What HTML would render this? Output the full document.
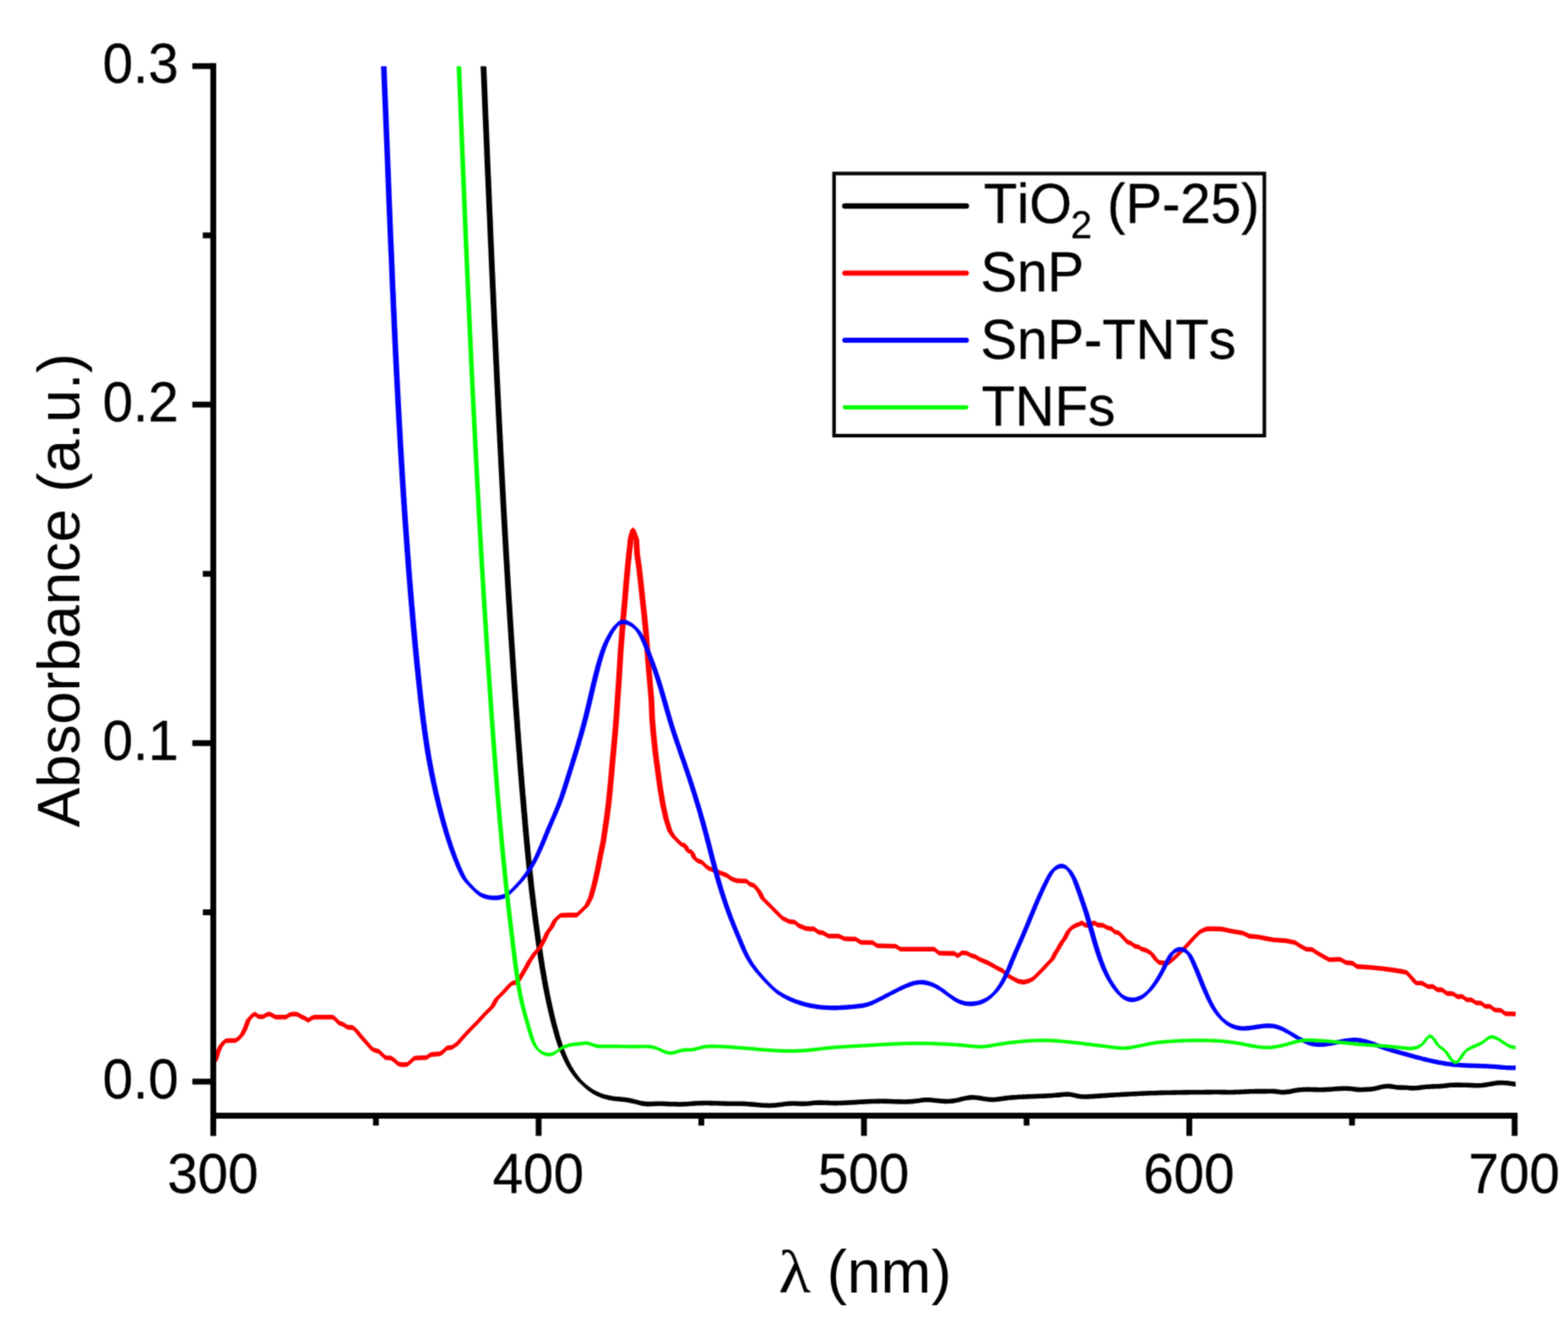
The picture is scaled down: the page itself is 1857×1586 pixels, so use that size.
<!DOCTYPE html>
<html><head><meta charset="utf-8"><title>UV-Vis Absorbance</title>
<style>
html,body{margin:0;padding:0;background:#fff;}
body{width:1857px;height:1586px;overflow:hidden;}
svg{display:block;}
text{font-family:"Liberation Sans",sans-serif;fill:#000;font-kerning:none;}
.b{stroke:#000;stroke-width:0.3px;stroke-linejoin:round;}
.sym{font-family:"Liberation Serif",serif;}
</style></head><body>
<svg width="1857" height="1586" viewBox="0 0 1857 1586">
<rect width="1857" height="1586" fill="#fff"/>
<defs><clipPath id="c"><rect x="250" y="78.6" width="1545" height="1246"/></clipPath>
<filter id="soft" x="0" y="0" width="1857" height="1586" filterUnits="userSpaceOnUse" color-interpolation-filters="sRGB"><feConvolveMatrix order="3" kernelMatrix="0.0400 0.1200 0.0400 0.1200 0.3600 0.1200 0.0400 0.1200 0.0400" divisor="1" edgeMode="duplicate" preserveAlpha="true"/></filter></defs>
<g filter="url(#soft)">
<rect width="1857" height="1586" fill="#fff"/>

<g clip-path="url(#c)" stroke="none" fill-rule="nonzero">
<path d="M571.7 55.2 571.8 57.7 571.9 60.2 572 62.7 572.1 65.2 572.2 67.7 572.3 70.2 572.5 72.7 572.5 75.2 572.6 77.7 572.8 80.2 572.9 82.7 573 85.2 573.1 87.7 573.2 90.2 573.3 92.7 573.4 95.2 573.5 97.7 573.6 100.2 573.7 102.7 573.8 105.2 573.9 107.7 574 110.2 574.1 112.7 574.2 115.2 574.3 117.7 574.4 120.1 574.5 122.6 574.6 125.1 574.7 127.6 574.8 130.1 574.9 132.6 575 135.1 575.1 137.6 575.2 140.1 575.4 142.6 575.5 145.1 575.5 147.6 575.7 150.1 575.8 152.6 575.9 155.1 576 157.6 576.1 160.1 576.2 162.6 576.3 165.1 576.4 167.6 576.5 170.1 576.6 172.6 576.7 175.1 576.8 177.6 576.9 180.1 577 182.6 577.1 185.1 577.2 187.6 577.3 190.1 577.4 192.6 577.5 195.1 577.6 197.6 577.7 200.1 577.8 202.6 578 205.1 578 207.6 578.2 210.1 578.3 212.6 578.4 215.1 578.5 217.6 578.6 220.1 578.7 222.5 578.8 225 578.9 227.5 579 230 579.1 232.5 579.2 235 579.3 237.5 579.4 240 579.5 242.5 579.6 245 579.7 247.5 579.9 250 580 252.5 580.1 255 580.2 257.5 580.3 260 580.4 262.5 580.5 265 580.6 267.5 580.7 270 580.8 272.5 580.9 275 581 277.5 581.1 280 581.2 282.5 581.3 285 581.5 287.5 581.6 290 581.7 292.5 581.8 295 581.9 297.5 582 300 582.1 302.5 582.2 305 582.3 307.5 582.4 310 582.5 312.5 582.6 315 582.8 317.5 582.9 320 583 322.5 583.1 325 583.2 327.5 583.3 330 583.4 332.4 583.5 334.9 583.6 337.4 583.7 339.9 583.9 342.4 584 344.9 584.1 347.4 584.2 349.9 584.3 352.4 584.4 354.9 584.5 357.4 584.6 359.9 584.8 362.4 584.9 364.9 585 367.4 585.1 369.9 585.2 372.4 585.3 374.9 585.4 377.4 585.5 379.9 585.6 382.4 585.8 384.9 585.9 387.4 586 389.9 586.1 392.4 586.2 394.9 586.3 397.4 586.5 399.9 586.6 402.4 586.7 404.9 586.8 407.4 586.9 409.9 587 412.4 587.1 414.9 587.3 417.4 587.4 419.9 587.5 422.4 587.6 424.9 587.7 427.3 587.9 429.8 588 432.3 588.1 434.8 588.2 437.3 588.3 439.8 588.4 442.3 588.6 444.8 588.7 447.3 588.8 449.8 588.9 452.3 589 454.8 589.1 457.3 589.3 459.8 589.4 462.3 589.5 464.8 589.6 467.3 589.8 469.8 589.9 472.3 590 474.8 590.1 477.3 590.2 479.8 590.4 482.3 590.5 484.8 590.6 487.3 590.7 489.8 590.9 492.3 591 494.8 591.1 497.3 591.2 499.8 591.4 502.3 591.5 504.8 591.6 507.3 591.7 509.8 591.9 512.2 592 514.8 592.1 517.2 592.2 519.7 592.4 522.2 592.5 524.7 592.6 527.2 592.8 529.7 592.9 532.2 593 534.7 593.1 537.2 593.3 539.7 593.4 542.2 593.5 544.7 593.6 547.2 593.8 549.7 593.9 552.2 594 554.7 594.2 557.2 594.3 559.7 594.4 562.2 594.6 564.7 594.7 567.2 594.8 569.7 595 572.2 595.1 574.7 595.2 577.2 595.4 579.7 595.5 582.2 595.6 584.7 595.8 587.2 595.9 589.6 596 592.1 596.2 594.6 596.3 597.1 596.4 599.6 596.6 602.1 596.7 604.6 596.9 607.1 597 609.6 597.1 612.1 597.3 614.6 597.4 617.1 597.5 619.6 597.7 622.1 597.8 624.6 598 627.1 598.1 629.6 598.2 632.1 598.4 634.6 598.5 637.1 598.7 639.6 598.8 642.1 599 644.6 599.1 647.1 599.2 649.6 599.4 652.1 599.5 654.5 599.7 657 599.8 659.5 600 662 600.1 664.5 600.3 667 600.4 669.5 600.5 672 600.7 674.5 600.9 677 601 679.5 601.1 682 601.3 684.5 601.4 687 601.6 689.5 601.7 692 601.9 694.5 602 697 602.2 699.5 602.3 702 602.5 704.5 602.6 707 602.8 709.5 603 711.9 603.1 714.4 603.3 716.9 603.4 719.4 603.6 721.9 603.7 724.4 603.9 726.9 604 729.4 604.2 731.9 604.4 734.4 604.5 736.9 604.7 739.4 604.8 741.9 605 744.4 605.1 746.9 605.3 749.4 605.5 751.9 605.6 754.4 605.8 756.9 606 759.4 606.1 761.8 606.3 764.3 606.4 766.8 606.6 769.3 606.8 771.8 606.9 774.3 607.1 776.8 607.3 779.3 607.4 781.8 607.6 784.3 607.8 786.8 607.9 789.3 608.1 791.8 608.3 794.3 608.4 796.8 608.6 799.3 608.8 801.8 608.9 804.2 609.1 806.8 609.3 809.2 609.5 811.7 609.6 814.2 609.8 816.7 610 819.2 610.1 821.7 610.3 824.2 610.5 826.7 610.7 829.2 610.8 831.7 611 834.2 611.2 836.7 611.4 839.2 611.6 841.7 611.7 844.2 611.9 846.7 612.1 849.2 612.3 851.6 612.5 854.1 612.6 856.6 612.8 859.1 613 861.6 613.2 864.1 613.4 866.6 613.6 869.1 613.8 871.6 613.9 874.1 614.1 876.6 614.3 879.1 614.5 881.6 614.7 884.1 614.9 886.5 615.1 889 615.3 891.5 615.5 894 615.6 896.5 615.9 899 616 901.5 616.2 904 616.4 906.5 616.6 909 616.8 911.5 617 914 617.2 916.5 617.4 918.9 617.6 921.4 617.8 923.9 618 926.4 618.2 928.9 618.4 931.4 618.6 933.9 618.9 936.4 619 938.9 619.3 941.4 619.5 943.9 619.7 946.3 619.9 948.8 620.1 951.3 620.3 953.8 620.5 956.3 620.7 958.8 621 961.3 621.2 963.8 621.4 966.3 621.6 968.8 621.8 971.2 622 973.7 622.2 976.2 622.5 978.7 622.7 981.2 622.9 983.7 623.1 986.2 623.4 988.7 623.6 991.2 623.8 993.6 624.1 996.1 624.3 998.6 624.5 1001.1 624.8 1003.6 625 1006.1 625.2 1008.6 625.5 1011.1 625.7 1013.5 626 1016 626.2 1018.5 626.5 1021 626.7 1023.5 627 1026 627.3 1028.5 627.5 1031 627.8 1033.4 628.1 1035.9 628.3 1038.4 628.6 1040.9 628.9 1043.4 629.1 1045.9 629.4 1048.4 629.7 1050.8 630 1053.3 630.3 1055.8 630.6 1058.3 630.9 1060.8 631.2 1063.2 631.5 1065.7 631.8 1068.2 632.1 1070.7 632.4 1073.2 632.7 1075.7 633 1078.1 633.4 1080.6 633.7 1083.1 634 1085.6 634.3 1088.1 634.7 1090.5 635 1093 635.3 1095.5 635.7 1098 636 1100.5 636.4 1102.9 636.7 1105.4 637 1107.9 637.4 1110.4 637.7 1112.8 638.1 1115.3 638.4 1117.8 638.8 1120.3 639.2 1122.7 639.5 1125.2 639.9 1127.7 640.3 1130.1 640.7 1132.6 641 1135.1 641.4 1137.5 641.8 1140 642.2 1142.5 642.6 1144.9 643 1147.4 643.5 1149.9 643.9 1152.3 644.3 1154.8 644.7 1157.2 645.2 1159.7 645.6 1162.2 646.1 1164.6 646.5 1167.1 647 1169.5 647.5 1172 648 1174.4 648.5 1176.9 649 1179.3 649.5 1181.8 650 1184.2 650.5 1186.7 651.1 1189.1 651.6 1191.5 652.2 1194 652.7 1196.4 653.3 1198.9 653.9 1201.3 654.5 1203.7 655.1 1206.1 655.7 1208.6 656.3 1211 657 1213.4 657.6 1215.8 658.3 1218.3 659 1220.7 659.7 1223.1 660.4 1225.5 661.1 1227.9 661.8 1230.3 662.6 1232.7 663.4 1235.1 664.2 1237.4 665 1239.8 665.9 1242.1 666.8 1244.4 667.8 1246.7 668.8 1249 669.8 1251.3 670.9 1253.5 672 1255.8 673.1 1258 674.3 1260.1 675.6 1262.3 676.9 1264.4 678.2 1266.5 679.6 1268.5 681.1 1270.5 682.6 1272.5 684.2 1274.5 685.9 1276.4 687.6 1278.2 689.4 1280 691.2 1281.8 693.1 1283.4 695 1285 697 1286.6 699 1288 701.1 1289.4 703.2 1290.7 705.4 1291.9 707.7 1293 710 1294 712.3 1294.9 714.6 1295.7 717 1296.4 719.5 1297 721.9 1297.6 724.4 1298 726.8 1298.4 729.3 1298.7 731.8 1298.9 734.3 1299.1 736.8 1299.4 739.2 1299.6 741.7 1300 744.1 1300.3 746.6 1300.8 749 1301.3 751.4 1301.9 753.9 1302.5 756.3 1303.2 758.7 1303.8 761.2 1304.3 763.6 1304.6 766.1 1304.8 768.6 1304.8 771.1 1304.8 773.6 1304.7 776.1 1304.6 778.7 1304.5 781.2 1304.5 783.7 1304.5 786.2 1304.6 788.7 1304.7 791.2 1304.8 793.7 1304.9 796.2 1305 798.7 1305 801.2 1305.1 803.7 1305.2 806.1 1305.2 808.6 1305.1 811.1 1305 813.6 1304.9 816.1 1304.7 818.6 1304.5 821.1 1304.3 823.6 1304.1 826.1 1304 828.6 1303.9 831.1 1303.8 833.6 1303.7 836.1 1303.7 838.6 1303.7 841.1 1303.8 843.6 1303.8 846.1 1303.9 848.6 1304 851.1 1304.1 853.6 1304.2 856.1 1304.2 858.6 1304.3 861.1 1304.4 863.6 1304.4 866.1 1304.5 868.6 1304.5 871.1 1304.5 873.6 1304.5 876.1 1304.5 878.6 1304.5 881.1 1304.6 883.6 1304.7 886.1 1304.9 888.5 1305.1 891 1305.3 893.5 1305.5 896 1305.8 898.5 1306 901 1306.2 903.5 1306.4 906 1306.5 908.5 1306.6 911 1306.7 913.5 1306.6 916 1306.5 918.5 1306.3 921 1306 923.5 1305.7 926 1305.4 928.4 1305 930.9 1304.7 933.4 1304.5 935.9 1304.3 938.4 1304.2 940.9 1304.2 943.3 1304.3 945.8 1304.5 948.3 1304.6 950.8 1304.6 953.3 1304.6 955.8 1304.4 958.3 1304.2 960.8 1303.9 963.2 1303.6 965.8 1303.4 968.2 1303.3 970.7 1303.3 973.2 1303.3 975.7 1303.4 978.2 1303.5 980.8 1303.6 983.2 1303.7 985.8 1303.7 988.2 1303.8 990.8 1303.8 993.2 1303.7 995.7 1303.7 998.2 1303.6 1000.7 1303.5 1003.2 1303.3 1005.7 1303.2 1008.2 1303.1 1010.7 1302.9 1013.2 1302.8 1015.7 1302.6 1018.2 1302.5 1020.7 1302.3 1023.2 1302.2 1025.7 1302.1 1028.2 1302 1030.7 1301.8 1033.2 1301.8 1035.7 1301.7 1038.2 1301.6 1040.7 1301.6 1043.2 1301.5 1045.7 1301.6 1048.2 1301.6 1050.7 1301.6 1053.2 1301.7 1055.7 1301.8 1058.2 1301.9 1060.7 1302 1063.2 1302.1 1065.7 1302.1 1068.2 1302.2 1070.7 1302.2 1073.1 1302.2 1075.6 1302.1 1078.1 1302 1080.6 1301.8 1083.1 1301.5 1085.6 1301.2 1088.1 1300.9 1090.6 1300.5 1093.1 1300.2 1095.6 1300 1098 1300 1100.5 1300 1103 1300.2 1105.5 1300.4 1108 1300.7 1110.6 1301 1113.1 1301.2 1115.6 1301.5 1118.1 1301.6 1120.6 1301.7 1123 1301.7 1125.5 1301.5 1128 1301.3 1130.5 1301 1132.9 1300.5 1135.4 1299.9 1137.8 1299.3 1140.2 1298.7 1142.7 1298.2 1145.1 1297.7 1147.6 1297.3 1150 1297.1 1152.5 1297 1155 1297.2 1157.5 1297.5 1160 1297.8 1162.5 1298.2 1165 1298.7 1167.5 1299 1170 1299.4 1172.5 1299.6 1175 1299.7 1177.5 1299.7 1180 1299.4 1182.4 1299.1 1184.9 1298.8 1187.4 1298.4 1189.9 1298.1 1192.3 1297.8 1194.8 1297.5 1197.3 1297.3 1199.8 1297.1 1202.3 1296.9 1204.8 1296.7 1207.3 1296.5 1209.8 1296.4 1212.3 1296.3 1214.8 1296.2 1217.3 1296.1 1219.8 1296 1222.3 1295.9 1224.8 1295.8 1227.3 1295.7 1229.8 1295.6 1232.3 1295.5 1234.8 1295.4 1237.3 1295.3 1239.8 1295.2 1242.3 1295 1244.8 1294.9 1247.3 1294.7 1249.8 1294.5 1252.2 1294.3 1254.7 1294.1 1257.2 1293.8 1259.7 1293.5 1262.2 1293.4 1264.7 1293.3 1267.1 1293.5 1269.6 1294 1272 1294.5 1274.5 1295.1 1276.9 1295.6 1279.4 1296 1281.9 1296.2 1284.4 1296.2 1286.9 1296.2 1289.3 1296.1 1291.8 1295.9 1294.3 1295.8 1296.8 1295.6 1299.3 1295.4 1301.8 1295.3 1304.3 1295.1 1306.8 1295 1309.3 1294.8 1311.8 1294.6 1314.3 1294.5 1316.8 1294.3 1319.3 1294.2 1321.8 1294 1324.3 1293.9 1326.8 1293.7 1329.3 1293.6 1331.8 1293.4 1334.3 1293.3 1336.8 1293.2 1339.3 1293 1341.8 1292.9 1344.3 1292.8 1346.8 1292.7 1349.3 1292.5 1351.8 1292.4 1354.3 1292.3 1356.8 1292.2 1359.3 1292.1 1361.8 1292 1364.3 1291.9 1366.8 1291.9 1369.3 1291.8 1371.8 1291.7 1374.3 1291.6 1376.8 1291.6 1379.2 1291.5 1381.8 1291.5 1384.2 1291.4 1386.8 1291.4 1389.2 1291.3 1391.8 1291.3 1394.2 1291.2 1396.8 1291.2 1399.2 1291.2 1401.8 1291.1 1404.2 1291.1 1406.8 1291.1 1409.2 1291 1411.8 1291 1414.2 1291 1416.7 1291 1419.2 1290.9 1421.7 1290.9 1424.2 1290.9 1426.7 1290.8 1429.2 1290.8 1431.7 1290.8 1434.2 1290.8 1436.7 1290.7 1439.2 1290.7 1441.7 1290.7 1444.2 1290.8 1446.7 1290.8 1449.2 1290.8 1451.7 1290.8 1454.2 1290.9 1456.7 1290.9 1459.2 1290.9 1461.7 1290.8 1464.2 1290.8 1466.7 1290.7 1469.2 1290.6 1471.7 1290.4 1474.2 1290.3 1476.7 1290.2 1479.2 1290.1 1481.7 1290 1484.2 1289.9 1486.7 1289.8 1489.2 1289.8 1491.7 1289.8 1494.2 1289.8 1496.7 1289.8 1499.2 1289.8 1501.7 1289.7 1504.2 1289.7 1506.7 1289.7 1509.2 1289.8 1511.6 1290.1 1514.1 1290.5 1516.6 1290.8 1519.1 1290.9 1521.5 1290.8 1524 1290.6 1526.5 1290.3 1528.9 1289.8 1531.4 1289.3 1533.8 1288.8 1536.3 1288.4 1538.8 1288.1 1541.2 1287.9 1543.7 1287.7 1546.2 1287.7 1548.7 1287.6 1551.2 1287.7 1553.7 1287.7 1556.2 1287.8 1558.7 1287.8 1561.2 1287.9 1563.7 1287.9 1566.2 1287.9 1568.7 1287.8 1571.2 1287.7 1573.8 1287.6 1576.2 1287.4 1578.8 1287.2 1581.2 1287 1583.7 1286.8 1586.2 1286.7 1588.7 1286.6 1591.2 1286.5 1593.7 1286.5 1596.2 1286.6 1598.7 1286.7 1601.2 1287 1603.7 1287.3 1606.1 1287.6 1608.6 1287.8 1611.1 1287.9 1613.6 1287.8 1616.1 1287.7 1618.6 1287.6 1621.1 1287.4 1623.6 1287.3 1626.1 1287 1628.5 1286.6 1631 1286 1633.4 1285.3 1635.8 1284.7 1638.2 1284.2 1640.7 1283.9 1643.2 1283.7 1645.6 1283.8 1648.1 1284.1 1650.5 1284.5 1653 1284.9 1655.4 1285.2 1657.8 1285.3 1660.3 1285.3 1662.8 1285.4 1665.3 1285.5 1667.8 1285.8 1670.3 1286 1672.8 1286.1 1675.3 1286 1677.7 1285.9 1680.2 1285.6 1682.7 1285.3 1685.1 1285 1687.6 1284.8 1690 1284.5 1692.5 1284.4 1695 1284.2 1697.5 1284.1 1700 1284 1702.5 1283.9 1705 1283.8 1707.5 1283.6 1710 1283.4 1712.5 1283.1 1714.9 1282.8 1717.4 1282.5 1719.9 1282.4 1722.4 1282.3 1724.9 1282.3 1727.4 1282.3 1729.9 1282.3 1732.4 1282.4 1734.9 1282.4 1737.4 1282.5 1739.9 1282.6 1742.4 1282.7 1744.9 1282.8 1747.3 1282.9 1749.8 1282.9 1752.3 1282.9 1754.8 1282.7 1757.3 1282.5 1759.8 1282.1 1762.2 1281.7 1764.7 1281.2 1767.2 1280.8 1769.7 1280.4 1772.1 1280 1774.6 1279.8 1777.1 1279.7 1779.6 1279.7 1782.1 1279.9 1784.6 1280 1787.1 1280.3 1789.6 1280.7 1792.1 1281.1 1794.5 1281.5 1797 1282.1 1799.4 1282.6 1801.2 1283.1 1801.2 1288.7 1799.4 1288.2 1797 1287.7 1794.5 1287.1 1792.1 1286.7 1789.6 1286.3 1787.1 1285.9 1784.6 1285.6 1782.1 1285.5 1779.6 1285.3 1777.1 1285.3 1774.6 1285.4 1772.1 1285.6 1769.7 1286 1767.2 1286.4 1764.7 1286.8 1762.2 1287.3 1759.8 1287.7 1757.3 1288.1 1754.8 1288.3 1752.3 1288.5 1749.8 1288.5 1747.3 1288.5 1744.9 1288.4 1742.4 1288.3 1739.9 1288.2 1737.4 1288.1 1734.9 1288 1732.4 1288 1729.9 1287.9 1727.4 1287.9 1724.9 1287.9 1722.4 1287.9 1719.9 1288 1717.4 1288.1 1714.9 1288.4 1712.5 1288.7 1710 1289 1707.5 1289.2 1705 1289.4 1702.5 1289.5 1700 1289.6 1697.5 1289.7 1695 1289.8 1692.5 1290 1690 1290.1 1687.6 1290.3 1685.1 1290.6 1682.7 1290.9 1680.2 1291.2 1677.7 1291.5 1675.3 1291.6 1672.8 1291.7 1670.3 1291.5 1667.8 1291.3 1665.3 1291.1 1662.8 1291 1660.3 1290.9 1657.8 1290.9 1655.4 1290.8 1653 1290.5 1650.5 1290.1 1648.1 1289.7 1645.6 1289.4 1643.2 1289.3 1640.7 1289.5 1638.2 1289.8 1635.8 1290.3 1633.4 1290.9 1631 1291.6 1628.5 1292.2 1626.1 1292.6 1623.6 1292.9 1621.1 1293 1618.6 1293.2 1616.1 1293.3 1613.6 1293.4 1611.1 1293.5 1608.6 1293.4 1606.1 1293.2 1603.7 1292.9 1601.2 1292.6 1598.7 1292.3 1596.2 1292.2 1593.7 1292.1 1591.2 1292.1 1588.7 1292.2 1586.2 1292.3 1583.7 1292.4 1581.2 1292.6 1578.8 1292.8 1576.2 1293 1573.8 1293.2 1571.2 1293.3 1568.7 1293.4 1566.2 1293.5 1563.7 1293.5 1561.2 1293.5 1558.7 1293.4 1556.2 1293.4 1553.7 1293.3 1551.2 1293.3 1548.7 1293.2 1546.2 1293.3 1543.7 1293.3 1541.2 1293.5 1538.8 1293.7 1536.3 1294 1533.8 1294.4 1531.4 1294.9 1528.9 1295.4 1526.5 1295.9 1524 1296.2 1521.5 1296.4 1519.1 1296.5 1516.6 1296.4 1514.1 1296.1 1511.6 1295.7 1509.2 1295.4 1506.7 1295.3 1504.2 1295.2 1501.7 1295.3 1499.2 1295.4 1496.7 1295.4 1494.2 1295.4 1491.7 1295.4 1489.2 1295.4 1486.7 1295.4 1484.2 1295.5 1481.7 1295.6 1479.2 1295.7 1476.7 1295.8 1474.2 1295.9 1471.7 1296 1469.2 1296.2 1466.7 1296.3 1464.2 1296.3 1461.7 1296.4 1459.2 1296.5 1456.7 1296.5 1454.2 1296.5 1451.7 1296.4 1449.2 1296.4 1446.7 1296.4 1444.2 1296.3 1441.7 1296.3 1439.2 1296.3 1436.7 1296.3 1434.2 1296.4 1431.7 1296.4 1429.2 1296.4 1426.7 1296.4 1424.2 1296.5 1421.7 1296.5 1419.2 1296.5 1416.7 1296.5 1414.2 1296.6 1411.8 1296.6 1409.2 1296.6 1406.8 1296.7 1404.2 1296.7 1401.8 1296.7 1399.2 1296.8 1396.8 1296.8 1394.2 1296.8 1391.8 1296.9 1389.2 1296.9 1386.8 1297 1384.2 1297 1381.8 1297.1 1379.2 1297.1 1376.8 1297.2 1374.3 1297.2 1371.8 1297.3 1369.3 1297.4 1366.8 1297.5 1364.3 1297.5 1361.8 1297.6 1359.3 1297.7 1356.8 1297.8 1354.3 1297.9 1351.8 1298 1349.3 1298.1 1346.8 1298.3 1344.3 1298.4 1341.8 1298.5 1339.3 1298.6 1336.8 1298.8 1334.3 1298.9 1331.8 1299 1329.3 1299.2 1326.8 1299.3 1324.3 1299.5 1321.8 1299.6 1319.3 1299.8 1316.8 1299.9 1314.3 1300.1 1311.8 1300.2 1309.3 1300.4 1306.8 1300.5 1304.3 1300.7 1301.8 1300.9 1299.3 1301 1296.8 1301.2 1294.3 1301.4 1291.8 1301.5 1289.3 1301.7 1286.9 1301.8 1284.4 1301.8 1281.9 1301.8 1279.4 1301.6 1276.9 1301.2 1274.5 1300.7 1272 1300.1 1269.6 1299.6 1267.1 1299.1 1264.7 1298.9 1262.2 1299 1259.7 1299.1 1257.2 1299.4 1254.7 1299.7 1252.2 1299.9 1249.8 1300.1 1247.3 1300.3 1244.8 1300.5 1242.3 1300.6 1239.8 1300.8 1237.3 1300.9 1234.8 1301 1232.3 1301.1 1229.8 1301.2 1227.3 1301.3 1224.8 1301.4 1222.3 1301.5 1219.8 1301.6 1217.3 1301.7 1214.8 1301.8 1212.3 1301.9 1209.8 1302 1207.3 1302.1 1204.8 1302.3 1202.3 1302.5 1199.8 1302.7 1197.3 1302.9 1194.8 1303.1 1192.3 1303.4 1189.9 1303.7 1187.4 1304 1184.9 1304.4 1182.4 1304.7 1180 1305 1177.5 1305.3 1175 1305.3 1172.5 1305.2 1170 1305 1167.5 1304.6 1165 1304.2 1162.5 1303.8 1160 1303.4 1157.5 1303.1 1155 1302.8 1152.5 1302.6 1150 1302.7 1147.6 1302.9 1145.1 1303.3 1142.7 1303.8 1140.2 1304.3 1137.8 1304.9 1135.4 1305.5 1132.9 1306.1 1130.5 1306.6 1128 1306.9 1125.5 1307.1 1123 1307.2 1120.6 1307.3 1118.1 1307.2 1115.6 1307 1113.1 1306.8 1110.6 1306.6 1108 1306.3 1105.5 1306 1103 1305.8 1100.5 1305.6 1098 1305.5 1095.6 1305.6 1093.1 1305.8 1090.6 1306.1 1088.1 1306.5 1085.6 1306.8 1083.1 1307.1 1080.6 1307.4 1078.1 1307.6 1075.6 1307.7 1073.1 1307.8 1070.7 1307.8 1068.2 1307.8 1065.7 1307.7 1063.2 1307.7 1060.7 1307.6 1058.2 1307.5 1055.7 1307.4 1053.2 1307.3 1050.7 1307.2 1048.2 1307.2 1045.7 1307.2 1043.2 1307.1 1040.7 1307.2 1038.2 1307.2 1035.7 1307.3 1033.2 1307.3 1030.7 1307.4 1028.2 1307.5 1025.7 1307.7 1023.2 1307.8 1020.7 1307.9 1018.2 1308.1 1015.7 1308.2 1013.2 1308.4 1010.7 1308.5 1008.2 1308.7 1005.7 1308.8 1003.2 1308.9 1000.7 1309.1 998.2 1309.2 995.7 1309.3 993.2 1309.3 990.8 1309.4 988.2 1309.4 985.8 1309.3 983.2 1309.3 980.8 1309.2 978.2 1309.1 975.7 1309 973.2 1308.9 970.7 1308.9 968.2 1308.9 965.8 1309 963.2 1309.2 960.8 1309.5 958.3 1309.8 955.8 1310 953.3 1310.2 950.8 1310.2 948.3 1310.2 945.8 1310.1 943.3 1309.9 940.9 1309.8 938.4 1309.8 935.9 1309.9 933.4 1310.1 930.9 1310.3 928.4 1310.6 926 1311 923.5 1311.3 921 1311.6 918.5 1311.9 916 1312.1 913.5 1312.2 911 1312.3 908.5 1312.2 906 1312.1 903.5 1312 901 1311.8 898.5 1311.6 896 1311.4 893.5 1311.1 891 1310.9 888.5 1310.7 886.1 1310.5 883.6 1310.3 881.1 1310.2 878.6 1310.1 876.1 1310.1 873.6 1310.1 871.1 1310.1 868.6 1310.1 866.1 1310.1 863.6 1310 861.1 1310 858.6 1309.9 856.1 1309.8 853.6 1309.8 851.1 1309.7 848.6 1309.6 846.1 1309.5 843.6 1309.4 841.1 1309.4 838.6 1309.3 836.1 1309.3 833.6 1309.3 831.1 1309.4 828.6 1309.5 826.1 1309.6 823.6 1309.7 821.1 1309.9 818.6 1310.1 816.1 1310.3 813.6 1310.5 811.1 1310.6 808.6 1310.7 806.1 1310.8 803.7 1310.8 801.2 1310.7 798.7 1310.6 796.2 1310.6 793.7 1310.5 791.2 1310.4 788.7 1310.3 786.2 1310.2 783.7 1310.1 781.2 1310.1 778.7 1310.1 776.1 1310.2 773.6 1310.3 771.1 1310.4 768.6 1310.4 766.1 1310.4 763.6 1310.2 761.2 1309.9 758.7 1309.4 756.3 1308.8 753.9 1308.1 751.4 1307.5 749 1306.9 746.6 1306.4 744.1 1305.9 741.7 1305.5 739.2 1305.2 736.8 1305 734.3 1304.7 731.8 1304.5 729.3 1304.3 726.8 1304 724.4 1303.6 721.9 1303.2 719.5 1302.6 717 1302 714.6 1301.3 712.3 1300.5 710 1299.6 707.7 1298.6 705.4 1297.5 703.2 1296.3 701.1 1295 699 1293.6 697 1292.2 695 1290.6 693.1 1289 691.2 1287.3 689.4 1285.6 687.6 1283.8 685.9 1282 684.2 1280.1 682.6 1278.1 681.1 1276.1 679.6 1274.1 678.2 1272.1 676.9 1270 675.6 1267.9 674.3 1265.7 673.1 1263.5 672 1261.4 670.9 1259.1 669.8 1256.9 668.8 1254.6 667.8 1252.3 666.8 1250 665.9 1247.7 665 1245.4 664.2 1243 663.4 1240.7 662.6 1238.3 661.8 1235.9 661.1 1233.5 660.4 1231.1 659.7 1228.7 659 1226.3 658.3 1223.9 657.6 1221.4 657 1219 656.3 1216.6 655.7 1214.2 655.1 1211.7 654.5 1209.3 653.9 1206.9 653.3 1204.5 652.7 1202 652.2 1199.6 651.6 1197.1 651.1 1194.7 650.5 1192.3 650 1189.8 649.5 1187.4 649 1184.9 648.5 1182.5 648 1180 647.5 1177.6 647 1175.1 646.5 1172.7 646.1 1170.2 645.6 1167.8 645.2 1165.3 644.7 1162.8 644.3 1160.4 643.9 1157.9 643.5 1155.5 643 1153 642.6 1150.5 642.2 1148.1 641.8 1145.6 641.4 1143.1 641 1140.7 640.7 1138.2 640.3 1135.7 639.9 1133.3 639.5 1130.8 639.2 1128.3 638.8 1125.9 638.4 1123.4 638.1 1120.9 637.7 1118.4 637.4 1116 637 1113.5 636.7 1111 636.4 1108.5 636 1106 635.7 1103.6 635.3 1101.1 635 1098.6 634.7 1096.1 634.3 1093.7 634 1091.2 633.7 1088.7 633.4 1086.2 633 1083.7 632.7 1081.3 632.4 1078.8 632.1 1076.3 631.8 1073.8 631.5 1071.3 631.2 1068.8 630.9 1066.4 630.6 1063.9 630.3 1061.4 630 1058.9 629.7 1056.4 629.4 1054 629.1 1051.5 628.9 1049 628.6 1046.5 628.3 1044 628.1 1041.5 627.8 1039 627.5 1036.5 627.3 1034.1 627 1031.6 626.7 1029.1 626.5 1026.6 626.2 1024.1 626 1021.6 625.7 1019.1 625.5 1016.7 625.2 1014.2 625 1011.7 624.8 1009.2 624.5 1006.7 624.3 1004.2 624.1 1001.7 623.8 999.2 623.6 996.8 623.4 994.3 623.1 991.8 622.9 989.3 622.7 986.8 622.5 984.3 622.2 981.8 622 979.3 621.8 976.8 621.6 974.3 621.4 971.9 621.2 969.4 621 966.9 620.7 964.4 620.5 961.9 620.3 959.4 620.1 956.9 619.9 954.4 619.7 951.9 619.5 949.4 619.3 947 619 944.5 618.9 942 618.6 939.5 618.4 937 618.2 934.5 618 932 617.8 929.5 617.6 927 617.4 924.5 617.2 922 617 919.5 616.8 917.1 616.6 914.6 616.4 912.1 616.2 909.6 616 907.1 615.9 904.6 615.6 902.1 615.5 899.6 615.3 897.1 615.1 894.6 614.9 892.1 614.7 889.6 614.5 887.2 614.3 884.7 614.1 882.2 613.9 879.7 613.8 877.2 613.6 874.7 613.4 872.2 613.2 869.7 613 867.2 612.8 864.7 612.6 862.2 612.5 859.7 612.3 857.2 612.1 854.8 611.9 852.2 611.7 849.8 611.6 847.3 611.4 844.8 611.2 842.3 611 839.8 610.8 837.3 610.7 834.8 610.5 832.3 610.3 829.8 610.1 827.3 610 824.8 609.8 822.3 609.6 819.8 609.5 817.3 609.3 814.8 609.1 812.3 608.9 809.8 608.8 807.4 608.6 804.9 608.4 802.4 608.3 799.9 608.1 797.4 607.9 794.9 607.8 792.4 607.6 789.9 607.4 787.4 607.3 784.9 607.1 782.4 606.9 779.9 606.8 777.4 606.6 774.9 606.4 772.4 606.3 769.9 606.1 767.4 606 764.9 605.8 762.4 605.6 760 605.5 757.5 605.3 755 605.1 752.5 605 750 604.8 747.5 604.7 745 604.5 742.5 604.4 740 604.2 737.5 604 735 603.9 732.5 603.7 730 603.6 727.5 603.4 725 603.3 722.5 603.1 720 603 717.5 602.8 715 602.6 712.5 602.5 710.1 602.3 707.6 602.2 705.1 602 702.6 601.9 700.1 601.7 697.6 601.6 695.1 601.4 692.6 601.3 690.1 601.1 687.6 601 685.1 600.9 682.6 600.7 680.1 600.5 677.6 600.4 675.1 600.3 672.6 600.1 670.1 600 667.6 599.8 665.1 599.7 662.6 599.5 660.1 599.4 657.6 599.2 655.1 599.1 652.7 599 650.2 598.8 647.7 598.7 645.2 598.5 642.7 598.4 640.2 598.2 637.7 598.1 635.2 598 632.7 597.8 630.2 597.7 627.7 597.5 625.2 597.4 622.7 597.3 620.2 597.1 617.7 597 615.2 596.9 612.7 596.7 610.2 596.6 607.7 596.4 605.2 596.3 602.7 596.2 600.2 596 597.7 595.9 595.2 595.8 592.8 595.6 590.2 595.5 587.8 595.4 585.3 595.2 582.8 595.1 580.3 595 577.8 594.8 575.3 594.7 572.8 594.6 570.3 594.4 567.8 594.3 565.3 594.2 562.8 594 560.3 593.9 557.8 593.8 555.3 593.6 552.8 593.5 550.3 593.4 547.8 593.3 545.3 593.1 542.8 593 540.3 592.9 537.8 592.8 535.3 592.6 532.8 592.5 530.3 592.4 527.8 592.2 525.3 592.1 522.8 592 520.3 591.9 517.8 591.7 515.4 591.6 512.9 591.5 510.4 591.4 507.9 591.2 505.4 591.1 502.9 591 500.4 590.9 497.9 590.7 495.4 590.6 492.9 590.5 490.4 590.4 487.9 590.2 485.4 590.1 482.9 590 480.4 589.9 477.9 589.8 475.4 589.6 472.9 589.5 470.4 589.4 467.9 589.3 465.4 589.1 462.9 589 460.4 588.9 457.9 588.8 455.4 588.7 452.9 588.6 450.4 588.4 447.9 588.3 445.4 588.2 442.9 588.1 440.4 588 437.9 587.9 435.4 587.7 432.9 587.6 430.5 587.5 428 587.4 425.5 587.3 423 587.1 420.5 587 418 586.9 415.5 586.8 413 586.7 410.5 586.6 408 586.5 405.5 586.3 403 586.2 400.5 586.1 398 586 395.5 585.9 393 585.8 390.5 585.6 388 585.5 385.5 585.4 383 585.3 380.5 585.2 378 585.1 375.5 585 373 584.9 370.5 584.8 368 584.6 365.5 584.5 363 584.4 360.5 584.3 358 584.2 355.5 584.1 353 584 350.5 583.9 348 583.7 345.6 583.6 343.1 583.5 340.6 583.4 338.1 583.3 335.6 583.2 333.1 583.1 330.6 583 328.1 582.9 325.6 582.8 323.1 582.6 320.6 582.5 318.1 582.4 315.6 582.3 313.1 582.2 310.6 582.1 308.1 582 305.6 581.9 303.1 581.8 300.6 581.7 298.1 581.6 295.6 581.5 293.1 581.3 290.6 581.2 288.1 581.1 285.6 581 283.1 580.9 280.6 580.8 278.1 580.7 275.6 580.6 273.1 580.5 270.6 580.4 268.1 580.3 265.6 580.2 263.1 580.1 260.6 580 258.1 579.9 255.6 579.7 253.1 579.6 250.6 579.5 248.1 579.4 245.6 579.3 243.1 579.2 240.6 579.1 238.2 579 235.7 578.9 233.2 578.8 230.7 578.7 228.2 578.6 225.7 578.5 223.2 578.4 220.7 578.3 218.2 578.2 215.7 578 213.2 578 210.7 577.8 208.2 577.7 205.7 577.6 203.2 577.5 200.7 577.4 198.2 577.3 195.7 577.2 193.2 577.1 190.7 577 188.2 576.9 185.7 576.8 183.2 576.7 180.7 576.6 178.2 576.5 175.7 576.4 173.2 576.3 170.7 576.2 168.2 576.1 165.7 576 163.2 575.9 160.7 575.8 158.2 575.7 155.7 575.5 153.2 575.5 150.7 575.4 148.2 575.2 145.7 575.1 143.2 575 140.7 574.9 138.2 574.8 135.7 574.7 133.2 574.6 130.7 574.5 128.2 574.4 125.7 574.3 123.2 574.2 120.8 574.1 118.2 574 115.8 573.9 113.2 573.8 110.8 573.7 108.3 573.6 105.8 573.5 103.3 573.4 100.8 573.3 98.3 573.2 95.8 573.1 93.3 573 90.8 572.9 88.3 572.8 85.8 572.6 83.3 572.5 80.8 572.5 78.3 572.3 75.8 572.2 73.3 572.1 70.8 572 68.3 571.9 65.8 571.8 63.3 571.7 60.8ZM575.1 58 575.2 60.5 575.3 63 575.4 65.5 575.5 68 575.6 70.5 575.7 73 575.9 75.5 575.9 78 576 80.5 576.2 83 576.3 85.5 576.4 88 576.5 90.5 576.6 93 576.7 95.5 576.8 98 576.9 100.5 577 103 577.1 105.5 577.2 108 577.3 110.5 577.4 113 577.5 115.5 577.6 118 577.7 120.5 577.8 122.9 577.9 125.4 578 127.9 578.1 130.4 578.2 132.9 578.3 135.4 578.4 137.9 578.5 140.4 578.6 142.9 578.8 145.4 578.9 147.9 578.9 150.4 579.1 152.9 579.2 155.4 579.3 157.9 579.4 160.4 579.5 162.9 579.6 165.4 579.7 167.9 579.8 170.4 579.9 172.9 580 175.4 580.1 177.9 580.2 180.4 580.3 182.9 580.4 185.4 580.5 187.9 580.6 190.4 580.7 192.9 580.8 195.4 580.9 197.9 581 200.4 581.1 202.9 581.2 205.4 581.4 207.9 581.4 210.4 581.6 212.9 581.7 215.4 581.8 217.9 581.9 220.4 582 222.9 582.1 225.3 582.2 227.8 582.3 230.3 582.4 232.8 582.5 235.3 582.6 237.8 582.7 240.3 582.8 242.8 582.9 245.3 583 247.8 583.1 250.3 583.2 252.8 583.4 255.3 583.5 257.8 583.6 260.3 583.7 262.8 583.8 265.3 583.9 267.8 584 270.3 584.1 272.8 584.2 275.3 584.3 277.8 584.4 280.3 584.5 282.8 584.6 285.3 584.7 287.8 584.9 290.3 585 292.8 585.1 295.3 585.2 297.8 585.3 300.3 585.4 302.8 585.5 305.3 585.6 307.8 585.7 310.3 585.8 312.8 585.9 315.3 586 317.8 586.1 320.3 586.3 322.8 586.4 325.3 586.5 327.8 586.6 330.3 586.7 332.8 586.8 335.2 586.9 337.8 587 340.2 587.1 342.8 587.3 345.2 587.4 347.7 587.5 350.2 587.6 352.7 587.7 355.2 587.8 357.7 587.9 360.2 588 362.7 588.1 365.2 588.3 367.7 588.4 370.2 588.5 372.7 588.6 375.2 588.7 377.7 588.8 380.2 588.9 382.7 589 385.2 589.2 387.7 589.3 390.2 589.4 392.7 589.5 395.2 589.6 397.7 589.7 400.2 589.9 402.7 590 405.2 590.1 407.7 590.2 410.2 590.3 412.7 590.4 415.2 590.5 417.7 590.7 420.2 590.8 422.7 590.9 425.2 591 427.7 591.1 430.1 591.2 432.6 591.4 435.1 591.5 437.6 591.6 440.1 591.7 442.6 591.8 445.1 592 447.6 592.1 450.1 592.2 452.6 592.3 455.1 592.4 457.6 592.5 460.1 592.7 462.6 592.8 465.1 592.9 467.6 593 470.1 593.2 472.6 593.3 475.1 593.4 477.6 593.5 480.1 593.6 482.6 593.8 485.1 593.9 487.6 594 490.1 594.1 492.6 594.3 495.1 594.4 497.6 594.5 500.1 594.6 502.6 594.8 505.1 594.9 507.6 595 510.1 595.1 512.6 595.3 515 595.4 517.5 595.5 520 595.6 522.5 595.8 525 595.9 527.5 596 530 596.1 532.5 596.3 535 596.4 537.5 596.5 540 596.7 542.5 596.8 545 596.9 547.5 597 550 597.2 552.5 597.3 555 597.4 557.5 597.6 560 597.7 562.5 597.8 565 598 567.5 598.1 570 598.2 572.5 598.4 575 598.5 577.5 598.6 580 598.8 582.5 598.9 585 599 587.5 599.2 590 599.3 592.4 599.4 594.9 599.6 597.4 599.7 599.9 599.8 602.4 600 604.9 600.1 607.4 600.2 609.9 600.4 612.4 600.5 614.9 600.7 617.4 600.8 619.9 600.9 622.4 601.1 624.9 601.2 627.4 601.4 629.9 601.5 632.4 601.6 634.9 601.8 637.4 601.9 639.9 602.1 642.4 602.2 644.9 602.4 647.4 602.5 649.9 602.6 652.4 602.8 654.9 602.9 657.3 603.1 659.8 603.2 662.3 603.4 664.8 603.5 667.3 603.7 669.8 603.8 672.3 603.9 674.8 604.1 677.3 604.2 679.8 604.4 682.3 604.5 684.8 604.7 687.3 604.8 689.8 605 692.3 605.1 694.8 605.3 697.3 605.4 699.8 605.6 702.3 605.7 704.8 605.9 707.3 606 709.8 606.2 712.2 606.4 714.7 606.5 717.2 606.7 719.7 606.8 722.2 607 724.7 607.1 727.2 607.3 729.7 607.4 732.2 607.6 734.7 607.8 737.2 607.9 739.7 608.1 742.2 608.2 744.7 608.4 747.2 608.5 749.7 608.7 752.2 608.9 754.7 609 757.2 609.2 759.6 609.4 762.1 609.5 764.6 609.7 767.1 609.8 769.6 610 772.1 610.2 774.6 610.3 777.1 610.5 779.6 610.7 782.1 610.8 784.6 611 787.1 611.1 789.6 611.3 792.1 611.5 794.6 611.7 797.1 611.8 799.6 612 802.1 612.2 804.6 612.3 807 612.5 809.5 612.7 812 612.9 814.5 613 817 613.2 819.5 613.4 822 613.5 824.5 613.7 827 613.9 829.5 614.1 832 614.2 834.5 614.4 837 614.6 839.5 614.8 842 615 844.5 615.1 847 615.3 849.5 615.5 852 615.7 854.4 615.9 856.9 616 859.4 616.2 861.9 616.4 864.4 616.6 866.9 616.8 869.4 617 871.9 617.1 874.4 617.3 876.9 617.5 879.4 617.7 881.9 617.9 884.4 618.1 886.9 618.3 889.3 618.5 891.8 618.7 894.3 618.9 896.8 619 899.3 619.2 901.8 619.4 904.3 619.6 906.8 619.8 909.3 620 911.8 620.2 914.3 620.4 916.8 620.6 919.2 620.8 921.7 621 924.2 621.2 926.7 621.4 929.2 621.6 931.7 621.8 934.2 622 936.7 622.2 939.2 622.4 941.7 622.7 944.2 622.9 946.6 623.1 949.1 623.3 951.6 623.5 954.1 623.7 956.6 623.9 959.1 624.1 961.6 624.4 964.1 624.6 966.6 624.8 969.1 625 971.5 625.2 974 625.4 976.5 625.6 979 625.9 981.5 626.1 984 626.3 986.5 626.5 989 626.8 991.5 627 994 627.2 996.4 627.5 998.9 627.7 1001.4 627.9 1003.9 628.2 1006.4 628.4 1008.9 628.6 1011.4 628.9 1013.9 629.1 1016.3 629.4 1018.8 629.6 1021.3 629.9 1023.8 630.1 1026.3 630.4 1028.8 630.7 1031.3 630.9 1033.8 631.2 1036.2 631.5 1038.7 631.7 1041.2 632 1043.7 632.3 1046.2 632.5 1048.7 632.8 1051.2 633.1 1053.6 633.4 1056.1 633.7 1058.6 634 1061.1 634.3 1063.6 634.6 1066 634.9 1068.5 635.2 1071 635.5 1073.5 635.8 1076 636.1 1078.5 636.4 1080.9 636.7 1083.4 637.1 1085.9 637.4 1088.4 637.7 1090.9 638 1093.3 638.4 1095.8 638.7 1098.3 639 1100.8 639.4 1103.2 639.7 1105.7 640 1108.2 640.4 1110.7 640.7 1113.2 641.1 1115.6 641.4 1118.1 641.8 1120.6 642.1 1123.1 642.5 1125.5 642.9 1128 643.2 1130.5 643.6 1132.9 644 1135.4 644.4 1137.9 644.8 1140.3 645.1 1142.8 645.5 1145.3 645.9 1147.7 646.4 1150.2 646.8 1152.7 647.2 1155.1 647.6 1157.6 648 1160 648.5 1162.5 648.9 1165 649.4 1167.4 649.8 1169.9 650.3 1172.3 650.8 1174.8 651.2 1177.2 651.7 1179.7 652.2 1182.1 652.7 1184.6 653.3 1187 653.8 1189.5 654.3 1191.9 654.9 1194.3 655.4 1196.8 656 1199.2 656.5 1201.7 657.1 1204.1 657.7 1206.5 658.3 1208.9 658.9 1211.4 659.5 1213.8 660.2 1216.2 660.8 1218.6 661.5 1221.1 662.2 1223.5 662.8 1225.9 663.5 1228.3 664.2 1230.7 665 1233.1 665.7 1235.5 666.5 1237.9 667.3 1240.2 668.1 1242.6 669 1244.9 669.9 1247.2 670.8 1249.5 671.8 1251.8 672.8 1254.1 673.8 1256.3 674.9 1258.6 676 1260.8 677.2 1262.9 678.5 1265.1 679.8 1267.2 681.1 1269.3 682.5 1271.3 684 1273.3 685.5 1275.3 687.1 1277.3 688.8 1279.2 690.5 1281 692.2 1282.8 694.1 1284.5 696 1286.2 697.9 1287.8 699.9 1289.4 701.9 1290.8 704 1292.2 706.1 1293.5 708.3 1294.7 710.6 1295.8 712.9 1296.8 715.2 1297.7 717.5 1298.5 719.9 1299.2 722.4 1299.8 724.8 1300.4 727.3 1300.8 729.7 1301.2 732.2 1301.5 734.7 1301.7 737.2 1301.9 739.7 1302.2 742.1 1302.4 744.6 1302.8 747 1303.1 749.5 1303.6 751.9 1304.1 754.3 1304.7 756.8 1305.3 759.2 1306 761.6 1306.6 764.1 1307.1 766.5 1307.4 769 1307.6 771.5 1307.6 765.7 1307.6 763.2 1307.6 760.8 1307.4 758.3 1307.1 755.8 1306.6 753.4 1306 751 1305.3 748.5 1304.7 746.1 1304.1 743.7 1303.6 741.2 1303.1 738.8 1302.8 736.4 1302.4 733.9 1302.2 731.4 1301.9 728.9 1301.7 726.4 1301.5 723.9 1301.2 721.5 1300.8 719 1300.4 716.6 1299.8 714.1 1299.2 711.8 1298.5 709.4 1297.7 707.1 1296.8 704.8 1295.8 702.5 1294.7 700.4 1293.5 698.2 1292.2 696.1 1290.8 694.1 1289.4 692.1 1287.8 690.2 1286.2 688.3 1284.5 686.5 1282.8 684.7 1281 683 1279.2 681.3 1277.3 679.7 1275.3 678.2 1273.3 676.7 1271.3 675.3 1269.3 674 1267.2 672.7 1265.1 671.4 1262.9 670.2 1260.8 669 1258.6 667.9 1256.3 666.8 1254.1 665.8 1251.8 664.8 1249.5 663.8 1247.2 662.9 1244.9 662 1242.6 661.1 1240.2 660.3 1237.9 659.5 1235.5 658.7 1233.1 657.9 1230.7 657.2 1228.3 656.5 1225.9 655.8 1223.5 655.1 1221.1 654.5 1218.6 653.8 1216.2 653.1 1213.8 652.5 1211.4 651.9 1208.9 651.3 1206.5 650.7 1204.1 650.1 1201.7 649.5 1199.2 648.9 1196.8 648.4 1194.3 647.8 1191.9 647.3 1189.5 646.7 1187 646.2 1184.6 645.7 1182.1 645.2 1179.7 644.7 1177.2 644.2 1174.8 643.7 1172.3 643.2 1169.9 642.8 1167.4 642.3 1165 641.9 1162.5 641.4 1160 641 1157.6 640.6 1155.1 640.1 1152.7 639.7 1150.2 639.3 1147.7 638.9 1145.3 638.5 1142.8 638.1 1140.3 637.7 1137.9 637.3 1135.4 636.9 1132.9 636.6 1130.5 636.2 1128 635.8 1125.5 635.5 1123.1 635.1 1120.6 634.7 1118.1 634.4 1115.6 634 1113.2 633.7 1110.7 633.3 1108.2 633 1105.7 632.7 1103.2 632.3 1100.8 632 1098.3 631.6 1095.8 631.3 1093.3 631 1090.9 630.6 1088.4 630.3 1085.9 630 1083.4 629.7 1080.9 629.4 1078.5 629 1076 628.7 1073.5 628.4 1071 628.1 1068.5 627.8 1066 627.5 1063.6 627.2 1061.1 626.9 1058.6 626.6 1056.1 626.3 1053.6 626.1 1051.2 625.8 1048.7 625.5 1046.2 625.2 1043.7 624.9 1041.2 624.7 1038.7 624.4 1036.2 624.1 1033.8 623.9 1031.3 623.6 1028.8 623.3 1026.3 623.1 1023.8 622.8 1021.3 622.6 1018.8 622.3 1016.3 622.1 1013.9 621.9 1011.4 621.6 1008.9 621.4 1006.4 621.1 1003.9 620.9 1001.4 620.7 998.9 620.4 996.4 620.2 994 620 991.5 619.7 989 619.5 986.5 619.3 984 619.1 981.5 618.9 979 618.6 976.5 618.4 974 618.2 971.5 618 969.1 617.8 966.6 617.6 964.1 617.3 961.6 617.1 959.1 616.9 956.6 616.7 954.1 616.5 951.6 616.3 949.1 616.1 946.6 615.9 944.2 615.6 941.7 615.5 939.2 615.2 936.7 615 934.2 614.8 931.7 614.6 929.2 614.4 926.7 614.2 924.2 614 921.7 613.8 919.2 613.6 916.8 613.4 914.3 613.2 911.8 613 909.3 612.8 906.8 612.6 904.3 612.5 901.8 612.2 899.3 612.1 896.8 611.9 894.3 611.7 891.8 611.5 889.3 611.3 886.9 611.1 884.4 610.9 881.9 610.7 879.4 610.5 876.9 610.4 874.4 610.2 871.9 610 869.4 609.8 866.9 609.6 864.4 609.4 861.9 609.2 859.4 609.1 856.9 608.9 854.4 608.7 852 608.5 849.5 608.3 847 608.2 844.5 608 842 607.8 839.5 607.6 837 607.4 834.5 607.3 832 607.1 829.5 606.9 827 606.7 824.5 606.6 822 606.4 819.5 606.2 817 606.1 814.5 605.9 812 605.7 809.5 605.5 807 605.4 804.6 605.2 802.1 605 799.6 604.9 797.1 604.7 794.6 604.5 792.1 604.4 789.6 604.2 787.1 604 784.6 603.9 782.1 603.7 779.6 603.5 777.1 603.4 774.6 603.2 772.1 603 769.6 602.9 767.1 602.7 764.6 602.6 762.1 602.4 759.6 602.2 757.2 602.1 754.7 601.9 752.2 601.8 749.7 601.6 747.2 601.4 744.7 601.3 742.2 601.1 739.7 601 737.2 600.8 734.7 600.6 732.2 600.5 729.7 600.3 727.2 600.2 724.7 600 722.2 599.9 719.7 599.7 717.2 599.6 714.7 599.4 712.2 599.2 709.8 599.1 707.3 598.9 704.8 598.8 702.3 598.6 699.8 598.5 697.3 598.3 694.8 598.2 692.3 598 689.8 597.9 687.3 597.7 684.8 597.6 682.3 597.5 679.8 597.3 677.3 597.1 674.8 597 672.3 596.9 669.8 596.7 667.3 596.6 664.8 596.4 662.3 596.3 659.8 596.1 657.3 596 654.9 595.8 652.4 595.7 649.9 595.6 647.4 595.4 644.9 595.3 642.4 595.1 639.9 595 637.4 594.9 634.9 594.7 632.4 594.6 629.9 594.4 627.4 594.3 624.9 594.1 622.4 594 619.9 593.9 617.4 593.7 614.9 593.6 612.4 593.5 609.9 593.3 607.4 593.2 604.9 593 602.4 592.9 599.9 592.8 597.4 592.6 594.9 592.5 592.4 592.4 590 592.2 587.5 592.1 585 592 582.5 591.8 580 591.7 577.5 591.6 575 591.4 572.5 591.3 570 591.2 567.5 591 565 590.9 562.5 590.8 560 590.6 557.5 590.5 555 590.4 552.5 590.2 550 590.1 547.5 590 545 589.9 542.5 589.7 540 589.6 537.5 589.5 535 589.4 532.5 589.2 530 589.1 527.5 589 525 588.8 522.5 588.7 520 588.6 517.5 588.5 515 588.3 512.6 588.2 510.1 588.1 507.6 588 505.1 587.8 502.6 587.7 500.1 587.6 497.6 587.5 495.1 587.3 492.6 587.2 490.1 587.1 487.6 587 485.1 586.9 482.6 586.7 480.1 586.6 477.6 586.5 475.1 586.4 472.6 586.2 470.1 586.1 467.6 586 465.1 585.9 462.6 585.8 460.1 585.6 457.6 585.5 455.1 585.4 452.6 585.3 450.1 585.2 447.6 585 445.1 584.9 442.6 584.8 440.1 584.7 437.6 584.6 435.1 584.5 432.6 584.3 430.1 584.2 427.7 584.1 425.2 584 422.7 583.9 420.2 583.8 417.7 583.6 415.2 583.5 412.7 583.4 410.2 583.3 407.7 583.2 405.2 583.1 402.7 582.9 400.2 582.8 397.7 582.7 395.2 582.6 392.7 582.5 390.2 582.4 387.7 582.2 385.2 582.1 382.7 582 380.2 581.9 377.7 581.8 375.2 581.7 372.7 581.6 370.2 581.5 367.7 581.4 365.2 581.2 362.7 581.1 360.2 581 357.7 580.9 355.2 580.8 352.7 580.7 350.2 580.6 347.7 580.5 345.2 580.3 342.8 580.2 340.2 580.1 337.8 580 335.2 579.9 332.8 579.8 330.3 579.7 327.8 579.6 325.3 579.5 322.8 579.4 320.3 579.2 317.8 579.1 315.3 579 312.8 578.9 310.3 578.8 307.8 578.7 305.3 578.6 302.8 578.5 300.3 578.4 297.8 578.3 295.3 578.2 292.8 578.1 290.3 577.9 287.8 577.8 285.3 577.7 282.8 577.6 280.3 577.5 277.8 577.4 275.3 577.3 272.8 577.2 270.3 577.1 267.8 577 265.3 576.9 262.8 576.8 260.3 576.7 257.8 576.6 255.3 576.5 252.8 576.3 250.3 576.2 247.8 576.1 245.3 576 242.8 575.9 240.3 575.8 237.8 575.7 235.3 575.6 232.8 575.5 230.3 575.4 227.8 575.3 225.3 575.2 222.9 575.1 220.4 575 217.9 574.9 215.4 574.8 212.9 574.6 210.4 574.6 207.9 574.4 205.4 574.3 202.9 574.2 200.4 574.1 197.9 574 195.4 573.9 192.9 573.8 190.4 573.7 187.9 573.6 185.4 573.5 182.9 573.4 180.4 573.3 177.9 573.2 175.4 573.1 172.9 573 170.4 572.9 167.9 572.8 165.4 572.7 162.9 572.6 160.4 572.5 157.9 572.4 155.4 572.3 152.9 572.1 150.4 572.1 147.9 572 145.4 571.8 142.9 571.7 140.4 571.6 137.9 571.5 135.4 571.4 132.9 571.3 130.4 571.2 127.9 571.1 125.4 571 122.9 570.9 120.5 570.8 118 570.7 115.5 570.6 113 570.5 110.5 570.4 108 570.3 105.5 570.2 103 570.1 100.5 570 98 569.9 95.5 569.8 93 569.7 90.5 569.6 88 569.5 85.5 569.4 83 569.2 80.5 569.1 78 569.1 75.5 568.9 73 568.8 70.5 568.7 68 568.6 65.5 568.5 63 568.4 60.5 568.3 58Z" fill="#000"/>
<path d="M249.7 1260.4 255.5 1252.3 257.8 1244.2 261 1236.9 264.2 1232.6 267.5 1230 272.3 1229.7 278.8 1229.7 282.8 1227.2 286.9 1222.4 290.1 1215.9 294.1 1205.4 298.2 1200.6 301.9 1198.2 306.2 1201.4 311.9 1201.4 315.9 1199 319.2 1198.2 322.4 1199.8 326.4 1201.9 332.1 1201.9 338.6 1201.9 343.4 1199 347.4 1198.2 352.3 1198.7 356.3 1201.1 360.4 1203 365.2 1205.8 369.2 1203 372.5 1201.9 380.6 1201.9 388.6 1201.9 394.3 1201.9 397.5 1204.6 401.6 1209 406.4 1210.6 411.2 1213.8 417.7 1214.3 421.7 1217.6 427.4 1224.8 433.9 1232.1 440.3 1239.4 444.4 1241.5 448.4 1242.3 452.4 1246.2 456.5 1249.9 462.9 1250.4 467 1253.1 471.8 1257.5 476.7 1258.3 482.3 1257.9 486.4 1254.7 490.4 1250.7 495.2 1250.2 504.9 1249.9 509.8 1246.6 514.6 1245.8 521.1 1245.5 525.1 1242.6 529.2 1238.6 535.6 1237.8 540 1234.5 541 1234.1 547.5 1226.8 555.5 1217.9 565.2 1208.2 574.9 1197.8 583 1189.7 587.9 1180.8 595.9 1172.7 604 1163.8 607.2 1161.4 612.9 1160.6 617.7 1152.5 623.4 1142.8 626.6 1136.4 633.1 1126.7 639.5 1119.4 644.4 1110.5 648.4 1101.6 653.3 1095.2 657.3 1087.1 663.8 1081.4 673.5 1081.1 683.2 1081.1 689.6 1075 694.7 1070.1 699.6 1060.5 703.6 1045.9 707.7 1028.1 711.4 1008.8 714.6 993.2 718.7 965.2 721.1 946.2 723.4 922.2 725.6 897.2 727.9 872.2 730 847.2 731.3 826.6 732.7 807.2 733.9 787.8 735.2 766.8 736.8 745.8 738.4 726.4 740.1 707.1 741.7 687.7 743.3 669.9 744.9 653.7 746.3 642.2 746.6 636.2 747.8 630.2 749.6 624.2 751.6 630.2 753.6 636.2 754.6 653.7 756.9 669.9 758.9 687.7 761 707.1 763.1 726.4 765 745.8 766.6 766.8 768.2 787.8 769.9 807.2 771.5 826.6 772.3 847.2 773.9 866.6 776.3 889.2 779.2 911.8 782 931.2 785.2 950.6 789.2 968.4 793.3 981.3 797.3 987.8 802.2 992.6 807 997.4 811.9 999.1 814.3 1004.7 819.1 1006.3 822.4 1013.6 826.4 1016.8 831.2 1018.4 836.1 1023.3 839.3 1025.7 845.8 1028.1 853.9 1031.4 860.3 1033.8 866 1037.8 871.6 1040.2 878.1 1040.7 883.8 1040.7 887.8 1044.3 893.4 1046.2 899.1 1053.2 903.1 1061.2 910.4 1068.5 918.5 1076.6 926.6 1084.7 934.6 1088.7 941.1 1089.5 946 1093.6 954 1096.8 960 1097.6 963.8 1097.3 969.3 1101.3 974.8 1102.2 981.2 1105.9 993.1 1105.9 1000.4 1109.2 1013.2 1109.5 1019.6 1113.4 1033.4 1113.7 1038.9 1117.4 1060.8 1118 1066.3 1121.4 1084.6 1121.4 1106.6 1121.4 1112.1 1126.2 1130.4 1126.6 1134.1 1129.3 1139.6 1125.7 1145 1126.2 1150 1129 1155 1130.3 1160 1133.4 1168.7 1137.1 1175 1140.3 1181.2 1144 1187.5 1147.1 1193.7 1152.8 1200 1156.5 1206.2 1159.6 1212.5 1160.6 1218.7 1159 1223.7 1156.5 1228.7 1151.5 1235 1145.3 1240 1139.6 1246.2 1133.4 1250 1125.9 1253.7 1120.3 1257.5 1113.4 1261.2 1108.4 1264.9 1100.9 1268.7 1096.5 1273.7 1093.4 1277.4 1092.2 1281.2 1090.3 1284.9 1092.8 1288.7 1093.4 1292.4 1091.5 1296.2 1090.3 1299.9 1092.8 1306.2 1093.2 1311.2 1095.9 1316.2 1097.2 1319.9 1100.9 1324.9 1102.2 1329.9 1107.2 1334.9 1112.8 1339.9 1114.7 1343.7 1117.8 1348.7 1119 1352.4 1121.5 1357.4 1122.8 1363.6 1126.5 1368.6 1133.4 1372.4 1137.1 1377.4 1137.8 1384.3 1137.5 1391.7 1131.1 1399 1123.8 1406.3 1116.5 1413.7 1108.2 1421 1100.9 1428.3 1097.6 1435.6 1097.3 1446.6 1097.6 1457.6 1100 1472.2 1102.4 1479.6 1106.1 1490 1107 1499.2 1108.8 1508.3 1110.5 1523 1111.5 1533.9 1113.7 1539.4 1117.4 1546.8 1121.4 1554.1 1122 1559.6 1125.7 1566.9 1129.9 1574.2 1133.9 1587 1133.5 1594.4 1137.5 1601.7 1138.1 1607.2 1142.1 1621.8 1143 1636.5 1144.5 1647.5 1145.8 1658.4 1147.6 1665.8 1148.9 1671.3 1154.9 1676.8 1161.4 1684.1 1161.7 1691.4 1165.9 1696.9 1165.6 1702.4 1169.6 1707.9 1169.6 1713.4 1173.8 1720.7 1174.2 1726.2 1177.8 1731.7 1177.5 1737.2 1181.5 1742.7 1181.5 1748.2 1185.2 1753.7 1185.2 1759.1 1189.2 1764.6 1189.2 1770.1 1193.4 1777.5 1193.9 1782.9 1198 1801.2 1198.3 1801.2 1203.9 1782.9 1203.6 1777.5 1199.5 1770.1 1199 1764.6 1194.8 1759.1 1194.8 1753.7 1190.8 1748.2 1190.8 1742.7 1187.1 1737.2 1187.1 1731.7 1183.1 1726.2 1183.4 1720.7 1179.8 1713.4 1179.4 1707.9 1175.2 1702.4 1175.2 1696.9 1171.2 1691.4 1171.5 1684.1 1167.3 1676.8 1167 1671.3 1160.5 1665.8 1154.5 1658.4 1153.2 1647.5 1151.4 1636.5 1150.1 1621.8 1148.6 1607.2 1147.7 1601.7 1143.7 1594.4 1143.1 1587 1139.1 1574.2 1139.5 1566.9 1135.5 1559.6 1131.2 1554.1 1127.6 1546.8 1127 1539.4 1123 1533.9 1119.3 1523 1117.1 1508.3 1116 1499.2 1114.4 1490 1112.6 1479.6 1111.7 1472.2 1108 1457.6 1105.6 1446.6 1103.2 1435.6 1102.9 1428.3 1103.2 1421 1106.5 1413.7 1113.8 1406.3 1122.1 1399 1129.4 1391.7 1136.7 1384.3 1143.1 1377.4 1143.4 1372.4 1142.7 1368.6 1139 1363.6 1132.1 1357.4 1128.4 1352.4 1127.1 1348.7 1124.6 1343.7 1123.4 1339.9 1120.2 1334.9 1118.4 1329.9 1112.8 1324.9 1107.8 1319.9 1106.5 1316.2 1102.8 1311.2 1101.5 1306.2 1098.8 1299.9 1098.4 1296.2 1095.9 1292.4 1097.1 1288.7 1099 1284.9 1098.4 1281.2 1095.9 1277.4 1097.8 1273.7 1099 1268.7 1102.1 1264.9 1106.5 1261.2 1114 1257.5 1119 1253.7 1125.9 1250 1131.5 1246.2 1139 1240 1145.2 1235 1150.9 1228.7 1157.1 1223.7 1162.1 1218.7 1164.6 1212.5 1166.2 1206.2 1165.2 1200 1162.1 1193.7 1158.3 1187.5 1152.7 1181.2 1149.6 1175 1145.9 1168.7 1142.7 1160 1139 1155 1135.9 1150 1134.6 1145 1131.8 1139.6 1131.2 1134.1 1134.9 1130.4 1132.2 1112.1 1131.8 1106.6 1127 1084.6 1127 1066.3 1127 1060.8 1123.6 1038.9 1123 1033.4 1119.3 1019.6 1119 1013.2 1115.1 1000.4 1114.8 993.1 1111.5 981.2 1111.5 974.8 1107.8 969.3 1106.9 963.8 1102.9 960 1103.2 954 1102.4 946 1099.2 941.1 1095.1 934.6 1094.3 926.6 1090.3 918.5 1082.2 910.4 1074.1 903.1 1066.8 899.1 1058.8 893.4 1051.8 887.8 1049.9 883.8 1046.3 878.1 1046.3 871.6 1045.8 866 1043.4 860.3 1039.4 853.9 1037 845.8 1033.7 839.3 1031.3 836.1 1028.9 831.2 1024 826.4 1022.4 822.4 1019.2 819.1 1011.9 814.3 1010.3 811.9 1004.7 807 1003 802.2 998.2 797.3 993.3 793.3 986.9 789.2 974 785.2 956.2 782 936.8 779.2 917.4 776.3 894.8 773.9 872.2 772.3 852.8 771.5 832.2 769.9 812.8 768.2 793.4 766.6 772.4 765 751.4 763.1 732 761 712.6 758.9 693.3 756.9 675.5 754.6 659.3 753.6 641.8 751.6 635.8 749.6 629.8 747.8 635.8 746.6 641.8 746.3 647.8 744.9 659.3 743.3 675.5 741.7 693.3 740.1 712.7 738.4 732 736.8 751.4 735.2 772.4 733.9 793.4 732.7 812.8 731.3 832.2 730 852.8 727.9 877.8 725.6 902.8 723.4 927.8 721.1 951.8 718.7 970.8 714.6 998.8 711.4 1014.3 707.7 1033.7 703.6 1051.5 699.6 1066 694.7 1075.7 689.6 1080.6 683.2 1086.7 673.5 1086.7 663.8 1087 657.3 1092.7 653.3 1100.8 648.4 1107.2 644.4 1116.1 639.5 1125 633.1 1132.3 626.6 1142 623.4 1148.4 617.7 1158.1 612.9 1166.2 607.2 1167 604 1169.4 595.9 1178.3 587.9 1186.4 583 1195.3 574.9 1203.3 565.2 1213.8 555.5 1223.5 547.5 1232.4 541 1239.7 540 1240.1 535.6 1243.3 529.2 1244.2 525.1 1248.2 521.1 1251.1 514.6 1251.4 509.8 1252.2 504.9 1255.5 495.2 1255.8 490.4 1256.3 486.4 1260.3 482.3 1263.5 476.7 1263.9 471.8 1263.1 467 1258.7 462.9 1256 456.5 1255.5 452.4 1251.8 448.4 1247.9 444.4 1247.1 440.3 1245 433.9 1237.7 427.4 1230.4 421.7 1223.2 417.7 1219.9 411.2 1219.4 406.4 1216.2 401.6 1214.6 397.5 1210.2 394.3 1207.5 388.6 1207.5 380.6 1207.5 372.5 1207.5 369.2 1208.6 365.2 1211.4 360.4 1208.6 356.3 1206.7 352.3 1204.2 347.4 1203.8 343.4 1204.6 338.6 1207.5 332.1 1207.5 326.4 1207.5 322.4 1205.4 319.2 1203.8 315.9 1204.6 311.9 1207 306.2 1207 301.9 1203.8 298.2 1206.2 294.1 1211 290.1 1221.5 286.9 1228 282.8 1232.8 278.8 1235.3 272.3 1235.3 267.5 1235.6 264.2 1238.2 261 1242.5 257.8 1249.8 255.5 1257.9 249.7 1266ZM246.8 1263.2 252.6 1255.1 254.9 1247 258.1 1239.7 261.3 1235.4 264.6 1232.8 269.4 1232.5 275.9 1232.5 279.9 1230 284 1225.2 287.2 1218.7 291.2 1208.2 295.3 1203.4 299 1201 304.8 1201 301.1 1203.4 297 1208.2 293 1218.7 289.8 1225.2 285.7 1230 281.7 1232.5 275.2 1232.5 270.4 1232.8 267.1 1235.4 263.9 1239.7 260.7 1247 258.5 1255.1 252.6 1263.2ZM397.2 1204.7 400.4 1207.4 404.4 1211.8 409.3 1213.4 414.1 1216.6 420.6 1217.1 424.6 1220.4 430.3 1227.6 436.8 1234.9 443.2 1242.2 447.3 1244.3 451.3 1245.1 455.3 1249 459.4 1252.7 465.8 1253.2 469.9 1255.9 474.7 1260.3 479.6 1261.1 473.8 1261.1 468.9 1260.3 464.1 1255.9 460 1253.2 453.6 1252.7 449.5 1249 445.5 1245.1 441.5 1244.3 437.4 1242.2 431 1234.9 424.5 1227.6 418.8 1220.4 414.8 1217.1 408.3 1216.6 403.5 1213.4 398.7 1211.8 394.6 1207.4 391.4 1204.7ZM473.8 1261.1 479.4 1260.7 483.5 1257.5 487.5 1253.5 492.4 1253 502 1252.7 506.9 1249.4 511.7 1248.6 518.2 1248.3 522.2 1245.4 526.3 1241.4 532.7 1240.5 537.1 1237.3 538.1 1236.9 544.6 1229.6 552.6 1220.7 562.3 1211 572 1200.5 580.1 1192.5 585 1183.6 593 1175.5 601.1 1166.6 604.3 1164.2 610 1163.4 614.8 1155.3 620.5 1145.6 623.7 1139.2 630.2 1129.5 636.6 1122.2 641.5 1113.3 645.5 1104.4 650.4 1098 654.4 1089.9 660.9 1084.2 670.6 1083.9 680.3 1083.9 686.7 1077.8 691.8 1072.9 696.5 1063.2 700.4 1048.7 704.4 1030.9 708.1 1011.5 711.3 996 715.3 968 717.7 949 720 925 722.2 900 724.5 875 726.6 850 727.9 829.4 729.3 810 730.5 790.6 731.8 769.6 733.4 748.6 735 729.2 736.7 709.9 738.3 690.5 739.9 672.7 741.5 656.5 742.9 645 743.3 639 744.8 633 746.7 627 752.5 627 750.8 633 749.9 639 749.7 645 748.3 656.5 746.7 672.7 745.1 690.5 743.5 709.9 741.8 729.2 740.2 748.6 738.6 769.6 737.3 790.6 736.1 810 734.7 829.4 733.4 850 731.3 875 729 900 726.8 925 724.5 949 722.1 968 717.9 996 714.7 1011.5 710.9 1030.9 706.8 1048.7 702.6 1063.2 697.6 1072.9 692.5 1077.8 686.1 1083.9 676.4 1083.9 666.7 1084.2 660.2 1089.9 656.2 1098 651.3 1104.4 647.3 1113.3 642.4 1122.2 636 1129.5 629.5 1139.2 626.3 1145.6 620.6 1155.3 615.8 1163.4 610.1 1164.2 606.9 1166.6 598.8 1175.5 590.8 1183.6 585.9 1192.5 577.8 1200.5 568.1 1211 558.4 1220.7 550.4 1229.6 543.9 1236.9 542.9 1237.3 538.5 1240.5 532.1 1241.4 528 1245.4 524 1248.3 517.5 1248.6 512.7 1249.4 507.8 1252.7 498.1 1253 493.3 1253.5 489.3 1257.5 485.2 1260.7 479.6 1261.1ZM752.5 627 754.8 633 756.9 639 758 656.5 760.3 672.7 762.3 690.5 764.4 709.9 766.5 729.2 768.4 748.6 770 769.6 771.6 790.6 773.2 810 774.9 829.4 775.7 850 777.3 869.4 779.7 892 782.6 914.6 785.3 934 788.5 953.4 792.4 971.2 796.3 984.1 800.2 990.5 805.1 995.4 809.9 1000.2 814.8 1001.9 817.2 1007.5 822 1009.1 825.3 1016.4 829.3 1019.6 834.1 1021.2 839 1026.1 842.2 1028.5 848.7 1030.9 856.8 1034.2 863.2 1036.6 868.9 1040.6 874.5 1043 881 1043.5 886.6 1043.5 890.7 1047.1 896.3 1049 902 1056 906 1064 913.3 1071.3 921.4 1079.4 929.5 1087.5 937.5 1091.5 944 1092.3 948.9 1096.4 956.9 1099.6 962.9 1100.4 957.1 1100.4 951.1 1099.6 943.1 1096.4 938.2 1092.3 931.7 1091.5 923.7 1087.5 915.6 1079.4 907.5 1071.3 900.2 1064 896.2 1056 890.5 1049 884.9 1047.1 880.9 1043.5 875.2 1043.5 868.7 1043 863.1 1040.6 857.4 1036.6 851 1034.2 842.9 1030.9 836.4 1028.5 833.2 1026.1 828.3 1021.2 823.5 1019.6 819.5 1016.4 816.2 1009.1 811.4 1007.5 809 1001.9 804.1 1000.2 799.3 995.4 794.4 990.5 790.2 984.1 786 971.2 781.9 953.4 778.6 934 775.9 914.6 772.9 892 770.5 869.4 768.9 850 768.1 829.4 766.5 810 764.8 790.6 763.2 769.6 761.6 748.6 759.7 729.2 757.6 709.9 755.5 690.5 753.5 672.7 751.2 656.5 750.3 639 748.4 633 746.7 627ZM1209.6 1163.4 1215.8 1161.8 1220.8 1159.3 1225.8 1154.3 1232.1 1148.1 1237.1 1142.4 1243.3 1136.2 1247 1128.7 1250.8 1123.1 1254.5 1116.2 1258.3 1111.2 1262 1103.7 1265.8 1099.3 1270.8 1096.2 1274.5 1095 1278.3 1093.1 1284.1 1093.1 1280.3 1095 1276.6 1096.2 1271.6 1099.3 1267.8 1103.7 1264.1 1111.2 1260.4 1116.2 1256.6 1123.1 1252.9 1128.7 1249.1 1136.2 1242.9 1142.4 1237.9 1148.1 1231.6 1154.3 1226.6 1159.3 1221.6 1161.8 1215.4 1163.4ZM1299.1 1093.1 1302.8 1095.6 1309.1 1096 1314.1 1098.7 1319.1 1100 1322.8 1103.7 1327.8 1105 1332.8 1110 1337.8 1115.6 1342.8 1117.5 1346.6 1120.6 1351.6 1121.8 1355.3 1124.3 1360.3 1125.6 1366.5 1129.3 1371.5 1136.2 1375.3 1139.9 1380.3 1140.6 1374.5 1140.6 1369.5 1139.9 1365.7 1136.2 1360.7 1129.3 1354.5 1125.6 1349.5 1124.3 1345.8 1121.8 1340.8 1120.6 1337 1117.5 1332 1115.6 1327 1110 1322 1105 1317 1103.7 1313.3 1100 1308.3 1098.7 1303.3 1096 1297 1095.6 1293.3 1093.1ZM1374.5 1140.6 1381.4 1140.3 1388.8 1133.9 1396.1 1126.6 1403.4 1119.3 1410.8 1111 1418.1 1103.7 1425.4 1100.4 1432.7 1100.1 1438.5 1100.1 1431.2 1100.4 1423.9 1103.7 1416.6 1111 1409.2 1119.3 1401.9 1126.6 1394.6 1133.9 1387.2 1140.3 1380.3 1140.6ZM1589.9 1136.3 1597.3 1140.3 1604.6 1140.9 1610.1 1144.9 1624.7 1145.8 1639.4 1147.3 1650.4 1148.6 1661.3 1150.4 1668.7 1151.7 1674.2 1157.7 1679.7 1164.2 1687 1164.5 1694.3 1168.7 1688.5 1168.7 1681.2 1164.5 1673.8 1164.2 1668.4 1157.7 1662.9 1151.7 1655.5 1150.4 1644.6 1148.6 1633.6 1147.3 1618.9 1145.8 1604.3 1144.9 1598.8 1140.9 1591.5 1140.3 1584.1 1136.3Z" fill="#f00"/>
<path d="M249.7 1263.2 255.5 1255.1 257.8 1247 261 1239.7 264.2 1235.4 267.5 1232.8 272.3 1232.5 278.8 1232.5 282.8 1230 286.9 1225.2 290.1 1218.7 294.1 1208.2 298.2 1203.4 301.9 1201 306.2 1204.2 311.9 1204.2 315.9 1201.8 319.2 1201 322.4 1202.6 326.4 1204.7 332.1 1204.7 338.6 1204.7 343.4 1201.8 347.4 1201 352.3 1201.5 356.3 1203.9 360.4 1205.8 365.2 1208.6 369.2 1205.8 372.5 1204.7 380.6 1204.7 388.6 1204.7 394.3 1204.7 397.5 1207.4 401.6 1211.8 406.4 1213.4 411.2 1216.6 417.7 1217.1 421.7 1220.4 427.4 1227.6 433.9 1234.9 440.3 1242.2 444.4 1244.3 448.4 1245.1 452.4 1249 456.5 1252.7 462.9 1253.2 467 1255.9 471.8 1260.3 476.7 1261.1 482.3 1260.7 486.4 1257.5 490.4 1253.5 495.2 1253 504.9 1252.7 509.8 1249.4 514.6 1248.6 521.1 1248.3 525.1 1245.4 529.2 1241.4 535.6 1240.5 540 1237.3 541 1236.9 547.5 1229.6 555.5 1220.7 565.2 1211 574.9 1200.5 583 1192.5 587.9 1183.6 595.9 1175.5 604 1166.6 607.2 1164.2 612.9 1163.4 617.7 1155.3 623.4 1145.6 626.6 1139.2 633.1 1129.5 639.5 1122.2 644.4 1113.3 648.4 1104.4 653.3 1098 657.3 1089.9 663.8 1084.2 673.5 1083.9 683.2 1083.9 689.6 1077.8 694.7 1072.9 699.6 1063.2 703.6 1048.7 707.7 1030.9 711.4 1011.5 714.6 996 718.7 968 721.1 949 723.4 925 725.6 900 727.9 875 730 850 731.3 829.4 732.7 810 733.9 790.6 735.2 769.6 736.8 748.6 738.4 729.2 740.1 709.9 741.7 690.5 743.3 672.7 744.9 656.5 746.3 645 746.6 639 747.8 633 749.6 627 751.6 633 753.6 639 754.6 656.5 756.9 672.7 758.9 690.5 761 709.9 763.1 729.2 765 748.6 766.6 769.6 768.2 790.6 769.9 810 771.5 829.4 772.3 850 773.9 869.4 776.3 892 779.2 914.6 782 934 785.2 953.4 789.2 971.2 793.3 984.1 797.3 990.5 802.2 995.4 807 1000.2 811.9 1001.9 814.3 1007.5 819.1 1009.1 822.4 1016.4 826.4 1019.6 831.2 1021.2 836.1 1026.1 839.3 1028.5 845.8 1030.9 853.9 1034.2 860.3 1036.6 866 1040.6 871.6 1043 878.1 1043.5 883.8 1043.5 887.8 1047.1 893.4 1049 899.1 1056 903.1 1064 910.4 1071.3 918.5 1079.4 926.6 1087.5 934.6 1091.5 941.1 1092.3 946 1096.4 954 1099.6 960 1100.4 963.8 1100.1 969.3 1104.1 974.8 1105 981.2 1108.7 993.1 1108.7 1000.4 1112 1013.2 1112.3 1019.6 1116.2 1033.4 1116.5 1038.9 1120.2 1060.8 1120.8 1066.3 1124.2 1084.6 1124.2 1106.6 1124.2 1112.1 1129 1130.4 1129.4 1134.1 1132.1 1139.6 1128.5 1145 1129 1150 1131.8 1155 1133.1 1160 1136.2 1168.7 1139.9 1175 1143.1 1181.2 1146.8 1187.5 1149.9 1193.7 1155.5 1200 1159.3 1206.2 1162.4 1212.5 1163.4 1218.7 1161.8 1223.7 1159.3 1228.7 1154.3 1235 1148.1 1240 1142.4 1246.2 1136.2 1250 1128.7 1253.7 1123.1 1257.5 1116.2 1261.2 1111.2 1264.9 1103.7 1268.7 1099.3 1273.7 1096.2 1277.4 1095 1281.2 1093.1 1284.9 1095.6 1288.7 1096.2 1292.4 1094.3 1296.2 1093.1 1299.9 1095.6 1306.2 1096 1311.2 1098.7 1316.2 1100 1319.9 1103.7 1324.9 1105 1329.9 1110 1334.9 1115.6 1339.9 1117.5 1343.7 1120.6 1348.7 1121.8 1352.4 1124.3 1357.4 1125.6 1363.6 1129.3 1368.6 1136.2 1372.4 1139.9 1377.4 1140.6 1384.3 1140.3 1391.7 1133.9 1399 1126.6 1406.3 1119.3 1413.7 1111 1421 1103.7 1428.3 1100.4 1435.6 1100.1 1446.6 1100.4 1457.6 1102.8 1472.2 1105.2 1479.6 1108.9 1490 1109.8 1499.2 1111.6 1508.3 1113.2 1523 1114.3 1533.9 1116.5 1539.4 1120.2 1546.8 1124.2 1554.1 1124.8 1559.6 1128.5 1566.9 1132.7 1574.2 1136.7 1587 1136.3 1594.4 1140.3 1601.7 1140.9 1607.2 1144.9 1621.8 1145.8 1636.5 1147.3 1647.5 1148.6 1658.4 1150.4 1665.8 1151.7 1671.3 1157.7 1676.8 1164.2 1684.1 1164.5 1691.4 1168.7 1696.9 1168.4 1702.4 1172.4 1707.9 1172.4 1713.4 1176.6 1720.7 1177 1726.2 1180.6 1731.7 1180.3 1737.2 1184.3 1742.7 1184.3 1748.2 1188 1753.7 1188 1759.1 1192 1764.6 1192 1770.1 1196.2 1777.5 1196.7 1782.9 1200.8 1801.2 1201.1" fill="none" stroke="#f00" stroke-width="3.9" stroke-linejoin="round"/>
<path d="M453.7 55.3 453.8 57.8 453.9 60.3 454 62.8 454.1 65.3 454.2 67.8 454.3 70.3 454.4 72.8 454.5 75.3 454.6 77.8 454.7 80.3 454.8 82.8 454.9 85.3 455 87.8 455.1 90.3 455.2 92.8 455.3 95.3 455.4 97.8 455.5 100.3 455.6 102.8 455.7 105.2 455.8 107.8 455.9 110.2 456 112.8 456.1 115.2 456.2 117.7 456.3 120.2 456.4 122.7 456.5 125.2 456.6 127.7 456.7 130.2 456.8 132.7 456.9 135.2 457 137.7 457.1 140.2 457.2 142.7 457.3 145.2 457.4 147.7 457.5 150.2 457.6 152.7 457.7 155.2 457.8 157.7 457.9 160.2 458 162.7 458.1 165.2 458.2 167.7 458.3 170.2 458.4 172.7 458.5 175.2 458.6 177.7 458.7 180.2 458.8 182.7 458.9 185.2 459 187.7 459.1 190.2 459.2 192.7 459.3 195.2 459.4 197.7 459.5 200.2 459.6 202.7 459.7 205.2 459.8 207.7 459.9 210.2 459.9 212.7 460.1 215.2 460.1 217.7 460.2 220.2 460.4 222.7 460.4 225.2 460.5 227.7 460.6 230.2 460.7 232.7 460.8 235.2 460.9 237.7 461 240.2 461.1 242.6 461.2 245.1 461.3 247.6 461.4 250.1 461.5 252.6 461.6 255.1 461.7 257.6 461.8 260.1 461.9 262.6 462 265.1 462.1 267.6 462.2 270.1 462.3 272.6 462.4 275.1 462.5 277.6 462.6 280.1 462.7 282.6 462.8 285.1 462.9 287.6 463.1 290.1 463.1 292.6 463.2 295.1 463.4 297.6 463.5 300.1 463.6 302.6 463.7 305.1 463.8 307.6 463.9 310.1 464 312.6 464.1 315.1 464.2 317.6 464.3 320.1 464.4 322.6 464.5 325.1 464.6 327.6 464.7 330.1 464.8 332.6 464.9 335.1 465 337.6 465.1 340.1 465.2 342.6 465.4 345.1 465.5 347.6 465.6 350.1 465.7 352.6 465.8 355.1 465.9 357.6 466 360.1 466.1 362.6 466.2 365.1 466.4 367.6 466.5 370 466.6 372.5 466.7 375 466.8 377.5 466.9 380 467 382.5 467.1 385 467.2 387.5 467.4 390 467.5 392.5 467.6 395 467.7 397.5 467.8 400 467.9 402.5 468.1 405 468.2 407.5 468.3 410 468.4 412.5 468.5 415 468.6 417.5 468.8 420 468.9 422.5 469 425 469.1 427.5 469.3 430 469.4 432.5 469.5 435 469.6 437.5 469.8 440 469.9 442.5 470 445 470.1 447.5 470.2 450 470.4 452.4 470.5 454.9 470.6 457.4 470.8 459.9 470.9 462.4 471 464.9 471.1 467.4 471.3 469.9 471.4 472.4 471.5 474.9 471.7 477.4 471.8 479.9 471.9 482.4 472.1 484.9 472.2 487.4 472.3 489.9 472.5 492.4 472.6 494.9 472.7 497.4 472.9 499.9 473 502.4 473.2 504.9 473.3 507.4 473.4 509.9 473.6 512.4 473.7 514.9 473.9 517.4 474 519.9 474.1 522.3 474.3 524.8 474.4 527.3 474.6 529.8 474.7 532.3 474.9 534.8 475 537.3 475.2 539.8 475.3 542.3 475.5 544.8 475.6 547.3 475.8 549.8 475.9 552.3 476.1 554.8 476.2 557.3 476.4 559.8 476.5 562.3 476.7 564.8 476.8 567.3 477 569.8 477.1 572.3 477.3 574.8 477.5 577.2 477.6 579.7 477.8 582.2 477.9 584.7 478.1 587.2 478.3 589.7 478.4 592.2 478.6 594.7 478.8 597.2 478.9 599.7 479.1 602.2 479.3 604.7 479.4 607.2 479.6 609.7 479.8 612.2 479.9 614.7 480.1 617.2 480.3 619.6 480.5 622.1 480.6 624.6 480.8 627.1 481 629.6 481.2 632.1 481.4 634.6 481.5 637.1 481.7 639.6 481.9 642.1 482.1 644.6 482.2 647.1 482.4 649.6 482.6 652.1 482.8 654.6 483 657 483.2 659.5 483.4 662 483.6 664.5 483.7 667 483.9 669.5 484.1 672 484.3 674.5 484.5 677 484.7 679.5 484.9 682 485.1 684.5 485.3 687 485.5 689.4 485.7 691.9 485.9 694.4 486.1 696.9 486.3 699.4 486.5 701.9 486.7 704.4 486.9 706.9 487.1 709.4 487.3 711.9 487.5 714.4 487.8 716.9 488 719.3 488.2 721.8 488.4 724.3 488.6 726.8 488.8 729.3 489.1 731.8 489.3 734.3 489.5 736.8 489.7 739.3 489.9 741.8 490.2 744.2 490.4 746.7 490.6 749.2 490.9 751.7 491.1 754.2 491.3 756.7 491.5 759.2 491.8 761.7 492 764.2 492.2 766.7 492.5 769.1 492.7 771.6 493 774.1 493.2 776.6 493.5 779.1 493.7 781.6 493.9 784.1 494.2 786.6 494.4 789 494.7 791.5 495 794 495.2 796.5 495.5 799 495.7 801.5 496 804 496.2 806.5 496.5 808.9 496.8 811.4 497.1 813.9 497.3 816.4 497.6 818.9 497.9 821.4 498.1 823.9 498.4 826.3 498.7 828.8 499 831.3 499.3 833.8 499.6 836.3 499.9 838.8 500.1 841.2 500.4 843.7 500.8 846.2 501.1 848.7 501.4 851.2 501.7 853.6 502 856.1 502.3 858.6 502.7 861.1 503 863.6 503.4 866 503.7 868.5 504.1 871 504.4 873.4 504.8 875.9 505.2 878.4 505.6 880.9 505.9 883.3 506.4 885.8 506.8 888.3 507.2 890.7 507.6 893.2 508 895.7 508.4 898.1 508.9 900.6 509.3 903 509.8 905.5 510.3 907.9 510.7 910.4 511.2 912.9 511.7 915.3 512.2 917.8 512.7 920.2 513.2 922.7 513.8 925.1 514.3 927.5 514.8 930 515.4 932.4 515.9 934.9 516.5 937.3 517.1 939.7 517.6 942.2 518.2 944.6 518.8 947 519.4 949.5 520 951.9 520.6 954.3 521.2 956.7 521.9 959.2 522.5 961.6 523.1 964 523.8 966.4 524.4 968.8 525.1 971.2 525.8 973.6 526.5 976 527.2 978.4 527.9 980.8 528.6 983.2 529.3 985.6 530 988 530.8 990.4 531.5 992.8 532.3 995.1 533.1 997.5 533.9 999.9 534.7 1002.2 535.6 1004.6 536.4 1006.9 537.3 1009.3 538.2 1011.6 539.1 1014 540 1016.3 540.9 1018.6 541.9 1020.9 542.8 1023.3 543.8 1025.6 544.8 1027.9 545.8 1030.1 546.9 1032.4 548.1 1034.6 549.3 1036.8 550.7 1038.8 552.2 1040.8 553.8 1042.7 555.5 1044.5 557.2 1046.4 559 1048.2 560.8 1050.1 562.6 1051.9 564.4 1053.6 566.4 1055.1 568.4 1056.5 570.5 1057.7 572.7 1058.6 575 1059.3 577.5 1059.9 580 1060.4 582.5 1060.7 585.1 1060.8 587.7 1060.8 590.3 1060.6 592.8 1060.1 595.2 1059.5 597.5 1058.6 599.6 1057.5 601.6 1056.2 603.5 1054.7 605.4 1053.1 607.1 1051.4 608.9 1049.6 610.6 1047.7 612.4 1045.9 614.1 1044 615.8 1042.1 617.5 1040.3 619.1 1038.3 620.7 1036.4 622.2 1034.4 623.7 1032.4 625.1 1030.3 626.5 1028.2 627.8 1026.1 629.1 1024 630.4 1021.9 631.6 1019.7 632.8 1017.5 633.9 1015.3 635 1013.1 636.1 1010.9 637.2 1008.6 638.2 1006.3 639.2 1004.1 640.2 1001.8 641.2 999.5 642.2 997.2 643.2 994.8 644.1 992.5 645.1 990.2 646 987.9 647 985.6 647.9 983.2 648.9 980.9 649.9 978.6 650.8 976.3 651.8 974 652.8 971.7 653.8 969.4 654.8 967.1 655.8 964.8 656.8 962.5 657.8 960.2 658.7 957.9 659.7 955.6 660.6 953.3 661.6 951 662.5 948.7 663.4 946.4 664.2 944 665 941.7 665.9 939.3 666.7 937 667.4 934.6 668.2 932.2 669 929.9 669.7 927.5 670.5 925.1 671.2 922.7 672 920.4 672.7 918 673.5 915.6 674.2 913.2 675 910.8 675.7 908.4 676.5 906 677.2 903.7 678 901.3 678.7 898.9 679.5 896.5 680.2 894.1 680.9 891.7 681.7 889.3 682.4 886.9 683.1 884.5 683.8 882.1 684.6 879.7 685.3 877.3 686 874.9 686.7 872.5 687.4 870.1 688 867.7 688.7 865.3 689.4 862.9 690 860.5 690.7 858.1 691.4 855.7 692 853.3 692.6 850.9 693.2 848.5 693.9 846 694.5 843.6 695.1 841.2 695.7 838.8 696.3 836.3 696.8 833.9 697.4 831.5 698 829 698.6 826.6 699.1 824.2 699.7 821.7 700.3 819.3 700.9 816.9 701.4 814.4 702 812 702.6 809.6 703.2 807.1 703.8 804.7 704.3 802.3 704.9 799.8 705.5 797.4 706.1 795 706.8 792.6 707.4 790.2 708 787.7 708.7 785.3 709.4 782.9 710 780.5 710.7 778.1 711.5 775.7 712.2 773.4 713 771 713.8 768.6 714.6 766.3 715.5 763.9 716.5 761.6 717.4 759.3 718.5 757 719.5 754.8 720.7 752.5 721.9 750.3 723.1 748.1 724.4 745.9 725.8 743.8 727.3 741.6 728.8 739.6 730.5 737.7 732.3 736.1 734.2 734.8 736.4 734.1 738.7 733.9 741.2 734.3 743.7 735.2 746.1 736.4 748.4 737.7 750.4 739.2 752.3 740.9 754 742.7 755.6 744.6 757 746.6 758.3 748.7 759.5 750.9 760.7 753.1 761.8 755.4 762.8 757.7 763.8 760 764.8 762.3 765.7 764.6 766.7 767 767.6 769.3 768.5 771.6 769.5 774 770.4 776.3 771.2 778.6 772.1 781 773 783.3 773.8 785.7 774.6 788 775.5 790.4 776.3 792.7 777.1 795.1 777.9 797.5 778.6 799.8 779.4 802.2 780.2 804.6 780.9 807 781.6 809.3 782.4 811.7 783.1 814.1 783.8 816.5 784.5 818.9 785.2 821.3 785.9 823.7 786.5 826.1 787.2 828.5 787.9 830.9 788.6 833.3 789.3 835.8 790 838.2 790.6 840.6 791.3 843 792 845.4 792.7 847.8 793.4 850.2 794.2 852.6 794.9 855 795.6 857.3 796.4 859.7 797.1 862.1 797.9 864.5 798.7 866.9 799.5 869.2 800.3 871.6 801 874 801.9 876.3 802.7 878.7 803.5 881.1 804.3 883.4 805.1 885.8 805.9 888.1 806.7 890.5 807.5 892.9 808.4 895.2 809.2 897.6 810 899.9 810.8 902.3 811.6 904.7 812.4 907 813.2 909.4 814 911.8 814.8 914.1 815.6 916.5 816.4 918.9 817.2 921.3 818 923.6 818.7 926 819.5 928.4 820.3 930.8 821 933.1 821.8 935.5 822.5 937.9 823.3 940.3 824 942.7 824.8 945.1 825.5 947.5 826.2 949.9 826.9 952.2 827.6 954.6 828.4 957 829 959.4 829.8 961.8 830.4 964.2 831.1 966.6 831.8 969.1 832.5 971.5 833.1 973.9 833.8 976.3 834.4 978.7 835.1 981.1 835.7 983.5 836.4 985.9 837 988.3 837.6 990.8 838.2 993.2 838.9 995.6 839.5 998 840.1 1000.4 840.7 1002.9 841.4 1005.3 842 1007.7 842.6 1010.1 843.2 1012.5 843.9 1015 844.5 1017.4 845.1 1019.8 845.8 1022.2 846.4 1024.6 847 1027 847.7 1029.5 848.4 1031.9 849 1034.3 849.7 1036.7 850.4 1039.1 851.1 1041.5 851.8 1043.9 852.5 1046.3 853.2 1048.7 854 1051.1 854.7 1053.5 855.5 1055.9 856.2 1058.2 857 1060.6 857.8 1063 858.6 1065.4 859.4 1067.7 860.2 1070.1 861 1072.5 861.9 1074.8 862.7 1077.2 863.6 1079.5 864.5 1081.8 865.4 1084.2 866.3 1086.5 867.2 1088.8 868.1 1091.1 869 1093.5 870 1095.8 870.9 1098.1 871.9 1100.4 872.8 1102.7 873.8 1105 874.7 1107.3 875.7 1109.6 876.7 1111.9 877.7 1114.2 878.6 1116.6 879.6 1118.9 880.6 1121.2 881.7 1123.5 882.7 1125.7 883.8 1128 885 1130.2 886.1 1132.4 887.4 1134.6 888.7 1136.7 890 1138.8 891.4 1140.8 892.9 1142.8 894.4 1144.8 895.9 1146.8 897.5 1148.7 899.1 1150.6 900.8 1152.5 902.4 1154.4 904.1 1156.2 905.8 1158.1 907.5 1160 909.3 1161.8 911 1163.6 912.8 1165.4 914.6 1167.2 916.5 1168.8 918.4 1170.4 920.3 1172 922.3 1173.4 924.4 1174.7 926.5 1176 928.7 1177.2 930.9 1178.4 933.1 1179.5 935.4 1180.5 937.6 1181.5 940 1182.5 942.3 1183.4 944.7 1184.3 947.1 1185.1 949.5 1185.8 951.9 1186.5 954.3 1187.2 956.7 1187.8 959.2 1188.3 961.6 1188.8 964.1 1189.2 966.5 1189.6 969 1190 971.5 1190.2 973.9 1190.5 976.4 1190.7 978.9 1190.8 981.4 1190.9 983.9 1191 986.4 1191 988.9 1191 991.4 1191 993.9 1190.9 996.4 1190.8 998.9 1190.6 1001.4 1190.5 1003.9 1190.3 1006.4 1190.1 1008.9 1189.9 1011.4 1189.6 1013.9 1189.4 1016.3 1189.1 1018.8 1188.8 1021.2 1188.5 1023.6 1188 1026 1187.4 1028.4 1186.8 1030.8 1185.9 1033.2 1185 1035.5 1183.9 1037.8 1182.8 1040 1181.7 1042.3 1180.5 1044.5 1179.4 1046.7 1178.3 1048.9 1177.1 1051.1 1176 1053.2 1174.9 1055.4 1173.7 1057.6 1172.6 1059.8 1171.5 1062 1170.4 1064.3 1169.2 1066.5 1168.1 1068.8 1167 1071.2 1165.9 1073.5 1164.9 1075.9 1164 1078.3 1163.1 1080.7 1162.3 1083.1 1161.7 1085.5 1161.2 1088 1160.9 1090.4 1160.7 1092.8 1160.8 1095.2 1161.1 1097.6 1161.5 1100 1162.2 1102.4 1162.9 1104.7 1163.8 1107 1164.9 1109.2 1166.1 1111.5 1167.3 1113.6 1168.7 1115.7 1170.1 1117.8 1171.6 1119.9 1173.1 1121.9 1174.7 1123.9 1176.2 1126 1177.7 1128 1179.1 1130.1 1180.5 1132.2 1181.7 1134.4 1182.9 1136.6 1183.9 1138.9 1184.7 1141.3 1185.4 1143.7 1185.9 1146.2 1186.2 1148.7 1186.3 1151.2 1186.3 1153.7 1186.1 1156.2 1185.7 1158.7 1185.2 1161.1 1184.5 1163.5 1183.6 1165.8 1182.6 1167.9 1181.4 1170 1180.1 1172.1 1178.6 1174 1177 1175.8 1175.3 1177.6 1173.5 1179.3 1171.7 1180.9 1169.7 1182.4 1167.7 1183.9 1165.6 1185.3 1163.5 1186.6 1161.4 1187.8 1159.2 1189 1157 1190.1 1154.8 1191.2 1152.6 1192.3 1150.3 1193.3 1148.1 1194.3 1145.8 1195.2 1143.5 1196.2 1141.2 1197.1 1138.9 1198.1 1136.6 1199 1134.3 1200 1132 1201 1129.7 1201.9 1127.4 1202.9 1125.1 1204 1122.7 1205 1120.4 1206 1118.1 1207 1115.8 1208 1113.5 1209 1111.1 1210 1108.8 1211 1106.5 1212 1104.2 1213 1101.9 1214 1099.6 1214.9 1097.3 1215.9 1095 1216.8 1092.8 1217.8 1090.5 1218.7 1088.2 1219.6 1085.9 1220.6 1083.6 1221.5 1081.3 1222.5 1079.1 1223.4 1076.8 1224.3 1074.5 1225.3 1072.2 1226.2 1069.9 1227.2 1067.7 1228.2 1065.4 1229.2 1063.1 1230.2 1060.8 1231.2 1058.5 1232.2 1056.2 1233.3 1054 1234.3 1051.7 1235.4 1049.4 1236.5 1047.1 1237.6 1044.8 1238.8 1042.5 1239.9 1040.1 1241.1 1037.8 1242.3 1035.5 1243.6 1033.3 1245 1031.1 1246.4 1029.1 1248.1 1027.3 1249.9 1025.8 1251.8 1024.5 1254.1 1023.6 1256.5 1023.1 1258.9 1023.2 1261.2 1023.9 1263.2 1025.2 1265 1027 1266.6 1028.8 1268.1 1030.9 1269.4 1033 1270.6 1035.2 1271.8 1037.4 1272.8 1039.7 1273.8 1042.1 1274.7 1044.5 1275.5 1046.9 1276.4 1049.3 1277.3 1051.6 1278.1 1054 1279 1056.4 1279.8 1058.8 1280.6 1061.1 1281.4 1063.5 1282.2 1065.8 1283 1068.1 1283.8 1070.5 1284.6 1072.8 1285.4 1075.2 1286.1 1077.6 1286.9 1079.9 1287.6 1082.3 1288.3 1084.7 1289 1087.1 1289.8 1089.5 1290.5 1091.9 1291.1 1094.3 1291.8 1096.7 1292.5 1099.1 1293.2 1101.5 1293.9 1103.9 1294.6 1106.4 1295.3 1108.8 1296 1111.2 1296.7 1113.6 1297.4 1116 1298.1 1118.4 1298.8 1120.8 1299.6 1123.2 1300.3 1125.6 1301.1 1127.9 1301.9 1130.3 1302.7 1132.6 1303.6 1135 1304.4 1137.3 1305.3 1139.6 1306.3 1142 1307.2 1144.2 1308.2 1146.5 1309.3 1148.8 1310.3 1151 1311.5 1153.3 1312.6 1155.5 1313.8 1157.7 1315.1 1159.9 1316.4 1162 1317.8 1164.1 1319.2 1166.2 1320.7 1168.2 1322.2 1170.2 1323.8 1172.2 1325.5 1174 1327.2 1175.8 1329.1 1177.4 1331.2 1178.8 1333.4 1179.9 1335.8 1180.8 1338.2 1181.3 1340.7 1181.5 1343.2 1181.4 1345.7 1180.9 1348.1 1180.1 1350.4 1179.2 1352.6 1178 1354.7 1176.6 1356.6 1175.1 1358.5 1173.4 1360.3 1171.6 1362 1169.8 1363.6 1167.8 1365.2 1165.8 1366.7 1163.8 1368.1 1161.8 1369.5 1159.7 1370.8 1157.6 1372.1 1155.5 1373.4 1153.4 1374.6 1151.2 1375.8 1149.1 1377 1146.9 1378.1 1144.7 1379.3 1142.4 1380.4 1140.2 1381.5 1137.9 1382.6 1135.6 1383.7 1133.3 1385 1131 1386.3 1128.9 1387.8 1126.9 1389.5 1125.1 1391.5 1123.6 1393.7 1122.4 1396 1121.8 1398.5 1121.7 1400.9 1122.2 1403.2 1123.2 1405.3 1124.6 1407.1 1126.3 1408.7 1128.3 1410 1130.5 1411.1 1132.7 1412.2 1135.1 1413.3 1137.4 1414.3 1139.7 1415.3 1142 1416.3 1144.3 1417.2 1146.6 1418.2 1148.9 1419.1 1151.2 1420 1153.5 1421 1155.8 1421.9 1158.1 1422.8 1160.4 1423.7 1162.7 1424.7 1165 1425.6 1167.3 1426.6 1169.6 1427.5 1171.9 1428.5 1174.1 1429.6 1176.4 1430.6 1178.7 1431.7 1181 1432.8 1183.2 1434 1185.5 1435.2 1187.8 1436.4 1190 1437.7 1192.2 1439.1 1194.3 1440.5 1196.4 1442 1198.4 1443.5 1200.4 1445.2 1202.2 1446.9 1204 1448.7 1205.7 1450.6 1207.3 1452.5 1208.8 1454.6 1210.2 1456.8 1211.4 1459 1212.5 1461.4 1213.4 1463.8 1214.2 1466.2 1214.8 1468.6 1215.2 1471.1 1215.4 1473.5 1215.4 1476 1215.3 1478.5 1215.1 1481 1214.8 1483.5 1214.4 1486.1 1214 1488.6 1213.6 1491.2 1213.2 1493.7 1212.9 1496.2 1212.6 1498.7 1212.4 1501.2 1212.2 1503.7 1212.3 1506.2 1212.4 1508.6 1212.7 1511 1213.2 1513.3 1213.9 1515.6 1214.8 1517.9 1215.7 1520.2 1216.8 1522.4 1218 1524.6 1219.2 1526.8 1220.4 1528.9 1221.7 1531.1 1223 1533.2 1224.3 1535.3 1225.6 1537.4 1226.8 1539.6 1228 1541.8 1229.1 1544.1 1230.2 1546.4 1231.2 1548.8 1232.2 1551.2 1233 1553.7 1233.6 1556.2 1234.1 1558.6 1234.4 1561.1 1234.6 1563.5 1234.6 1566 1234.5 1568.4 1234.3 1570.9 1234 1573.3 1233.7 1575.8 1233.3 1578.3 1232.8 1580.7 1232.3 1583.2 1231.8 1585.7 1231.4 1588.2 1230.9 1590.7 1230.4 1593.2 1230 1595.7 1229.7 1598.2 1229.4 1600.7 1229.2 1603.1 1229.1 1605.6 1229.1 1608.1 1229.2 1610.5 1229.5 1612.9 1229.9 1615.3 1230.4 1617.8 1231 1620.1 1231.7 1622.5 1232.4 1624.9 1233.3 1627.3 1234.1 1629.7 1235 1632 1235.9 1634.4 1236.8 1636.8 1237.6 1639.1 1238.5 1641.5 1239.2 1643.9 1240 1646.3 1240.7 1648.6 1241.5 1651 1242.1 1653.4 1242.8 1655.8 1243.5 1658.2 1244.2 1660.6 1244.8 1663 1245.5 1665.4 1246.1 1667.8 1246.8 1670.2 1247.5 1672.6 1248.1 1675 1248.8 1677.4 1249.5 1679.9 1250.1 1682.3 1250.7 1684.7 1251.4 1687.1 1252 1689.6 1252.6 1692 1253.2 1694.4 1253.7 1696.9 1254.3 1699.3 1254.8 1701.8 1255.3 1704.2 1255.8 1706.7 1256.2 1709.1 1256.6 1711.6 1257 1714 1257.4 1716.5 1257.7 1719 1258 1721.5 1258.3 1724 1258.5 1726.5 1258.7 1729 1258.9 1731.4 1259 1733.9 1259.2 1736.4 1259.3 1738.9 1259.4 1741.4 1259.5 1743.9 1259.6 1746.4 1259.7 1748.9 1259.8 1751.4 1259.8 1753.9 1259.9 1756.4 1260 1758.9 1260.1 1761.4 1260.2 1763.9 1260.4 1766.3 1260.5 1768.8 1260.7 1771.3 1260.8 1773.8 1261 1776.3 1261.2 1778.8 1261.5 1781.3 1261.7 1783.8 1261.9 1786.3 1262 1788.8 1262.1 1791.3 1262.2 1793.8 1262.1 1796.3 1261.9 1798.8 1261.6 1801.2 1261.2 1801.2 1266.6 1798.8 1267 1796.3 1267.3 1793.8 1267.5 1791.3 1267.6 1788.8 1267.5 1786.3 1267.4 1783.8 1267.3 1781.3 1267.1 1778.8 1266.9 1776.3 1266.7 1773.8 1266.4 1771.3 1266.2 1768.8 1266.1 1766.3 1265.9 1763.9 1265.8 1761.4 1265.6 1758.9 1265.5 1756.4 1265.4 1753.9 1265.3 1751.4 1265.2 1748.9 1265.2 1746.4 1265.1 1743.9 1265 1741.4 1264.9 1738.9 1264.8 1736.4 1264.7 1733.9 1264.6 1731.4 1264.5 1729 1264.3 1726.5 1264.1 1724 1263.9 1721.5 1263.7 1719 1263.4 1716.5 1263.1 1714 1262.8 1711.6 1262.4 1709.1 1262 1706.7 1261.6 1704.2 1261.2 1701.8 1260.7 1699.3 1260.2 1696.9 1259.7 1694.4 1259.1 1692 1258.6 1689.6 1258 1687.1 1257.4 1684.7 1256.8 1682.3 1256.1 1679.9 1255.5 1677.4 1254.9 1675 1254.2 1672.6 1253.5 1670.2 1252.9 1667.8 1252.2 1665.4 1251.5 1663 1250.9 1660.6 1250.2 1658.2 1249.6 1655.8 1248.9 1653.4 1248.2 1651 1247.5 1648.6 1246.9 1646.3 1246.1 1643.9 1245.4 1641.5 1244.6 1639.1 1243.9 1636.8 1243 1634.4 1242.2 1632 1241.3 1629.7 1240.4 1627.3 1239.5 1624.9 1238.7 1622.5 1237.8 1620.1 1237.1 1617.8 1236.4 1615.3 1235.8 1612.9 1235.3 1610.5 1234.9 1608.1 1234.6 1605.6 1234.5 1603.1 1234.5 1600.7 1234.6 1598.2 1234.8 1595.7 1235.1 1593.2 1235.4 1590.7 1235.8 1588.2 1236.3 1585.7 1236.8 1583.2 1237.2 1580.7 1237.8 1578.3 1238.2 1575.8 1238.7 1573.3 1239.1 1570.9 1239.5 1568.4 1239.7 1566 1239.9 1563.5 1240 1561.1 1240 1558.6 1239.8 1556.2 1239.5 1553.7 1239 1551.2 1238.4 1548.8 1237.6 1546.4 1236.6 1544.1 1235.6 1541.8 1234.5 1539.6 1233.4 1537.4 1232.2 1535.3 1231 1533.2 1229.7 1531.1 1228.4 1528.9 1227.1 1526.8 1225.8 1524.6 1224.6 1522.4 1223.4 1520.2 1222.2 1517.9 1221.1 1515.6 1220.2 1513.3 1219.3 1511 1218.7 1508.6 1218.1 1506.2 1217.8 1503.7 1217.7 1501.2 1217.7 1498.7 1217.8 1496.2 1218 1493.7 1218.3 1491.2 1218.7 1488.6 1219 1486.1 1219.5 1483.5 1219.8 1481 1220.2 1478.5 1220.5 1476 1220.7 1473.5 1220.8 1471.1 1220.8 1468.6 1220.6 1466.2 1220.2 1463.8 1219.6 1461.4 1218.8 1459 1217.9 1456.8 1216.8 1454.6 1215.6 1452.5 1214.2 1450.6 1212.7 1448.7 1211.1 1446.9 1209.4 1445.2 1207.7 1443.5 1205.8 1442 1203.8 1440.5 1201.8 1439.1 1199.7 1437.7 1197.6 1436.4 1195.4 1435.2 1193.2 1434 1190.9 1432.8 1188.7 1431.7 1186.4 1430.6 1184.1 1429.6 1181.8 1428.5 1179.5 1427.5 1177.3 1426.6 1175 1425.6 1172.7 1424.7 1170.4 1423.7 1168.1 1422.8 1165.8 1421.9 1163.5 1421 1161.2 1420 1158.9 1419.1 1156.6 1418.2 1154.3 1417.2 1152 1416.3 1149.7 1415.3 1147.4 1414.3 1145.1 1413.3 1142.8 1412.2 1140.5 1411.1 1138.1 1410 1135.9 1408.7 1133.7 1407.1 1131.7 1405.3 1130 1403.2 1128.6 1400.9 1127.6 1398.5 1127.1 1396 1127.2 1393.7 1127.8 1391.5 1129 1389.5 1130.5 1387.8 1132.3 1386.3 1134.3 1385 1136.4 1383.7 1138.7 1382.6 1141 1381.5 1143.3 1380.4 1145.6 1379.3 1147.8 1378.1 1150.1 1377 1152.3 1375.8 1154.5 1374.6 1156.6 1373.4 1158.8 1372.1 1160.9 1370.8 1163 1369.5 1165.1 1368.1 1167.2 1366.7 1169.2 1365.2 1171.2 1363.6 1173.2 1362 1175.2 1360.3 1177 1358.5 1178.8 1356.6 1180.5 1354.7 1182 1352.6 1183.4 1350.4 1184.6 1348.1 1185.5 1345.7 1186.3 1343.2 1186.8 1340.7 1186.9 1338.2 1186.7 1335.8 1186.2 1333.4 1185.3 1331.2 1184.2 1329.1 1182.8 1327.2 1181.2 1325.5 1179.4 1323.8 1177.6 1322.2 1175.6 1320.7 1173.6 1319.2 1171.6 1317.8 1169.5 1316.4 1167.4 1315.1 1165.3 1313.8 1163.1 1312.6 1160.9 1311.5 1158.7 1310.3 1156.5 1309.3 1154.2 1308.2 1151.9 1307.2 1149.7 1306.3 1147.4 1305.3 1145 1304.4 1142.7 1303.6 1140.4 1302.7 1138 1301.9 1135.7 1301.1 1133.3 1300.3 1131 1299.6 1128.6 1298.8 1126.2 1298.1 1123.8 1297.4 1121.4 1296.7 1119 1296 1116.6 1295.3 1114.2 1294.6 1111.8 1293.9 1109.3 1293.2 1106.9 1292.5 1104.5 1291.8 1102.1 1291.1 1099.7 1290.5 1097.3 1289.8 1094.9 1289 1092.5 1288.3 1090.1 1287.6 1087.7 1286.9 1085.3 1286.1 1083 1285.4 1080.6 1284.6 1078.2 1283.8 1075.9 1283 1073.5 1282.2 1071.2 1281.4 1068.9 1280.6 1066.5 1279.8 1064.2 1279 1061.8 1278.1 1059.4 1277.3 1057 1276.4 1054.7 1275.5 1052.3 1274.7 1049.9 1273.8 1047.5 1272.8 1045.1 1271.8 1042.8 1270.6 1040.6 1269.4 1038.4 1268.1 1036.3 1266.6 1034.2 1265 1032.4 1263.2 1030.6 1261.2 1029.3 1258.9 1028.6 1256.5 1028.5 1254.1 1029 1251.8 1029.9 1249.9 1031.2 1248.1 1032.7 1246.4 1034.5 1245 1036.5 1243.6 1038.7 1242.3 1040.9 1241.1 1043.2 1239.9 1045.5 1238.8 1047.9 1237.6 1050.2 1236.5 1052.5 1235.4 1054.8 1234.3 1057.1 1233.3 1059.4 1232.2 1061.6 1231.2 1063.9 1230.2 1066.2 1229.2 1068.5 1228.2 1070.8 1227.2 1073.1 1226.2 1075.3 1225.3 1077.6 1224.3 1079.9 1223.4 1082.2 1222.5 1084.5 1221.5 1086.7 1220.6 1089 1219.6 1091.3 1218.7 1093.6 1217.8 1095.9 1216.8 1098.2 1215.9 1100.4 1214.9 1102.7 1214 1105 1213 1107.3 1212 1109.6 1211 1111.9 1210 1114.2 1209 1116.5 1208 1118.9 1207 1121.2 1206 1123.5 1205 1125.8 1204 1128.1 1202.9 1130.5 1201.9 1132.8 1201 1135.1 1200 1137.4 1199 1139.7 1198.1 1142 1197.1 1144.3 1196.2 1146.6 1195.2 1148.9 1194.3 1151.2 1193.3 1153.5 1192.3 1155.7 1191.2 1158 1190.1 1160.2 1189 1162.4 1187.8 1164.6 1186.6 1166.8 1185.3 1168.9 1183.9 1171 1182.4 1173.1 1180.9 1175.1 1179.3 1177.1 1177.6 1178.9 1175.8 1180.7 1174 1182.4 1172.1 1184 1170 1185.5 1167.9 1186.8 1165.8 1188 1163.5 1189 1161.1 1189.9 1158.7 1190.6 1156.2 1191.1 1153.7 1191.5 1151.2 1191.7 1148.7 1191.8 1146.2 1191.6 1143.7 1191.3 1141.3 1190.8 1138.9 1190.1 1136.6 1189.3 1134.4 1188.3 1132.2 1187.1 1130.1 1185.9 1128 1184.5 1126 1183.1 1123.9 1181.6 1121.9 1180.1 1119.9 1178.5 1117.8 1177 1115.7 1175.5 1113.6 1174.1 1111.5 1172.7 1109.2 1171.5 1107 1170.3 1104.7 1169.2 1102.4 1168.3 1100 1167.6 1097.6 1166.9 1095.2 1166.5 1092.8 1166.2 1090.4 1166.1 1088 1166.3 1085.5 1166.6 1083.1 1167.1 1080.7 1167.7 1078.3 1168.5 1075.9 1169.4 1073.5 1170.3 1071.2 1171.3 1068.8 1172.4 1066.5 1173.5 1064.3 1174.6 1062 1175.8 1059.8 1176.9 1057.6 1178 1055.4 1179.1 1053.2 1180.3 1051.1 1181.4 1048.9 1182.5 1046.7 1183.7 1044.5 1184.8 1042.3 1185.9 1040 1187.1 1037.8 1188.2 1035.5 1189.3 1033.2 1190.4 1030.8 1191.3 1028.4 1192.2 1026 1192.8 1023.6 1193.4 1021.2 1193.9 1018.8 1194.2 1016.3 1194.5 1013.9 1194.8 1011.4 1195 1008.9 1195.3 1006.4 1195.5 1003.9 1195.7 1001.4 1195.9 998.9 1196 996.4 1196.2 993.9 1196.3 991.4 1196.4 988.9 1196.4 986.4 1196.4 983.9 1196.4 981.4 1196.3 978.9 1196.2 976.4 1196.1 973.9 1195.9 971.5 1195.6 969 1195.4 966.5 1195 964.1 1194.6 961.6 1194.2 959.2 1193.7 956.7 1193.2 954.3 1192.6 951.9 1191.9 949.5 1191.2 947.1 1190.5 944.7 1189.7 942.3 1188.8 940 1187.9 937.6 1186.9 935.4 1185.9 933.1 1184.9 930.9 1183.8 928.7 1182.6 926.5 1181.4 924.4 1180.1 922.3 1178.8 920.3 1177.4 918.4 1175.8 916.5 1174.2 914.6 1172.6 912.8 1170.8 911 1169 909.3 1167.2 907.5 1165.4 905.8 1163.5 904.1 1161.7 902.4 1159.8 900.8 1157.9 899.1 1156 897.5 1154.1 895.9 1152.2 894.4 1150.2 892.9 1148.2 891.4 1146.2 890 1144.2 888.7 1142.1 887.4 1140 886.1 1137.8 885 1135.6 883.8 1133.4 882.7 1131.1 881.7 1128.9 880.6 1126.6 879.6 1124.3 878.6 1122 877.7 1119.6 876.7 1117.3 875.7 1115 874.7 1112.7 873.8 1110.4 872.8 1108.1 871.9 1105.8 870.9 1103.5 870 1101.2 869 1098.9 868.1 1096.5 867.2 1094.2 866.3 1091.9 865.4 1089.6 864.5 1087.2 863.6 1084.9 862.7 1082.6 861.9 1080.2 861 1077.9 860.2 1075.5 859.4 1073.1 858.6 1070.8 857.8 1068.4 857 1066 856.2 1063.6 855.5 1061.3 854.7 1058.9 854 1056.5 853.2 1054.1 852.5 1051.7 851.8 1049.3 851.1 1046.9 850.4 1044.5 849.7 1042.1 849 1039.7 848.4 1037.3 847.7 1034.9 847 1032.5 846.4 1030 845.8 1027.6 845.1 1025.2 844.5 1022.8 843.9 1020.4 843.2 1018 842.6 1015.5 842 1013.1 841.4 1010.7 840.7 1008.3 840.1 1005.9 839.5 1003.4 838.9 1001 838.2 998.6 837.6 996.2 837 993.8 836.4 991.3 835.7 988.9 835.1 986.5 834.4 984.1 833.8 981.7 833.1 979.3 832.5 976.9 831.8 974.5 831.1 972.1 830.4 969.7 829.8 967.2 829 964.8 828.4 962.5 827.6 960.1 826.9 957.7 826.2 955.3 825.5 952.9 824.8 950.5 824 948.1 823.3 945.7 822.5 943.3 821.8 940.9 821 938.6 820.3 936.2 819.5 933.8 818.7 931.4 818 929 817.2 926.7 816.4 924.3 815.6 921.9 814.8 919.5 814 917.2 813.2 914.8 812.4 912.4 811.6 910.1 810.8 907.7 810 905.4 809.2 903 808.4 900.6 807.5 898.3 806.7 895.9 805.9 893.6 805.1 891.2 804.3 888.8 803.5 886.5 802.7 884.1 801.9 881.7 801 879.4 800.3 877 799.5 874.6 798.7 872.3 797.9 869.9 797.1 867.5 796.4 865.1 795.6 862.7 794.9 860.4 794.2 858 793.4 855.6 792.7 853.2 792 850.8 791.3 848.4 790.6 846 790 843.6 789.3 841.2 788.6 838.8 787.9 836.3 787.2 833.9 786.5 831.5 785.9 829.1 785.2 826.7 784.5 824.3 783.8 821.9 783.1 819.5 782.4 817.1 781.6 814.7 780.9 812.4 780.2 810 779.4 807.6 778.6 805.2 777.9 802.9 777.1 800.5 776.3 798.1 775.5 795.8 774.6 793.4 773.8 791.1 773 788.7 772.1 786.4 771.2 784.1 770.4 781.7 769.5 779.4 768.5 777 767.6 774.7 766.7 772.4 765.7 770.1 764.8 767.7 763.8 765.4 762.8 763.1 761.8 760.8 760.7 758.5 759.5 756.3 758.3 754.1 757 752 755.6 750 754 748.1 752.3 746.3 750.4 744.7 748.4 743.1 746.1 741.8 743.7 740.6 741.2 739.7 738.7 739.3 736.4 739.5 734.2 740.2 732.3 741.5 730.5 743.1 728.8 745 727.3 747 725.8 749.2 724.4 751.3 723.1 753.5 721.9 755.7 720.7 757.9 719.5 760.2 718.5 762.4 717.4 764.7 716.5 767 715.5 769.4 714.6 771.7 713.8 774 713 776.4 712.2 778.8 711.5 781.1 710.7 783.5 710 785.9 709.4 788.3 708.7 790.7 708 793.1 707.4 795.6 706.8 798 706.1 800.4 705.5 802.8 704.9 805.2 704.3 807.7 703.8 810.1 703.2 812.5 702.6 815 702 817.4 701.4 819.8 700.9 822.3 700.3 824.7 699.7 827.1 699.1 829.6 698.6 832 698 834.4 697.4 836.9 696.8 839.3 696.3 841.7 695.7 844.2 695.1 846.6 694.5 849 693.9 851.4 693.2 853.9 692.6 856.3 692 858.7 691.4 861.1 690.7 863.5 690 865.9 689.4 868.3 688.7 870.7 688 873.1 687.4 875.5 686.7 878 686 880.3 685.3 882.7 684.6 885.1 683.8 887.5 683.1 889.9 682.4 892.3 681.7 894.7 680.9 897.1 680.2 899.5 679.5 901.9 678.7 904.3 678 906.7 677.2 909.1 676.5 911.5 675.7 913.8 675 916.2 674.2 918.6 673.5 921 672.7 923.4 672 925.8 671.2 928.1 670.5 930.5 669.7 932.9 669 935.3 668.2 937.7 667.4 940 666.7 942.4 665.9 944.8 665 947.1 664.2 949.5 663.4 951.8 662.5 954.1 661.6 956.4 660.6 958.7 659.7 961 658.7 963.3 657.8 965.6 656.8 967.9 655.8 970.2 654.8 972.5 653.8 974.8 652.8 977.1 651.8 979.4 650.8 981.7 649.9 984 648.9 986.3 647.9 988.7 647 991 646 993.3 645.1 995.6 644.1 997.9 643.2 1000.2 642.2 1002.6 641.2 1004.9 640.2 1007.2 639.2 1009.5 638.2 1011.7 637.2 1014 636.1 1016.3 635 1018.5 633.9 1020.7 632.8 1022.9 631.6 1025.1 630.4 1027.3 629.1 1029.4 627.8 1031.5 626.5 1033.7 625.1 1035.7 623.7 1037.8 622.2 1039.8 620.7 1041.8 619.1 1043.7 617.5 1045.7 615.8 1047.5 614.1 1049.4 612.4 1051.3 610.6 1053.1 608.9 1055 607.1 1056.8 605.4 1058.5 603.5 1060.1 601.6 1061.6 599.6 1062.9 597.5 1064 595.2 1064.9 592.8 1065.5 590.3 1066 587.7 1066.2 585.1 1066.2 582.5 1066.1 580 1065.8 577.5 1065.3 575 1064.7 572.7 1064 570.5 1063.1 568.4 1061.9 566.4 1060.5 564.4 1059 562.6 1057.3 560.8 1055.5 559 1053.6 557.2 1051.8 555.5 1049.9 553.8 1048.1 552.2 1046.2 550.7 1044.2 549.3 1042.2 548.1 1040 546.9 1037.8 545.8 1035.5 544.8 1033.3 543.8 1031 542.8 1028.7 541.9 1026.3 540.9 1024 540 1021.7 539.1 1019.4 538.2 1017 537.3 1014.7 536.4 1012.4 535.6 1010 534.7 1007.6 533.9 1005.3 533.1 1002.9 532.3 1000.5 531.5 998.2 530.8 995.8 530 993.4 529.3 991 528.6 988.6 527.9 986.2 527.2 983.8 526.5 981.4 525.8 979 525.1 976.6 524.4 974.2 523.8 971.8 523.1 969.4 522.5 967 521.9 964.6 521.2 962.1 520.6 959.7 520 957.3 519.4 954.9 518.8 952.4 518.2 950 517.6 947.6 517.1 945.1 516.5 942.7 515.9 940.3 515.4 937.8 514.8 935.4 514.3 933 513.8 930.5 513.2 928.1 512.7 925.6 512.2 923.2 511.7 920.7 511.2 918.3 510.7 915.8 510.3 913.4 509.8 910.9 509.3 908.4 508.9 906 508.4 903.5 508 901.1 507.6 898.6 507.2 896.1 506.8 893.7 506.4 891.2 505.9 888.7 505.6 886.3 505.2 883.8 504.8 881.3 504.4 878.9 504.1 876.4 503.7 873.9 503.4 871.4 503 869 502.7 866.5 502.3 864 502 861.5 501.7 859.1 501.4 856.6 501.1 854.1 500.8 851.6 500.4 849.1 500.1 846.6 499.9 844.2 499.6 841.7 499.3 839.2 499 836.7 498.7 834.2 498.4 831.7 498.1 829.3 497.9 826.8 497.6 824.3 497.3 821.8 497.1 819.3 496.8 816.8 496.5 814.4 496.2 811.9 496 809.4 495.7 806.9 495.5 804.4 495.2 801.9 495 799.4 494.7 796.9 494.4 794.5 494.2 792 493.9 789.5 493.7 787 493.5 784.5 493.2 782 493 779.5 492.7 777 492.5 774.6 492.2 772.1 492 769.6 491.8 767.1 491.5 764.6 491.3 762.1 491.1 759.6 490.9 757.1 490.6 754.6 490.4 752.1 490.2 749.7 489.9 747.2 489.7 744.7 489.5 742.2 489.3 739.7 489.1 737.2 488.8 734.7 488.6 732.2 488.4 729.7 488.2 727.2 488 724.8 487.8 722.3 487.5 719.8 487.3 717.3 487.1 714.8 486.9 712.3 486.7 709.8 486.5 707.3 486.3 704.8 486.1 702.3 485.9 699.8 485.7 697.3 485.5 694.9 485.3 692.4 485.1 689.9 484.9 687.4 484.7 684.9 484.5 682.4 484.3 679.9 484.1 677.4 483.9 674.9 483.7 672.4 483.6 669.9 483.4 667.4 483.2 664.9 483 662.5 482.8 660 482.6 657.5 482.4 655 482.2 652.5 482.1 650 481.9 647.5 481.7 645 481.5 642.5 481.4 640 481.2 637.5 481 635 480.8 632.5 480.6 630 480.5 627.5 480.3 625.1 480.1 622.6 479.9 620.1 479.8 617.6 479.6 615.1 479.4 612.6 479.3 610.1 479.1 607.6 478.9 605.1 478.8 602.6 478.6 600.1 478.4 597.6 478.3 595.1 478.1 592.6 477.9 590.1 477.8 587.6 477.6 585.1 477.5 582.7 477.3 580.2 477.1 577.7 477 575.2 476.8 572.7 476.7 570.2 476.5 567.7 476.4 565.2 476.2 562.7 476.1 560.2 475.9 557.7 475.8 555.2 475.6 552.7 475.5 550.2 475.3 547.7 475.2 545.2 475 542.7 474.9 540.2 474.7 537.7 474.6 535.2 474.4 532.7 474.3 530.2 474.1 527.8 474 525.3 473.9 522.8 473.7 520.3 473.6 517.8 473.4 515.3 473.3 512.8 473.2 510.3 473 507.8 472.9 505.3 472.7 502.8 472.6 500.3 472.5 497.8 472.3 495.3 472.2 492.8 472.1 490.3 471.9 487.8 471.8 485.3 471.7 482.8 471.5 480.3 471.4 477.8 471.3 475.3 471.1 472.8 471 470.3 470.9 467.8 470.8 465.3 470.6 462.8 470.5 460.3 470.4 457.8 470.2 455.4 470.1 452.9 470 450.4 469.9 447.9 469.8 445.4 469.6 442.9 469.5 440.4 469.4 437.9 469.3 435.4 469.1 432.9 469 430.4 468.9 427.9 468.8 425.4 468.6 422.9 468.5 420.4 468.4 417.9 468.3 415.4 468.2 412.9 468.1 410.4 467.9 407.9 467.8 405.4 467.7 402.9 467.6 400.4 467.5 397.9 467.4 395.4 467.2 392.9 467.1 390.4 467 387.9 466.9 385.4 466.8 382.9 466.7 380.4 466.6 377.9 466.5 375.4 466.4 372.9 466.2 370.4 466.1 367.9 466 365.4 465.9 362.9 465.8 360.5 465.7 358 465.6 355.5 465.5 353 465.4 350.5 465.2 348 465.1 345.5 465 343 464.9 340.5 464.8 338 464.7 335.5 464.6 333 464.5 330.5 464.4 328 464.3 325.5 464.2 323 464.1 320.5 464 318 463.9 315.5 463.8 313 463.7 310.5 463.6 308 463.5 305.5 463.4 303 463.2 300.5 463.1 298 463.1 295.5 462.9 293 462.8 290.5 462.7 288 462.6 285.5 462.5 283 462.4 280.5 462.3 278 462.2 275.5 462.1 273 462 270.5 461.9 268 461.8 265.5 461.7 263 461.6 260.5 461.5 258 461.4 255.5 461.3 253 461.2 250.5 461.1 248 461 245.5 460.9 243 460.8 240.5 460.7 238 460.6 235.5 460.5 233.1 460.4 230.6 460.4 228.1 460.2 225.6 460.1 223.1 460.1 220.6 459.9 218.1 459.9 215.6 459.8 213.1 459.7 210.6 459.6 208.1 459.5 205.6 459.4 203.1 459.3 200.6 459.2 198.1 459.1 195.6 459 193.1 458.9 190.6 458.8 188.1 458.7 185.6 458.6 183.1 458.5 180.6 458.4 178.1 458.3 175.6 458.2 173.1 458.1 170.6 458 168.1 457.9 165.6 457.8 163.1 457.7 160.6 457.6 158.1 457.5 155.6 457.4 153.1 457.3 150.6 457.2 148.1 457.1 145.6 457 143.1 456.9 140.6 456.8 138.1 456.7 135.6 456.6 133.1 456.5 130.6 456.4 128.1 456.3 125.6 456.2 123.1 456.1 120.6 456 118.2 455.9 115.7 455.8 113.2 455.7 110.7 455.6 108.2 455.5 105.7 455.4 103.2 455.3 100.7 455.2 98.2 455.1 95.7 455 93.2 454.9 90.7 454.8 88.2 454.7 85.7 454.6 83.2 454.5 80.7 454.4 78.2 454.3 75.7 454.2 73.2 454.1 70.7 454 68.2 453.9 65.7 453.8 63.2 453.7 60.7ZM457 58 457.1 60.5 457.2 63 457.3 65.5 457.4 68 457.5 70.5 457.6 73 457.7 75.5 457.8 78 457.9 80.5 458 83 458.1 85.5 458.2 88 458.3 90.5 458.4 93 458.5 95.5 458.6 98 458.7 100.5 458.8 103 458.9 105.5 459 108 459.1 110.5 459.2 113 459.3 115.5 459.4 117.9 459.5 120.4 459.6 122.9 459.7 125.4 459.8 127.9 459.9 130.4 460 132.9 460.1 135.4 460.2 137.9 460.3 140.4 460.4 142.9 460.5 145.4 460.6 147.9 460.7 150.4 460.8 152.9 460.9 155.4 461 157.9 461.1 160.4 461.2 162.9 461.3 165.4 461.4 167.9 461.5 170.4 461.6 172.9 461.7 175.4 461.8 177.9 461.9 180.4 462 182.9 462.1 185.4 462.2 187.9 462.3 190.4 462.4 192.9 462.5 195.4 462.6 197.9 462.7 200.4 462.8 202.9 462.9 205.4 463 207.9 463.1 210.4 463.2 212.9 463.2 215.4 463.4 217.9 463.4 220.4 463.6 222.9 463.7 225.4 463.7 227.9 463.8 230.4 463.9 232.8 464 235.3 464.1 237.8 464.2 240.3 464.3 242.8 464.4 245.3 464.5 247.8 464.6 250.3 464.7 252.8 464.8 255.3 464.9 257.8 465 260.3 465.1 262.8 465.2 265.3 465.3 267.8 465.4 270.3 465.5 272.8 465.6 275.3 465.7 277.8 465.8 280.3 465.9 282.8 466 285.3 466.1 287.8 466.2 290.3 466.4 292.8 466.4 295.3 466.6 297.8 466.7 300.3 466.8 302.8 466.9 305.3 467 307.8 467.1 310.3 467.2 312.8 467.3 315.3 467.4 317.8 467.5 320.3 467.6 322.8 467.7 325.3 467.8 327.8 467.9 330.3 468 332.8 468.1 335.3 468.2 337.8 468.3 340.3 468.4 342.8 468.6 345.3 468.7 347.8 468.8 350.3 468.9 352.8 469 355.3 469.1 357.8 469.2 360.2 469.3 362.8 469.4 365.2 469.5 367.8 469.7 370.2 469.8 372.7 469.9 375.2 470 377.7 470.1 380.2 470.2 382.7 470.3 385.2 470.4 387.7 470.6 390.2 470.7 392.7 470.8 395.2 470.9 397.7 471 400.2 471.1 402.7 471.2 405.2 471.4 407.7 471.5 410.2 471.6 412.7 471.7 415.2 471.8 417.7 471.9 420.2 472.1 422.7 472.2 425.2 472.3 427.7 472.4 430.2 472.6 432.7 472.7 435.2 472.8 437.7 472.9 440.2 473.1 442.7 473.2 445.2 473.3 447.7 473.4 450.2 473.6 452.7 473.7 455.1 473.8 457.6 473.9 460.1 474.1 462.6 474.2 465.1 474.3 467.6 474.4 470.1 474.6 472.6 474.7 475.1 474.8 477.6 475 480.1 475.1 482.6 475.2 485.1 475.4 487.6 475.5 490.1 475.6 492.6 475.8 495.1 475.9 497.6 476 500.1 476.2 502.6 476.3 505.1 476.5 507.6 476.6 510.1 476.7 512.6 476.9 515.1 477 517.6 477.2 520.1 477.3 522.6 477.4 525 477.6 527.5 477.7 530 477.9 532.5 478 535 478.2 537.5 478.3 540 478.5 542.5 478.6 545 478.8 547.5 478.9 550 479.1 552.5 479.2 555 479.4 557.5 479.5 560 479.7 562.5 479.8 565 480 567.5 480.1 570 480.3 572.5 480.4 575 480.6 577.5 480.8 580 480.9 582.4 481.1 584.9 481.2 587.4 481.4 589.9 481.6 592.4 481.7 594.9 481.9 597.4 482.1 599.9 482.2 602.4 482.4 604.9 482.6 607.4 482.7 609.9 482.9 612.4 483.1 614.9 483.2 617.4 483.4 619.9 483.6 622.4 483.8 624.8 483.9 627.3 484.1 629.8 484.3 632.3 484.5 634.8 484.7 637.3 484.8 639.8 485 642.3 485.2 644.8 485.4 647.3 485.6 649.8 485.7 652.3 485.9 654.8 486.1 657.3 486.3 659.8 486.5 662.2 486.7 664.7 486.9 667.2 487 669.7 487.2 672.2 487.4 674.7 487.6 677.2 487.8 679.7 488 682.2 488.2 684.7 488.4 687.2 488.6 689.7 488.8 692.1 489 694.6 489.2 697.1 489.4 699.6 489.6 702.1 489.8 704.6 490 707.1 490.2 709.6 490.4 712.1 490.6 714.6 490.8 717.1 491.1 719.6 491.3 722 491.5 724.5 491.7 727 491.9 729.5 492.1 732 492.4 734.5 492.6 737 492.8 739.5 493 742 493.2 744.5 493.5 747 493.7 749.4 493.9 751.9 494.2 754.4 494.4 756.9 494.6 759.4 494.8 761.9 495.1 764.4 495.3 766.9 495.6 769.4 495.8 771.9 496 774.3 496.3 776.8 496.5 779.3 496.8 781.8 497 784.3 497.2 786.8 497.5 789.3 497.8 791.8 498 794.2 498.3 796.7 498.5 799.2 498.8 801.7 499 804.2 499.3 806.7 499.5 809.2 499.8 811.6 500.1 814.1 500.3 816.6 500.6 819.1 500.9 821.6 501.2 824.1 501.4 826.6 501.7 829 502 831.5 502.3 834 502.5 836.5 502.8 839 503.1 841.5 503.4 843.9 503.7 846.4 504 848.9 504.3 851.4 504.6 853.9 505 856.4 505.3 858.8 505.6 861.3 505.9 863.8 506.3 866.3 506.6 868.7 507 871.2 507.3 873.7 507.7 876.1 508 878.6 508.4 881.1 508.8 883.6 509.2 886 509.6 888.5 510 891 510.4 893.4 510.8 895.9 511.2 898.4 511.7 900.8 512.1 903.3 512.5 905.7 513 908.2 513.5 910.6 513.9 913.1 514.4 915.6 514.9 918 515.4 920.5 515.9 922.9 516.4 925.4 516.9 927.8 517.4 930.2 518 932.7 518.5 935.1 519.1 937.6 519.6 940 520.2 942.4 520.8 944.9 521.3 947.3 521.9 949.7 522.5 952.2 523.1 954.6 523.7 957 524.4 959.4 525 961.9 525.6 964.3 526.2 966.7 526.9 969.1 527.5 971.5 528.2 973.9 528.9 976.3 529.5 978.7 530.2 981.1 530.9 983.5 531.6 985.9 532.3 988.3 533.1 990.7 533.8 993.1 534.6 995.5 535.4 997.8 536.1 1000.2 536.9 1002.6 537.7 1004.9 538.6 1007.3 539.4 1009.6 540.3 1012 541.1 1014.3 542 1016.7 542.9 1019 543.8 1021.3 544.8 1023.6 545.7 1026 546.7 1028.3 547.7 1030.6 548.7 1032.8 549.8 1035.1 550.9 1037.3 552.1 1039.5 553.5 1041.5 555 1043.5 556.6 1045.4 558.3 1047.2 560 1049.1 561.8 1050.9 563.5 1052.8 565.4 1054.6 567.2 1056.3 569.2 1057.8 571.2 1059.2 573.3 1060.4 575.5 1061.3 577.8 1062 580.2 1062.6 582.8 1063.1 585.3 1063.4 587.9 1063.5 582.3 1063.5 579.7 1063.4 577.2 1063.1 574.7 1062.6 572.2 1062 569.9 1061.3 567.7 1060.4 565.6 1059.2 563.6 1057.8 561.6 1056.3 559.8 1054.6 558 1052.8 556.2 1050.9 554.4 1049.1 552.7 1047.2 551 1045.4 549.4 1043.5 547.9 1041.5 546.5 1039.5 545.3 1037.3 544.1 1035.1 543 1032.8 541.9 1030.6 540.9 1028.3 539.9 1026 538.9 1023.6 538 1021.3 537 1019 536.1 1016.7 535.2 1014.3 534.3 1012 533.4 1009.6 532.6 1007.3 531.7 1004.9 530.9 1002.6 530.1 1000.2 529.3 997.8 528.5 995.5 527.8 993.1 527 990.7 526.3 988.3 525.5 985.9 524.8 983.5 524.1 981.1 523.4 978.7 522.7 976.3 522 973.9 521.4 971.5 520.7 969.1 520 966.7 519.4 964.3 518.8 961.9 518.1 959.4 517.5 957 516.9 954.6 516.3 952.2 515.7 949.7 515.1 947.3 514.5 944.9 513.9 942.4 513.3 940 512.8 937.6 512.2 935.1 511.7 932.7 511.1 930.2 510.6 927.8 510.1 925.4 509.6 922.9 509 920.5 508.5 918 508 915.6 507.6 913.1 507.1 910.6 506.6 908.2 506.1 905.7 505.7 903.3 505.2 900.8 504.8 898.4 504.4 895.9 503.9 893.4 503.5 891 503.1 888.5 502.7 886 502.3 883.6 501.9 881.1 501.6 878.6 501.2 876.1 500.8 873.7 500.5 871.2 500.1 868.7 499.8 866.3 499.4 863.8 499.1 861.3 498.8 858.8 498.4 856.4 498.1 853.9 497.8 851.4 497.5 848.9 497.2 846.4 496.9 843.9 496.6 841.5 496.3 839 496 836.5 495.7 834 495.4 831.5 495.1 829 494.8 826.6 494.6 824.1 494.3 821.6 494 819.1 493.8 816.6 493.5 814.1 493.2 811.6 493 809.2 492.7 806.7 492.4 804.2 492.2 801.7 491.9 799.2 491.7 796.7 491.4 794.2 491.1 791.8 490.9 789.3 490.6 786.8 490.4 784.3 490.2 781.8 489.9 779.3 489.7 776.8 489.4 774.3 489.2 771.9 488.9 769.4 488.7 766.9 488.5 764.4 488.2 761.9 488 759.4 487.8 756.9 487.6 754.4 487.3 751.9 487.1 749.4 486.9 747 486.6 744.5 486.4 742 486.2 739.5 486 737 485.8 734.5 485.5 732 485.3 729.5 485.1 727 484.9 724.5 484.7 722 484.5 719.6 484.2 717.1 484 714.6 483.8 712.1 483.6 709.6 483.4 707.1 483.2 704.6 483 702.1 482.8 699.6 482.6 697.1 482.4 694.6 482.2 692.1 482 689.7 481.8 687.2 481.6 684.7 481.4 682.2 481.2 679.7 481 677.2 480.8 674.7 480.6 672.2 480.4 669.7 480.2 667.2 480.1 664.7 479.9 662.2 479.7 659.8 479.5 657.3 479.3 654.8 479.1 652.3 478.9 649.8 478.8 647.3 478.6 644.8 478.4 642.3 478.2 639.8 478.1 637.3 477.9 634.8 477.7 632.3 477.5 629.8 477.3 627.3 477.2 624.8 477 622.4 476.8 619.9 476.6 617.4 476.5 614.9 476.3 612.4 476.1 609.9 476 607.4 475.8 604.9 475.6 602.4 475.5 599.9 475.3 597.4 475.1 594.9 475 592.4 474.8 589.9 474.6 587.4 474.5 584.9 474.3 582.4 474.2 580 474 577.5 473.8 575 473.7 572.5 473.5 570 473.4 567.5 473.2 565 473.1 562.5 472.9 560 472.8 557.5 472.6 555 472.5 552.5 472.3 550 472.2 547.5 472 545 471.9 542.5 471.7 540 471.6 537.5 471.4 535 471.3 532.5 471.1 530 471 527.5 470.8 525 470.7 522.6 470.6 520.1 470.4 517.6 470.3 515.1 470.1 512.6 470 510.1 469.9 507.6 469.7 505.1 469.6 502.6 469.4 500.1 469.3 497.6 469.2 495.1 469 492.6 468.9 490.1 468.8 487.6 468.6 485.1 468.5 482.6 468.4 480.1 468.2 477.6 468.1 475.1 468 472.6 467.8 470.1 467.7 467.6 467.6 465.1 467.5 462.6 467.3 460.1 467.2 457.6 467.1 455.1 466.9 452.7 466.8 450.2 466.7 447.7 466.6 445.2 466.4 442.7 466.3 440.2 466.2 437.7 466.1 435.2 466 432.7 465.8 430.2 465.7 427.7 465.6 425.2 465.5 422.7 465.3 420.2 465.2 417.7 465.1 415.2 465 412.7 464.9 410.2 464.8 407.7 464.6 405.2 464.5 402.7 464.4 400.2 464.3 397.7 464.2 395.2 464.1 392.7 463.9 390.2 463.8 387.7 463.7 385.2 463.6 382.7 463.5 380.2 463.4 377.7 463.3 375.2 463.2 372.7 463.1 370.2 462.9 367.8 462.8 365.2 462.7 362.8 462.6 360.2 462.5 357.8 462.4 355.3 462.3 352.8 462.2 350.3 462.1 347.8 461.9 345.3 461.8 342.8 461.7 340.3 461.6 337.8 461.5 335.3 461.4 332.8 461.3 330.3 461.2 327.8 461.1 325.3 461 322.8 460.9 320.3 460.8 317.8 460.7 315.3 460.6 312.8 460.5 310.3 460.4 307.8 460.3 305.3 460.2 302.8 460.1 300.3 459.9 297.8 459.8 295.3 459.8 292.8 459.6 290.3 459.5 287.8 459.4 285.3 459.3 282.8 459.2 280.3 459.1 277.8 459 275.3 458.9 272.8 458.8 270.3 458.7 267.8 458.6 265.3 458.5 262.8 458.4 260.3 458.3 257.8 458.2 255.3 458.1 252.8 458 250.3 457.9 247.8 457.8 245.3 457.7 242.8 457.6 240.3 457.5 237.8 457.4 235.3 457.3 232.8 457.2 230.4 457.1 227.9 457.1 225.4 456.9 222.9 456.8 220.4 456.8 217.9 456.6 215.4 456.6 212.9 456.5 210.4 456.4 207.9 456.3 205.4 456.2 202.9 456.1 200.4 456 197.9 455.9 195.4 455.8 192.9 455.7 190.4 455.6 187.9 455.5 185.4 455.4 182.9 455.3 180.4 455.2 177.9 455.1 175.4 455 172.9 454.9 170.4 454.8 167.9 454.7 165.4 454.6 162.9 454.5 160.4 454.4 157.9 454.3 155.4 454.2 152.9 454.1 150.4 454 147.9 453.9 145.4 453.8 142.9 453.7 140.4 453.6 137.9 453.5 135.4 453.4 132.9 453.3 130.4 453.2 127.9 453.1 125.4 453 122.9 452.9 120.4 452.8 117.9 452.7 115.5 452.6 113 452.5 110.5 452.4 108 452.3 105.5 452.2 103 452.1 100.5 452 98 451.9 95.5 451.8 93 451.7 90.5 451.6 88 451.5 85.5 451.4 83 451.3 80.5 451.2 78 451.1 75.5 451 73 450.9 70.5 450.8 68 450.7 65.5 450.6 63 450.5 60.5 450.4 58ZM582.3 1063.5 584.9 1063.5 587.5 1063.3 590 1062.8 592.4 1062.2 594.7 1061.3 596.8 1060.2 598.8 1058.9 600.8 1057.4 602.6 1055.8 604.4 1054.1 606.1 1052.3 607.8 1050.4 609.6 1048.6 611.3 1046.7 613 1044.8 614.7 1043 616.3 1041 617.9 1039.1 619.4 1037.1 620.9 1035.1 622.3 1033 623.7 1031 625 1028.8 626.3 1026.7 627.6 1024.6 628.8 1022.4 630 1020.2 631.1 1018 632.2 1015.8 633.3 1013.6 634.3 1011.3 635.3 1009 636.3 1006.8 637.3 1004.5 638.3 1002.2 639.3 999.9 640.2 997.5 641.2 995.2 642.2 992.9 643.1 990.6 644.1 988.3 645 986 646 983.6 646.9 981.3 647.9 979 648.9 976.7 649.9 974.4 650.9 972.1 651.9 969.8 652.9 967.5 653.9 965.2 654.8 962.9 655.8 960.6 656.8 958.3 657.7 956 658.6 953.7 659.5 951.4 660.4 949.1 661.2 946.8 662.1 944.4 662.9 942 663.6 939.7 664.4 937.3 665.2 935 665.9 932.6 666.7 930.2 667.4 927.8 668.2 925.4 668.9 923.1 669.7 920.7 670.4 918.3 671.2 915.9 671.9 913.5 672.7 911.1 673.4 908.8 674.2 906.4 674.9 904 675.7 901.6 676.4 899.2 677.1 896.8 677.9 894.4 678.6 892 679.3 889.6 680.1 887.2 680.8 884.8 681.5 882.4 682.2 880 682.9 877.6 683.6 875.2 684.3 872.8 685 870.4 685.6 868 686.3 865.6 687 863.2 687.6 860.8 688.3 858.4 688.9 856 689.5 853.6 690.1 851.2 690.8 848.7 691.4 846.3 691.9 843.9 692.5 841.5 693.1 839 693.7 836.6 694.3 834.2 694.9 831.7 695.4 829.3 696 826.9 696.6 824.4 697.1 822 697.7 819.6 698.3 817.1 698.9 814.7 699.4 812.3 700 809.8 700.6 807.4 701.2 805 701.8 802.5 702.4 800.1 703 797.7 703.7 795.3 704.3 792.9 704.9 790.4 705.6 788 706.3 785.6 707 783.2 707.7 780.8 708.4 778.4 709.2 776.1 710 773.7 710.8 771.3 711.7 769 712.6 766.6 713.5 764.3 714.5 762 715.6 759.7 716.7 757.5 717.8 755.2 719.1 753 720.3 750.8 721.6 748.6 723 746.5 724.5 744.3 726 742.3 727.7 740.4 729.5 738.8 731.4 737.5 733.6 736.8 735.9 736.6 741.5 736.6 739.2 736.8 737 737.5 735.1 738.8 733.3 740.4 731.6 742.3 730.1 744.3 728.6 746.5 727.2 748.6 725.9 750.8 724.6 753 723.5 755.2 722.4 757.5 721.3 759.7 720.3 762 719.4 764.3 718.5 766.6 717.6 769 716.8 771.3 716 773.7 715.2 776.1 714.5 778.4 713.8 780.8 713.1 783.2 712.4 785.6 711.8 788 711.1 790.4 710.5 792.9 709.9 795.3 709.3 797.7 708.7 800.1 708.1 802.5 707.5 805 706.9 807.4 706.3 809.8 705.7 812.3 705.1 814.7 704.6 817.1 704 819.6 703.4 822 702.8 824.4 702.3 826.9 701.7 829.3 701.1 831.7 700.6 834.2 700 836.6 699.4 839 698.8 841.5 698.2 843.9 697.6 846.3 697 848.7 696.4 851.2 695.7 853.6 695.1 856 694.5 858.4 693.8 860.8 693.1 863.2 692.5 865.6 691.8 868 691.1 870.4 690.4 872.8 689.7 875.2 689 877.6 688.3 880 687.6 882.4 686.9 884.8 686.2 887.2 685.4 889.6 684.7 892 684 894.4 683.2 896.8 682.5 899.2 681.8 901.6 681 904 680.3 906.4 679.5 908.8 678.8 911.1 678 913.5 677.2 915.9 676.5 918.3 675.8 920.7 675 923.1 674.3 925.4 673.5 927.8 672.8 930.2 672 932.6 671.2 935 670.5 937.3 669.7 939.7 668.9 942 668 944.4 667.2 946.8 666.3 949.1 665.4 951.4 664.5 953.7 663.6 956 662.6 958.3 661.6 960.6 660.7 962.9 659.7 965.2 658.7 967.5 657.7 969.8 656.7 972.1 655.7 974.4 654.7 976.7 653.8 979 652.8 981.3 651.8 983.6 650.9 986 649.9 988.3 649 990.6 648 992.9 647.1 995.2 646.1 997.5 645.1 999.9 644.1 1002.2 643.1 1004.5 642.1 1006.8 641.1 1009 640 1011.3 639 1013.6 637.9 1015.8 636.7 1018 635.6 1020.2 634.4 1022.4 633.2 1024.6 631.9 1026.7 630.6 1028.8 629.3 1031 627.9 1033 626.5 1035.1 625 1037.1 623.5 1039.1 621.9 1041 620.3 1043 618.6 1044.8 616.9 1046.7 615.1 1048.6 613.4 1050.4 611.7 1052.3 609.9 1054.1 608.2 1055.8 606.3 1057.4 604.4 1058.9 602.4 1060.2 600.3 1061.3 598 1062.2 595.6 1062.8 593.1 1063.3 590.5 1063.5 587.9 1063.5ZM741.5 736.6 744 737 746.5 737.9 748.9 739.1 751.2 740.4 753.2 742 755.1 743.6 756.8 745.4 758.4 747.3 759.8 749.3 761.1 751.4 762.3 753.6 763.5 755.8 764.6 758.1 765.7 760.4 766.7 762.7 767.7 765 768.7 767.4 769.6 769.7 770.6 772 771.5 774.3 772.4 776.7 773.3 779 774.2 781.4 775.1 783.7 776 786 776.8 788.4 777.6 790.7 778.5 793.1 779.3 795.4 780.1 797.8 780.9 800.2 781.7 802.5 782.4 804.9 783.2 807.3 784 809.7 784.7 812 785.4 814.4 786.1 816.8 786.8 819.2 787.5 821.6 788.2 824 788.9 826.4 789.6 828.8 790.3 831.2 791 833.6 791.7 836 792.3 838.5 793 840.9 793.7 843.3 794.4 845.7 795.1 848.1 795.8 850.5 796.5 852.9 797.2 855.3 797.9 857.7 798.7 860 799.4 862.4 800.2 864.8 800.9 867.2 801.7 869.6 802.5 871.9 803.3 874.3 804.1 876.7 804.9 879 805.7 881.4 806.5 883.8 807.3 886.1 808.1 888.5 808.9 890.9 809.7 893.2 810.5 895.6 811.4 897.9 812.2 900.3 813 902.6 813.8 905 814.6 907.4 815.4 909.7 816.2 912.1 817 914.5 817.8 916.8 818.6 919.2 819.4 921.6 820.2 924 821 926.3 821.8 928.7 822.5 931.1 823.3 933.5 824.1 935.9 824.8 938.2 825.6 940.6 826.3 943 827.1 945.4 827.8 947.8 828.5 950.2 829.3 952.6 830 955 830.7 957.4 831.4 959.8 832.1 962.1 832.8 964.5 833.5 967 834.2 969.4 834.9 971.8 835.6 974.2 836.2 976.6 836.9 979 837.5 981.4 838.2 983.8 838.8 986.2 839.5 988.6 840.1 991 840.7 993.5 841.4 995.9 842 998.3 842.6 1000.7 843.2 1003.1 843.8 1005.6 844.5 1008 845.1 1010.4 845.7 1012.8 846.3 1015.2 847 1017.7 847.6 1020.1 848.2 1022.5 848.9 1024.9 849.5 1027.3 850.1 1029.8 850.8 1032.2 851.5 1034.6 852.1 1037 852.8 1039.4 853.5 1041.8 854.2 1044.2 854.9 1046.6 855.6 1049 856.3 1051.4 857 1053.8 857.8 1056.2 858.5 1058.6 859.3 1060.9 860 1063.3 860.8 1065.7 861.6 1068.1 862.4 1070.4 863.2 1072.8 864 1075.2 864.9 1077.5 865.7 1079.9 866.6 1082.2 867.4 1084.5 868.3 1086.9 869.2 1089.2 870.1 1091.5 871 1093.8 872 1096.2 872.9 1098.5 873.8 1100.8 874.8 1103.1 875.7 1105.4 876.7 1107.7 877.7 1110 878.6 1112.3 879.6 1114.6 880.6 1116.9 881.6 1119.3 882.5 1121.6 883.5 1123.9 884.5 1126.2 885.6 1128.4 886.7 1130.7 887.8 1132.9 888.9 1135.1 890.2 1137.3 891.5 1139.4 892.8 1141.5 894.2 1143.5 895.7 1145.5 897.2 1147.5 898.7 1149.5 900.3 1151.4 901.9 1153.3 903.6 1155.2 905.2 1157.1 906.9 1159 908.6 1160.8 910.3 1162.7 912.1 1164.5 913.8 1166.3 915.6 1168.1 917.4 1169.9 919.2 1171.5 921.2 1173.1 923.1 1174.7 925.1 1176.1 927.2 1177.4 929.3 1178.7 931.5 1179.9 933.6 1181.1 935.9 1182.2 938.1 1183.2 940.4 1184.2 942.8 1185.2 945.1 1186.1 947.5 1187 949.9 1187.8 952.3 1188.5 954.7 1189.2 957.1 1189.9 959.5 1190.5 962 1191 964.4 1191.5 966.9 1191.9 969.3 1192.3 971.8 1192.7 974.2 1192.9 976.7 1193.2 979.2 1193.4 981.7 1193.5 984.2 1193.6 986.7 1193.7 989.2 1193.7 983.6 1193.7 981.1 1193.7 978.6 1193.6 976.1 1193.5 973.6 1193.4 971.1 1193.2 968.7 1192.9 966.2 1192.7 963.7 1192.3 961.3 1191.9 958.8 1191.5 956.4 1191 953.9 1190.5 951.5 1189.9 949.1 1189.2 946.7 1188.5 944.3 1187.8 941.9 1187 939.5 1186.1 937.2 1185.2 934.9 1184.2 932.6 1183.2 930.3 1182.2 928.1 1181.1 925.9 1179.9 923.7 1178.7 921.6 1177.4 919.5 1176.1 917.5 1174.7 915.6 1173.1 913.7 1171.5 911.8 1169.9 910 1168.1 908.2 1166.3 906.5 1164.5 904.7 1162.7 903 1160.8 901.3 1159 899.6 1157.1 898 1155.2 896.3 1153.3 894.7 1151.4 893.1 1149.5 891.6 1147.5 890.1 1145.5 888.6 1143.5 887.2 1141.5 885.9 1139.4 884.6 1137.3 883.3 1135.1 882.1 1132.9 881 1130.7 879.9 1128.4 878.8 1126.2 877.7 1123.9 876.7 1121.6 875.7 1119.3 874.7 1116.9 873.8 1114.6 872.8 1112.3 871.8 1110 870.8 1107.7 869.9 1105.4 868.9 1103.1 868 1100.8 867 1098.5 866.1 1096.2 865.1 1093.8 864.2 1091.5 863.3 1089.2 862.4 1086.9 861.5 1084.5 860.6 1082.2 859.8 1079.9 858.9 1077.5 858 1075.2 857.2 1072.8 856.4 1070.4 855.6 1068.1 854.8 1065.7 854 1063.3 853.2 1060.9 852.4 1058.6 851.7 1056.2 850.9 1053.8 850.2 1051.4 849.5 1049 848.7 1046.6 848 1044.2 847.3 1041.8 846.6 1039.4 846 1037 845.3 1034.6 844.6 1032.2 844 1029.8 843.3 1027.3 842.7 1024.9 842 1022.5 841.4 1020.1 840.7 1017.7 840.1 1015.2 839.5 1012.8 838.9 1010.4 838.3 1008 837.6 1005.6 837 1003.1 836.4 1000.7 835.8 998.3 835.1 995.9 834.5 993.5 833.9 991 833.3 988.6 832.6 986.2 832 983.8 831.3 981.4 830.7 979 830 976.6 829.4 974.2 828.7 971.8 828 969.4 827.4 967 826.7 964.5 826 962.1 825.3 959.8 824.6 957.4 823.9 955 823.2 952.6 822.4 950.2 821.7 947.8 821 945.4 820.2 943 819.5 940.6 818.8 938.2 818 935.9 817.2 933.5 816.5 931.1 815.7 928.7 814.9 926.3 814.2 924 813.4 921.6 812.6 919.2 811.8 916.8 811 914.5 810.2 912.1 809.4 909.7 808.6 907.4 807.8 905 807 902.6 806.2 900.3 805.3 897.9 804.5 895.6 803.7 893.2 802.9 890.9 802.1 888.5 801.3 886.1 800.5 883.8 799.7 881.4 798.8 879 798 876.7 797.2 874.3 796.4 871.9 795.7 869.6 794.9 867.2 794.1 864.8 793.4 862.4 792.6 860 791.9 857.7 791.1 855.3 790.4 852.9 789.7 850.5 789 848.1 788.3 845.7 787.6 843.3 786.9 840.9 786.2 838.5 785.5 836 784.8 833.6 784.1 831.2 783.5 828.8 782.8 826.4 782.1 824 781.4 821.6 780.7 819.2 780 816.8 779.3 814.4 778.6 812 777.9 809.7 777.1 807.3 776.4 804.9 775.6 802.5 774.8 800.2 774.1 797.8 773.3 795.4 772.5 793.1 771.7 790.7 770.8 788.4 770 786 769.1 783.7 768.3 781.4 767.4 779 766.5 776.7 765.6 774.3 764.7 772 763.7 769.7 762.8 767.4 761.8 765 760.9 762.7 759.9 760.4 758.9 758.1 757.8 755.8 756.7 753.6 755.5 751.4 754.2 749.3 752.8 747.3 751.2 745.4 749.5 743.6 747.6 742 745.6 740.4 743.4 739.1 740.9 737.9 738.4 737 735.9 736.6ZM1145.9 1189 1148.4 1189 1150.9 1188.8 1153.4 1188.4 1155.9 1187.9 1158.3 1187.2 1160.7 1186.3 1163 1185.3 1165.1 1184.1 1167.2 1182.8 1169.3 1181.3 1171.2 1179.7 1173 1178 1174.8 1176.2 1176.5 1174.4 1178.1 1172.4 1179.6 1170.4 1181.1 1168.3 1182.5 1166.2 1183.8 1164.1 1185 1161.9 1186.2 1159.7 1187.3 1157.5 1188.4 1155.3 1189.4 1153 1190.4 1150.8 1191.4 1148.5 1192.3 1146.2 1193.3 1143.9 1194.2 1141.6 1195.1 1139.3 1196.1 1137 1197 1134.7 1198 1132.4 1199 1130.1 1200 1127.8 1201 1125.4 1202.1 1123.1 1203.1 1120.8 1204.1 1118.5 1205.1 1116.2 1206.1 1113.8 1207.1 1111.5 1208.1 1109.2 1209.1 1106.9 1210.1 1104.6 1211 1102.3 1212 1100 1212.9 1097.7 1213.9 1095.5 1214.8 1093.2 1215.8 1090.9 1216.7 1088.6 1217.6 1086.3 1218.6 1084 1219.5 1081.8 1220.5 1079.5 1221.4 1077.2 1222.4 1074.9 1223.3 1072.6 1224.3 1070.4 1225.3 1068.1 1226.3 1065.8 1227.3 1063.5 1228.3 1061.2 1229.3 1058.9 1230.4 1056.7 1231.5 1054.4 1232.5 1052.1 1233.6 1049.8 1234.8 1047.5 1235.9 1045.2 1237.1 1042.8 1238.3 1040.5 1239.5 1038.2 1240.8 1036 1242.2 1033.8 1243.6 1031.8 1245.3 1030 1247.1 1028.5 1249 1027.2 1251.3 1026.3 1253.7 1025.8 1259.3 1025.8 1256.9 1026.3 1254.6 1027.2 1252.7 1028.5 1250.9 1030 1249.2 1031.8 1247.8 1033.8 1246.4 1036 1245.1 1038.2 1243.9 1040.5 1242.7 1042.8 1241.6 1045.2 1240.5 1047.5 1239.3 1049.8 1238.3 1052.1 1237.2 1054.4 1236.1 1056.7 1235.1 1058.9 1234.1 1061.2 1233.1 1063.5 1232.1 1065.8 1231.1 1068.1 1230.1 1070.4 1229.2 1072.6 1228.2 1074.9 1227.3 1077.2 1226.3 1079.5 1225.4 1081.8 1224.4 1084 1223.5 1086.3 1222.6 1088.6 1221.6 1090.9 1220.7 1093.2 1219.7 1095.5 1218.8 1097.7 1217.8 1100 1216.9 1102.3 1215.9 1104.6 1214.9 1106.9 1213.9 1109.2 1212.9 1111.5 1211.9 1113.8 1210.9 1116.2 1209.9 1118.5 1208.9 1120.8 1207.9 1123.1 1206.9 1125.4 1205.8 1127.8 1204.8 1130.1 1203.9 1132.4 1202.9 1134.7 1201.9 1137 1201 1139.3 1200.1 1141.6 1199.1 1143.9 1198.2 1146.2 1197.2 1148.5 1196.2 1150.8 1195.2 1153 1194.1 1155.3 1193 1157.5 1191.8 1159.7 1190.6 1161.9 1189.4 1164.1 1188.1 1166.2 1186.7 1168.3 1185.2 1170.4 1183.7 1172.4 1182.1 1174.4 1180.4 1176.2 1178.6 1178 1176.8 1179.7 1174.9 1181.3 1172.8 1182.8 1170.7 1184.1 1168.5 1185.3 1166.3 1186.3 1163.9 1187.2 1161.5 1187.9 1159 1188.4 1156.5 1188.8 1154 1189 1151.5 1189ZM1259.3 1025.8 1261.7 1025.9 1264 1026.6 1266 1027.9 1267.8 1029.7 1269.4 1031.5 1270.9 1033.6 1272.2 1035.7 1273.4 1037.9 1274.6 1040.1 1275.7 1042.4 1276.7 1044.8 1277.6 1047.2 1278.5 1049.6 1279.4 1052 1280.2 1054.3 1281.1 1056.7 1281.9 1059.1 1282.8 1061.5 1283.6 1063.8 1284.4 1066.2 1285.2 1068.5 1286 1070.8 1286.8 1073.2 1287.6 1075.5 1288.4 1077.9 1289.2 1080.3 1289.9 1082.6 1290.7 1085 1291.4 1087.4 1292.1 1089.8 1292.8 1092.2 1293.5 1094.6 1294.2 1097 1294.9 1099.4 1295.6 1101.8 1296.3 1104.2 1297 1106.6 1297.6 1109.1 1298.3 1111.5 1299 1113.9 1299.7 1116.3 1300.4 1118.7 1301.1 1121.1 1301.9 1123.5 1302.6 1125.9 1303.4 1128.3 1304.1 1130.6 1304.9 1133 1305.7 1135.3 1306.5 1137.7 1307.4 1140 1308.3 1142.3 1309.2 1144.7 1310.1 1147 1311.1 1149.2 1312.1 1151.5 1313.2 1153.8 1314.3 1156 1315.4 1158.2 1316.6 1160.4 1317.9 1162.6 1319.2 1164.7 1320.6 1166.8 1322 1168.9 1323.5 1170.9 1325 1172.9 1326.6 1174.9 1328.3 1176.7 1330 1178.5 1331.9 1180.1 1334 1181.5 1336.2 1182.6 1338.6 1183.5 1341 1184 1343.5 1184.2 1337.9 1184.2 1335.4 1184 1333 1183.5 1330.6 1182.6 1328.4 1181.5 1326.3 1180.1 1324.4 1178.5 1322.7 1176.7 1321 1174.9 1319.4 1172.9 1317.9 1170.9 1316.4 1168.9 1315 1166.8 1313.6 1164.7 1312.3 1162.6 1311 1160.4 1309.8 1158.2 1308.6 1156 1307.5 1153.8 1306.4 1151.5 1305.3 1149.2 1304.3 1147 1303.3 1144.7 1302.4 1142.3 1301.5 1140 1300.6 1137.7 1299.7 1135.3 1298.9 1133 1298.1 1130.6 1297.3 1128.3 1296.5 1125.9 1295.8 1123.5 1295 1121.1 1294.3 1118.7 1293.6 1116.3 1292.9 1113.9 1292.2 1111.5 1291.5 1109.1 1290.8 1106.6 1290.1 1104.2 1289.4 1101.8 1288.8 1099.4 1288.1 1097 1287.4 1094.6 1286.7 1092.2 1286 1089.8 1285.3 1087.4 1284.6 1085 1283.8 1082.6 1283.1 1080.3 1282.3 1077.9 1281.6 1075.5 1280.8 1073.2 1280 1070.8 1279.2 1068.5 1278.4 1066.2 1277.6 1063.8 1276.8 1061.5 1276 1059.1 1275.1 1056.7 1274.3 1054.3 1273.4 1052 1272.6 1049.6 1271.7 1047.2 1270.8 1044.8 1269.9 1042.4 1268.9 1040.1 1267.8 1037.9 1266.6 1035.7 1265.3 1033.6 1263.8 1031.5 1262.2 1029.7 1260.4 1027.9 1258.4 1026.6 1256.1 1025.9 1253.7 1025.8ZM1337.9 1184.2 1340.4 1184.1 1342.9 1183.6 1345.3 1182.8 1347.6 1181.9 1349.8 1180.7 1351.9 1179.3 1353.8 1177.8 1355.7 1176.1 1357.5 1174.3 1359.2 1172.5 1360.8 1170.5 1362.4 1168.5 1363.9 1166.5 1365.3 1164.5 1366.7 1162.4 1368 1160.3 1369.3 1158.2 1370.6 1156.1 1371.8 1153.9 1373 1151.8 1374.2 1149.6 1375.3 1147.4 1376.4 1145.1 1377.5 1142.9 1378.6 1140.6 1379.8 1138.3 1380.9 1136 1382.2 1133.7 1383.5 1131.6 1385 1129.6 1386.7 1127.8 1388.7 1126.3 1390.9 1125.1 1393.2 1124.5 1395.7 1124.4 1401.2 1124.4 1398.8 1124.5 1396.5 1125.1 1394.3 1126.3 1392.3 1127.8 1390.6 1129.6 1389.1 1131.6 1387.8 1133.7 1386.5 1136 1385.4 1138.3 1384.3 1140.6 1383.2 1142.9 1382.1 1145.1 1380.9 1147.4 1379.8 1149.6 1378.6 1151.8 1377.4 1153.9 1376.2 1156.1 1374.9 1158.2 1373.6 1160.3 1372.3 1162.4 1370.9 1164.5 1369.5 1166.5 1368 1168.5 1366.4 1170.5 1364.8 1172.5 1363.1 1174.3 1361.3 1176.1 1359.4 1177.8 1357.5 1179.3 1355.4 1180.7 1353.2 1181.9 1350.9 1182.8 1348.5 1183.6 1346 1184.1 1343.5 1184.2ZM1401.2 1124.4 1403.7 1124.9 1406 1125.9 1408.1 1127.3 1409.9 1129 1411.5 1131 1412.8 1133.2 1414 1135.4 1415.1 1137.8 1416.2 1140.1 1417.2 1142.4 1418.2 1144.7 1419.2 1147 1420.2 1149.3 1421.1 1151.6 1422.1 1153.9 1423 1156.2 1423.9 1158.5 1424.8 1160.8 1425.7 1163.1 1426.7 1165.4 1427.6 1167.7 1428.5 1170 1429.5 1172.3 1430.5 1174.6 1431.4 1176.8 1432.4 1179.1 1433.5 1181.4 1434.5 1183.7 1435.6 1186 1436.8 1188.2 1438 1190.5 1439.2 1192.7 1440.5 1194.9 1441.9 1197 1443.3 1199.1 1444.8 1201.1 1446.3 1203.1 1448 1205 1449.7 1206.7 1451.5 1208.4 1453.4 1210 1455.3 1211.5 1457.4 1212.9 1459.6 1214.1 1461.8 1215.2 1464.2 1216.1 1466.6 1216.9 1469 1217.5 1471.4 1217.9 1473.9 1218.1 1476.3 1218.1 1470.7 1218.1 1468.3 1218.1 1465.8 1217.9 1463.4 1217.5 1461 1216.9 1458.6 1216.1 1456.2 1215.2 1454 1214.1 1451.8 1212.9 1449.7 1211.5 1447.8 1210 1445.9 1208.4 1444.1 1206.7 1442.4 1205 1440.7 1203.1 1439.2 1201.1 1437.7 1199.1 1436.3 1197 1434.9 1194.9 1433.6 1192.7 1432.4 1190.5 1431.2 1188.2 1430 1186 1428.9 1183.7 1427.8 1181.4 1426.7 1179.1 1425.7 1176.8 1424.6 1174.6 1423.7 1172.3 1422.7 1170 1421.7 1167.7 1420.8 1165.4 1419.9 1163.1 1419 1160.8 1418 1158.5 1417.1 1156.2 1416.2 1153.9 1415.3 1151.6 1414.3 1149.3 1413.4 1147 1412.4 1144.7 1411.4 1142.4 1410.4 1140.1 1409.4 1137.8 1408.3 1135.4 1407.2 1133.2 1405.9 1131 1404.3 1129 1402.5 1127.3 1400.4 1125.9 1398.1 1124.9 1395.7 1124.4Z" fill="#00f"/>
<path d="M542.8 55.9 542.9 58.4 543 60.9 543 63.4 543.1 65.9 543.2 68.4 543.3 70.9 543.4 73.4 543.5 75.9 543.6 78.4 543.7 80.9 543.8 83.4 543.9 85.9 544 88.4 544.1 90.9 544.2 93.4 544.3 95.9 544.4 98.4 544.5 100.9 544.6 103.4 544.7 105.9 544.8 108.4 544.9 110.9 545 113.4 545.1 115.9 545.2 118.4 545.3 120.9 545.4 123.4 545.5 125.9 545.6 128.3 545.7 130.8 545.8 133.3 545.9 135.8 546 138.3 546.1 140.8 546.2 143.3 546.3 145.8 546.4 148.3 546.5 150.8 546.6 153.3 546.7 155.8 546.8 158.3 546.9 160.8 547 163.3 547 165.8 547.1 168.3 547.2 170.8 547.4 173.3 547.5 175.8 547.5 178.3 547.6 180.8 547.8 183.3 547.9 185.8 548 188.3 548 190.8 548.1 193.3 548.2 195.8 548.4 198.3 548.5 200.8 548.5 203.3 548.6 205.8 548.8 208.3 548.9 210.8 549 213.3 549 215.8 549.2 218.3 549.3 220.8 549.4 223.3 549.5 225.8 549.6 228.3 549.7 230.8 549.8 233.3 549.9 235.8 550 238.3 550.1 240.8 550.2 243.2 550.3 245.8 550.4 248.2 550.5 250.8 550.6 253.2 550.7 255.7 550.8 258.2 550.9 260.7 551 263.2 551.1 265.7 551.2 268.2 551.3 270.7 551.4 273.2 551.5 275.7 551.6 278.2 551.7 280.7 551.8 283.2 551.9 285.7 552 288.2 552.1 290.7 552.3 293.2 552.4 295.7 552.5 298.2 552.6 300.7 552.7 303.2 552.8 305.7 552.9 308.2 553 310.7 553.1 313.2 553.2 315.7 553.3 318.2 553.4 320.7 553.5 323.2 553.6 325.7 553.8 328.2 553.9 330.7 554 333.2 554.1 335.7 554.2 338.2 554.3 340.7 554.4 343.2 554.5 345.7 554.6 348.2 554.7 350.7 554.9 353.2 555 355.6 555.1 358.1 555.2 360.6 555.3 363.1 555.4 365.6 555.5 368.1 555.6 370.6 555.7 373.1 555.9 375.6 556 378.1 556.1 380.6 556.2 383.1 556.3 385.6 556.4 388.1 556.5 390.6 556.6 393.1 556.8 395.6 556.9 398.1 557 400.6 557.1 403.1 557.2 405.6 557.3 408.1 557.4 410.6 557.6 413.1 557.7 415.6 557.8 418.1 557.9 420.6 558 423.1 558.1 425.6 558.2 428.1 558.4 430.6 558.5 433.1 558.6 435.6 558.7 438.1 558.8 440.6 559 443.1 559.1 445.6 559.2 448 559.3 450.5 559.4 453 559.5 455.5 559.7 458 559.8 460.5 559.9 463 560 465.5 560.2 468 560.3 470.5 560.4 473 560.5 475.5 560.6 478 560.8 480.5 560.9 483 561 485.5 561.1 488 561.3 490.5 561.4 493 561.5 495.5 561.6 498 561.8 500.5 561.9 503 562 505.5 562.1 508 562.2 510.5 562.4 513 562.5 515.5 562.6 518 562.8 520.5 562.9 523 563 525.5 563.1 528 563.3 530.4 563.4 532.9 563.5 535.4 563.6 537.9 563.8 540.4 563.9 542.9 564 545.4 564.2 547.9 564.3 550.4 564.4 552.9 564.6 555.4 564.7 557.9 564.8 560.4 565 562.9 565.1 565.4 565.2 567.9 565.4 570.4 565.5 572.9 565.6 575.4 565.8 577.9 565.9 580.4 566 582.9 566.2 585.4 566.3 587.9 566.4 590.4 566.6 592.9 566.7 595.4 566.8 597.9 567 600.4 567.1 602.9 567.2 605.3 567.4 607.8 567.5 610.3 567.7 612.8 567.8 615.3 567.9 617.8 568.1 620.3 568.2 622.8 568.4 625.3 568.5 627.8 568.6 630.3 568.8 632.8 568.9 635.3 569.1 637.8 569.2 640.3 569.4 642.8 569.5 645.3 569.6 647.8 569.8 650.3 569.9 652.8 570.1 655.3 570.2 657.8 570.4 660.3 570.5 662.8 570.6 665.2 570.8 667.7 570.9 670.2 571.1 672.7 571.2 675.2 571.4 677.7 571.5 680.2 571.7 682.7 571.8 685.2 572 687.7 572.1 690.2 572.3 692.7 572.4 695.2 572.6 697.7 572.7 700.2 572.9 702.7 573 705.2 573.2 707.7 573.4 710.2 573.5 712.7 573.6 715.2 573.8 717.6 574 720.1 574.1 722.6 574.3 725.1 574.4 727.6 574.6 730.1 574.7 732.6 574.9 735.1 575.1 737.6 575.2 740.1 575.4 742.6 575.5 745.1 575.7 747.6 575.9 750.1 576 752.6 576.2 755.1 576.3 757.6 576.5 760.1 576.6 762.6 576.8 765.1 577 767.5 577.1 770 577.3 772.5 577.5 775 577.6 777.5 577.8 780 578 782.5 578.1 785 578.3 787.5 578.5 790 578.6 792.5 578.8 795 579 797.5 579.1 800 579.3 802.5 579.5 805 579.6 807.5 579.8 810 580 812.5 580.1 814.9 580.3 817.4 580.5 819.9 580.7 822.4 580.8 824.9 581 827.4 581.2 829.9 581.4 832.4 581.5 834.9 581.7 837.4 581.9 839.9 582.1 842.4 582.2 844.9 582.4 847.4 582.6 849.9 582.8 852.4 583 854.9 583.1 857.4 583.3 859.9 583.5 862.3 583.7 864.8 583.9 867.3 584 869.8 584.2 872.3 584.4 874.8 584.6 877.3 584.8 879.8 585 882.3 585.1 884.8 585.3 887.3 585.5 889.8 585.7 892.3 585.9 894.8 586.1 897.2 586.3 899.7 586.5 902.2 586.6 904.7 586.8 907.2 587 909.7 587.2 912.2 587.4 914.7 587.6 917.2 587.8 919.7 588 922.2 588.2 924.7 588.4 927.2 588.6 929.6 588.8 932.1 589 934.6 589.2 937.1 589.4 939.6 589.6 942.1 589.8 944.6 590 947.1 590.2 949.6 590.4 952.1 590.6 954.6 590.9 957.1 591.1 959.5 591.3 962 591.5 964.5 591.7 967 591.9 969.5 592.1 972 592.4 974.5 592.6 977 592.8 979.5 593 982 593.3 984.4 593.5 986.9 593.7 989.4 594 991.9 594.2 994.4 594.4 996.9 594.6 999.4 594.9 1001.9 595.1 1004.4 595.4 1006.9 595.6 1009.3 595.8 1011.8 596.1 1014.3 596.3 1016.8 596.6 1019.3 596.8 1021.8 597.1 1024.2 597.3 1026.7 597.6 1029.2 597.8 1031.7 598.1 1034.2 598.3 1036.7 598.6 1039.2 598.9 1041.7 599.1 1044.1 599.4 1046.6 599.6 1049.1 599.9 1051.6 600.2 1054.1 600.5 1056.6 600.7 1059 601 1061.5 601.3 1064 601.6 1066.5 601.8 1069 602.1 1071.5 602.4 1073.9 602.7 1076.4 603 1078.9 603.3 1081.4 603.6 1083.9 603.9 1086.3 604.2 1088.8 604.5 1091.3 604.8 1093.8 605 1096.3 605.4 1098.8 605.6 1101.2 606 1103.7 606.2 1106.2 606.6 1108.7 606.9 1111.2 607.2 1113.7 607.5 1116.1 607.8 1118.6 608.1 1121.1 608.4 1123.6 608.7 1126.1 609 1128.6 609.3 1131.1 609.6 1133.6 609.9 1136 610.2 1138.5 610.5 1141 610.9 1143.5 611.2 1146 611.5 1148.5 611.9 1151 612.2 1153.4 612.6 1155.9 613 1158.4 613.4 1160.9 613.8 1163.3 614.2 1165.8 614.6 1168.2 615.1 1170.7 615.5 1173.1 616 1175.6 616.5 1178 617 1180.4 617.5 1182.9 618.1 1185.3 618.6 1187.7 619.2 1190.1 619.9 1192.5 620.5 1194.9 621.1 1197.3 621.8 1199.7 622.5 1202.1 623.1 1204.5 623.8 1206.9 624.5 1209.3 625.2 1211.7 625.9 1214.2 626.6 1216.6 627.4 1219.1 628.1 1221.6 628.8 1224 629.6 1226.5 630.4 1228.9 631.3 1231.3 632.3 1233.6 633.4 1235.8 634.7 1237.8 636.2 1239.8 637.8 1241.6 639.7 1243.2 641.8 1244.6 644 1245.7 646.4 1246.6 648.8 1247.1 651.2 1247.1 653.5 1246.6 655.8 1245.7 657.9 1244.4 660 1242.9 662.1 1241.4 664.3 1239.9 666.5 1238.6 668.8 1237.5 671.1 1236.7 673.5 1236 675.9 1235.5 678.4 1235.1 680.9 1234.8 683.4 1234.6 685.9 1234.3 688.4 1234 690.8 1233.7 693.3 1233.4 695.7 1233.5 698.1 1234.1 700.4 1234.9 702.8 1235.8 705.2 1236.6 707.6 1237 710.1 1237.2 712.6 1237.2 715.1 1237.2 717.6 1237.2 720.1 1237.2 722.6 1237.2 725.1 1237.2 727.6 1237.3 730.1 1237.3 732.6 1237.3 735.1 1237.4 737.6 1237.4 740.1 1237.4 742.6 1237.4 745.1 1237.5 747.6 1237.5 750.1 1237.5 752.6 1237.5 755.1 1237.5 757.6 1237.5 760.1 1237.4 762.6 1237.4 765.1 1237.4 767.6 1237.5 770 1237.7 772.5 1238.1 774.9 1238.6 777.3 1239.4 779.6 1240.4 782 1241.5 784.3 1242.5 786.7 1243.5 789 1244.3 791.4 1244.9 793.8 1245.2 796.2 1245.1 798.6 1244.6 801.1 1243.9 803.5 1243.1 806 1242.4 808.5 1241.8 811 1241.5 813.5 1241.4 815.9 1241.4 818.4 1241.4 820.8 1241.1 823.3 1240.6 825.7 1239.9 828.1 1239.2 830.5 1238.5 833 1238 835.4 1237.6 837.9 1237.4 840.4 1237.2 842.9 1237.2 845.4 1237.2 848 1237.3 850.5 1237.4 853 1237.5 855.5 1237.6 858 1237.7 860.5 1237.8 863 1238 865.5 1238.1 868 1238.3 870.4 1238.5 872.9 1238.7 875.4 1238.9 877.9 1239.1 880.4 1239.2 882.9 1239.5 885.4 1239.7 887.9 1239.9 890.4 1240.1 892.8 1240.3 895.3 1240.6 897.8 1240.8 900.3 1241 902.8 1241.2 905.3 1241.4 907.8 1241.6 910.3 1241.8 912.8 1241.9 915.3 1242.1 917.8 1242.2 920.3 1242.4 922.8 1242.5 925.3 1242.6 927.8 1242.7 930.3 1242.8 932.8 1242.8 935.2 1242.8 937.7 1242.8 940.2 1242.8 942.7 1242.7 945.2 1242.6 947.7 1242.5 950.2 1242.3 952.7 1242.2 955.2 1242 957.7 1241.7 960.2 1241.5 962.6 1241.2 965.1 1241 967.6 1240.7 970.1 1240.4 972.6 1240.2 975.1 1239.9 977.6 1239.6 980.1 1239.3 982.6 1239.1 985.1 1238.8 987.5 1238.6 990 1238.4 992.5 1238.2 995 1238 997.5 1237.9 1000 1237.7 1002.5 1237.6 1005 1237.4 1007.5 1237.3 1010 1237.1 1012.5 1237 1015 1236.9 1017.5 1236.7 1020 1236.6 1022.5 1236.4 1025 1236.3 1027.5 1236.2 1029.9 1236 1032.4 1235.9 1034.9 1235.7 1037.4 1235.6 1039.9 1235.4 1042.4 1235.3 1044.9 1235.1 1047.4 1235 1049.9 1234.9 1052.4 1234.7 1054.9 1234.6 1057.4 1234.5 1059.9 1234.4 1062.4 1234.3 1064.9 1234.2 1067.4 1234.1 1069.9 1234 1072.4 1233.9 1074.9 1233.9 1077.4 1233.8 1079.9 1233.8 1082.4 1233.8 1084.9 1233.8 1087.4 1233.7 1089.9 1233.7 1092.4 1233.8 1094.9 1233.8 1097.4 1233.8 1099.9 1233.9 1102.4 1233.9 1104.9 1234 1107.4 1234.1 1109.9 1234.2 1112.4 1234.3 1114.9 1234.4 1117.4 1234.5 1119.9 1234.6 1122.4 1234.8 1124.9 1234.9 1127.4 1235.1 1129.8 1235.2 1132.3 1235.4 1134.8 1235.6 1137.3 1235.8 1139.8 1236 1142.3 1236.2 1144.8 1236.5 1147.3 1236.7 1149.8 1236.9 1152.3 1237.2 1154.8 1237.4 1157.3 1237.6 1159.7 1237.7 1162.2 1237.7 1164.7 1237.6 1167.2 1237.4 1169.6 1237.1 1172.1 1236.7 1174.6 1236.2 1177 1235.8 1179.5 1235.4 1182 1235 1184.4 1234.6 1186.9 1234.2 1189.4 1233.8 1191.9 1233.5 1194.3 1233.1 1196.8 1232.8 1199.3 1232.5 1201.8 1232.3 1204.3 1232 1206.8 1231.8 1209.2 1231.5 1211.7 1231.3 1214.2 1231.1 1216.7 1230.9 1219.2 1230.8 1221.7 1230.6 1224.2 1230.5 1226.7 1230.4 1229.2 1230.3 1231.7 1230.2 1234.2 1230.2 1236.7 1230.2 1239.2 1230.2 1241.7 1230.3 1244.2 1230.4 1246.7 1230.5 1249.2 1230.6 1251.7 1230.8 1254.2 1231 1256.7 1231.2 1259.2 1231.4 1261.6 1231.7 1264.1 1231.9 1266.6 1232.2 1269.1 1232.5 1271.6 1232.8 1274.1 1233.1 1276.6 1233.3 1279.1 1233.6 1281.5 1233.9 1284 1234.2 1286.5 1234.5 1289 1234.8 1291.5 1235.1 1293.9 1235.4 1296.4 1235.7 1298.9 1236 1301.3 1236.3 1303.8 1236.6 1306.3 1236.9 1308.8 1237.2 1311.3 1237.6 1313.8 1237.9 1316.3 1238.2 1318.8 1238.5 1321.3 1238.8 1323.8 1239.1 1326.2 1239.3 1328.7 1239.4 1331.2 1239.4 1333.7 1239.2 1336.2 1239 1338.6 1238.7 1341.1 1238.4 1343.5 1237.9 1346 1237.5 1348.5 1236.9 1350.9 1236.4 1353.4 1235.9 1355.8 1235.4 1358.3 1234.8 1360.8 1234.4 1363.2 1233.9 1365.7 1233.5 1368.2 1233.1 1370.7 1232.8 1373.1 1232.5 1375.6 1232.2 1378.1 1232 1380.6 1231.8 1383.1 1231.6 1385.6 1231.4 1388.1 1231.2 1390.6 1231.1 1393.1 1230.9 1395.5 1230.8 1398 1230.7 1400.5 1230.6 1403 1230.5 1405.5 1230.5 1408 1230.4 1410.5 1230.3 1413 1230.3 1415.5 1230.2 1418 1230.2 1420.5 1230.2 1423 1230.2 1425.5 1230.2 1428 1230.3 1430.5 1230.4 1433 1230.4 1435.5 1230.5 1438 1230.6 1440.5 1230.8 1443 1230.9 1445.5 1231.1 1448 1231.3 1450.5 1231.5 1453 1231.8 1455.5 1232.1 1457.9 1232.4 1460.4 1232.7 1462.9 1233 1465.4 1233.4 1467.8 1233.8 1470.3 1234.3 1472.8 1234.7 1475.2 1235.2 1477.7 1235.7 1480.2 1236.2 1482.6 1236.7 1485.1 1237.1 1487.6 1237.5 1490 1237.9 1492.5 1238.2 1495 1238.5 1497.4 1238.6 1499.9 1238.7 1502.4 1238.6 1504.9 1238.5 1507.4 1238.3 1509.8 1238 1512.3 1237.6 1514.8 1237.1 1517.3 1236.6 1519.7 1236 1522.2 1235.3 1524.6 1234.7 1527 1234 1529.5 1233.3 1531.9 1232.6 1534.3 1232 1536.7 1231.4 1539.1 1231 1541.6 1230.6 1544 1230.3 1546.5 1230.1 1549 1230.1 1551.5 1230.1 1554 1230.1 1556.5 1230.2 1559 1230.3 1561.5 1230.5 1564 1230.6 1566.5 1230.8 1569 1231 1571.5 1231.1 1574 1231.4 1576.5 1231.6 1579 1231.8 1581.5 1232 1584 1232.3 1586.5 1232.5 1589 1232.8 1591.5 1233.1 1594 1233.3 1596.5 1233.6 1599 1233.8 1601.4 1234.1 1603.9 1234.3 1606.4 1234.5 1608.9 1234.8 1611.4 1235 1613.8 1235.2 1616.3 1235.4 1618.8 1235.6 1621.3 1235.7 1623.8 1235.9 1626.2 1236.1 1628.7 1236.2 1631.2 1236.4 1633.7 1236.6 1636.2 1236.8 1638.6 1237 1641.1 1237.1 1643.6 1237.3 1646.1 1237.5 1648.6 1237.8 1651.2 1238 1653.7 1238.2 1656.2 1238.5 1658.7 1238.8 1661.3 1239.1 1663.8 1239.4 1666.3 1239.6 1668.8 1239.7 1671.2 1239.7 1673.6 1239.5 1676 1239.1 1678.2 1238.5 1680.4 1237.6 1682.4 1236.4 1684.4 1234.8 1686.2 1232.8 1687.9 1230.5 1689.5 1228.2 1691.2 1226.3 1692.9 1225.2 1694.8 1225.3 1696.6 1226.7 1698.2 1228.6 1699.7 1231 1701.1 1233.4 1702.7 1235.5 1704.5 1237.3 1706.4 1238.8 1708.4 1240.1 1710.3 1241.6 1712.1 1243.2 1713.6 1245.2 1715 1247.3 1716.4 1249.6 1717.9 1251.7 1719.5 1253.8 1721.4 1255.4 1723.4 1256.2 1725.4 1255.9 1727.2 1254.7 1728.8 1252.9 1730.2 1250.7 1731.6 1248.3 1733.1 1246.1 1734.8 1244 1736.6 1242.3 1738.6 1240.9 1740.8 1239.6 1743 1238.5 1745.3 1237.5 1747.6 1236.6 1749.9 1235.6 1752.1 1234.6 1754.3 1233.5 1756.5 1232.1 1758.6 1230.5 1760.7 1228.7 1762.8 1227.2 1765 1226.2 1767.2 1226 1769.5 1226.5 1771.8 1227.4 1774 1228.5 1776.2 1229.8 1778.3 1231.2 1780.4 1232.7 1782.5 1234.1 1784.6 1235.4 1786.8 1236.6 1789 1237.5 1791.3 1238.2 1793.8 1238.6 1796.3 1238.6 1799 1238.2 1801.3 1237.5 1801.3 1241.7 1799 1242.4 1796.3 1242.8 1793.8 1242.8 1791.3 1242.4 1789 1241.7 1786.8 1240.8 1784.6 1239.6 1782.5 1238.3 1780.4 1236.9 1778.3 1235.4 1776.2 1234 1774 1232.7 1771.8 1231.6 1769.5 1230.7 1767.2 1230.2 1765 1230.4 1762.8 1231.4 1760.7 1232.9 1758.6 1234.7 1756.5 1236.3 1754.3 1237.7 1752.1 1238.8 1749.9 1239.8 1747.6 1240.8 1745.3 1241.7 1743 1242.7 1740.8 1243.8 1738.6 1245.1 1736.6 1246.5 1734.8 1248.2 1733.1 1250.2 1731.6 1252.5 1730.2 1254.9 1728.8 1257.1 1727.2 1258.9 1725.4 1260.1 1723.4 1260.4 1721.4 1259.6 1719.5 1258 1717.9 1255.9 1716.4 1253.8 1715 1251.5 1713.6 1249.4 1712.1 1247.4 1710.3 1245.8 1708.4 1244.3 1706.4 1243 1704.5 1241.5 1702.7 1239.7 1701.1 1237.5 1699.7 1235.2 1698.2 1232.8 1696.6 1230.8 1694.8 1229.5 1692.9 1229.4 1691.2 1230.5 1689.5 1232.4 1687.9 1234.7 1686.2 1237 1684.4 1239 1682.4 1240.6 1680.4 1241.8 1678.2 1242.7 1676 1243.3 1673.6 1243.7 1671.2 1243.9 1668.8 1243.9 1666.3 1243.8 1663.8 1243.6 1661.3 1243.3 1658.7 1243 1656.2 1242.7 1653.7 1242.4 1651.2 1242.2 1648.6 1242 1646.1 1241.7 1643.6 1241.5 1641.1 1241.3 1638.6 1241.1 1636.2 1241 1633.7 1240.8 1631.2 1240.6 1628.7 1240.4 1626.2 1240.3 1623.8 1240.1 1621.3 1239.9 1618.8 1239.8 1616.3 1239.6 1613.8 1239.4 1611.4 1239.2 1608.9 1239 1606.4 1238.7 1603.9 1238.5 1601.4 1238.3 1599 1238 1596.5 1237.8 1594 1237.5 1591.5 1237.2 1589 1237 1586.5 1236.7 1584 1236.5 1581.5 1236.2 1579 1236 1576.5 1235.8 1574 1235.5 1571.5 1235.3 1569 1235.1 1566.5 1235 1564 1234.8 1561.5 1234.6 1559 1234.5 1556.5 1234.4 1554 1234.3 1551.5 1234.3 1549 1234.3 1546.5 1234.3 1544 1234.5 1541.6 1234.8 1539.1 1235.1 1536.7 1235.6 1534.3 1236.2 1531.9 1236.8 1529.5 1237.5 1527 1238.2 1524.6 1238.9 1522.2 1239.5 1519.7 1240.2 1517.3 1240.8 1514.8 1241.3 1512.3 1241.8 1509.8 1242.1 1507.4 1242.5 1504.9 1242.7 1502.4 1242.8 1499.9 1242.9 1497.4 1242.8 1495 1242.6 1492.5 1242.4 1490 1242.1 1487.6 1241.7 1485.1 1241.3 1482.6 1240.9 1480.2 1240.4 1477.7 1239.9 1475.2 1239.4 1472.8 1238.9 1470.3 1238.5 1467.8 1238 1465.4 1237.6 1462.9 1237.2 1460.4 1236.9 1457.9 1236.5 1455.5 1236.2 1453 1236 1450.5 1235.7 1448 1235.5 1445.5 1235.3 1443 1235.1 1440.5 1235 1438 1234.8 1435.5 1234.7 1433 1234.6 1430.5 1234.5 1428 1234.5 1425.5 1234.4 1423 1234.4 1420.5 1234.4 1418 1234.4 1415.5 1234.4 1413 1234.5 1410.5 1234.5 1408 1234.6 1405.5 1234.6 1403 1234.7 1400.5 1234.8 1398 1234.9 1395.5 1235 1393.1 1235.1 1390.6 1235.3 1388.1 1235.4 1385.6 1235.6 1383.1 1235.8 1380.6 1235.9 1378.1 1236.2 1375.6 1236.4 1373.1 1236.7 1370.7 1237 1368.2 1237.3 1365.7 1237.7 1363.2 1238.1 1360.8 1238.5 1358.3 1239 1355.8 1239.5 1353.4 1240.1 1350.9 1240.6 1348.5 1241.1 1346 1241.6 1343.5 1242.1 1341.1 1242.5 1338.6 1242.9 1336.2 1243.2 1333.7 1243.4 1331.2 1243.6 1328.7 1243.6 1326.2 1243.5 1323.8 1243.3 1321.3 1243 1318.8 1242.7 1316.3 1242.4 1313.8 1242.1 1311.3 1241.8 1308.8 1241.4 1306.3 1241.1 1303.8 1240.8 1301.3 1240.5 1298.9 1240.2 1296.4 1239.9 1293.9 1239.6 1291.5 1239.3 1289 1239 1286.5 1238.7 1284 1238.4 1281.5 1238.1 1279.1 1237.8 1276.6 1237.5 1274.1 1237.2 1271.6 1237 1269.1 1236.7 1266.6 1236.4 1264.1 1236.1 1261.6 1235.9 1259.2 1235.6 1256.7 1235.4 1254.2 1235.2 1251.7 1235 1249.2 1234.8 1246.7 1234.7 1244.2 1234.6 1241.7 1234.5 1239.2 1234.4 1236.7 1234.4 1234.2 1234.4 1231.7 1234.4 1229.2 1234.5 1226.7 1234.6 1224.2 1234.7 1221.7 1234.8 1219.2 1234.9 1216.7 1235.1 1214.2 1235.3 1211.7 1235.5 1209.2 1235.7 1206.8 1235.9 1204.3 1236.2 1201.8 1236.5 1199.3 1236.7 1196.8 1237 1194.3 1237.3 1191.9 1237.7 1189.4 1238 1186.9 1238.4 1184.4 1238.8 1182 1239.1 1179.5 1239.6 1177 1240 1174.6 1240.4 1172.1 1240.9 1169.6 1241.3 1167.2 1241.6 1164.7 1241.8 1162.2 1241.9 1159.7 1241.9 1157.3 1241.8 1154.8 1241.6 1152.3 1241.4 1149.8 1241.1 1147.3 1240.9 1144.8 1240.6 1142.3 1240.4 1139.8 1240.2 1137.3 1240 1134.8 1239.8 1132.3 1239.6 1129.8 1239.4 1127.4 1239.3 1124.9 1239.1 1122.4 1238.9 1119.9 1238.8 1117.4 1238.7 1114.9 1238.6 1112.4 1238.5 1109.9 1238.4 1107.4 1238.3 1104.9 1238.2 1102.4 1238.1 1099.9 1238.1 1097.4 1238 1094.9 1238 1092.4 1238 1089.9 1237.9 1087.4 1237.9 1084.9 1237.9 1082.4 1238 1079.9 1238 1077.4 1238 1074.9 1238.1 1072.4 1238.1 1069.9 1238.2 1067.4 1238.3 1064.9 1238.4 1062.4 1238.5 1059.9 1238.6 1057.4 1238.7 1054.9 1238.8 1052.4 1238.9 1049.9 1239.1 1047.4 1239.2 1044.9 1239.3 1042.4 1239.5 1039.9 1239.6 1037.4 1239.8 1034.9 1239.9 1032.4 1240.1 1029.9 1240.2 1027.5 1240.3 1025 1240.5 1022.5 1240.6 1020 1240.8 1017.5 1240.9 1015 1241 1012.5 1241.2 1010 1241.3 1007.5 1241.5 1005 1241.6 1002.5 1241.8 1000 1241.9 997.5 1242.1 995 1242.2 992.5 1242.4 990 1242.6 987.5 1242.8 985.1 1243 982.6 1243.3 980.1 1243.5 977.6 1243.8 975.1 1244.1 972.6 1244.3 970.1 1244.6 967.6 1244.9 965.1 1245.2 962.6 1245.4 960.2 1245.7 957.7 1245.9 955.2 1246.2 952.7 1246.4 950.2 1246.5 947.7 1246.7 945.2 1246.8 942.7 1246.9 940.2 1247 937.7 1247 935.2 1247 932.8 1247 930.3 1246.9 927.8 1246.9 925.3 1246.8 922.8 1246.7 920.3 1246.6 917.8 1246.4 915.3 1246.3 912.8 1246.1 910.3 1246 907.8 1245.8 905.3 1245.6 902.8 1245.4 900.3 1245.2 897.8 1245 895.3 1244.8 892.8 1244.5 890.4 1244.3 887.9 1244.1 885.4 1243.9 882.9 1243.7 880.4 1243.4 877.9 1243.2 875.4 1243 872.9 1242.9 870.4 1242.7 868 1242.5 865.5 1242.3 863 1242.2 860.5 1242 858 1241.9 855.5 1241.8 853 1241.7 850.5 1241.6 848 1241.5 845.4 1241.4 842.9 1241.4 840.4 1241.4 837.9 1241.5 835.4 1241.8 833 1242.2 830.5 1242.7 828.1 1243.4 825.7 1244.1 823.3 1244.8 820.8 1245.3 818.4 1245.5 815.9 1245.6 813.5 1245.6 811 1245.7 808.5 1246 806 1246.6 803.5 1247.3 801.1 1248.1 798.6 1248.8 796.2 1249.3 793.8 1249.4 791.4 1249.1 789 1248.5 786.7 1247.7 784.3 1246.7 782 1245.6 779.6 1244.6 777.3 1243.6 774.9 1242.8 772.5 1242.3 770 1241.9 767.6 1241.7 765.1 1241.6 762.6 1241.6 760.1 1241.6 757.6 1241.7 755.1 1241.7 752.6 1241.7 750.1 1241.7 747.6 1241.7 745.1 1241.7 742.6 1241.6 740.1 1241.6 737.6 1241.6 735.1 1241.5 732.6 1241.5 730.1 1241.5 727.6 1241.5 725.1 1241.4 722.6 1241.4 720.1 1241.4 717.6 1241.4 715.1 1241.4 712.6 1241.4 710.1 1241.4 707.6 1241.2 705.2 1240.8 702.8 1240 700.4 1239.1 698.1 1238.3 695.7 1237.7 693.3 1237.6 690.8 1237.9 688.4 1238.2 685.9 1238.5 683.4 1238.8 680.9 1239 678.4 1239.3 675.9 1239.7 673.5 1240.2 671.1 1240.9 668.8 1241.7 666.5 1242.8 664.3 1244.1 662.1 1245.6 660 1247.1 657.9 1248.6 655.8 1249.9 653.5 1250.8 651.2 1251.3 648.8 1251.3 646.4 1250.8 644 1249.9 641.8 1248.8 639.7 1247.4 637.8 1245.8 636.2 1244 634.7 1242 633.4 1239.9 632.3 1237.8 631.3 1235.5 630.4 1233.1 629.6 1230.7 628.8 1228.2 628.1 1225.8 627.4 1223.3 626.6 1220.8 625.9 1218.4 625.2 1215.9 624.5 1213.5 623.8 1211.1 623.1 1208.7 622.5 1206.3 621.8 1203.9 621.1 1201.5 620.5 1199.1 619.9 1196.7 619.2 1194.3 618.6 1191.9 618.1 1189.5 617.5 1187.1 617 1184.6 616.5 1182.2 616 1179.8 615.5 1177.3 615.1 1174.9 614.6 1172.4 614.2 1170 613.8 1167.5 613.4 1165 613 1162.6 612.6 1160.1 612.2 1157.6 611.9 1155.1 611.5 1152.7 611.2 1150.2 610.9 1147.7 610.5 1145.2 610.2 1142.7 609.9 1140.2 609.6 1137.8 609.3 1135.3 609 1132.8 608.7 1130.3 608.4 1127.8 608.1 1125.3 607.8 1122.8 607.5 1120.3 607.2 1117.8 606.9 1115.4 606.6 1112.9 606.2 1110.4 606 1107.9 605.6 1105.4 605.4 1102.9 605 1100.5 604.8 1098 604.5 1095.5 604.2 1093 603.9 1090.5 603.6 1088.1 603.3 1085.6 603 1083.1 602.7 1080.6 602.4 1078.1 602.1 1075.6 601.8 1073.2 601.6 1070.7 601.3 1068.2 601 1065.7 600.7 1063.2 600.5 1060.8 600.2 1058.3 599.9 1055.8 599.6 1053.3 599.4 1050.8 599.1 1048.3 598.9 1045.8 598.6 1043.4 598.3 1040.9 598.1 1038.4 597.8 1035.9 597.6 1033.4 597.3 1030.9 597.1 1028.4 596.8 1026 596.6 1023.5 596.3 1021 596.1 1018.5 595.8 1016 595.6 1013.5 595.4 1011.1 595.1 1008.6 594.9 1006.1 594.6 1003.6 594.4 1001.1 594.2 998.6 594 996.1 593.7 993.6 593.5 991.1 593.3 988.6 593 986.2 592.8 983.7 592.6 981.2 592.4 978.7 592.1 976.2 591.9 973.7 591.7 971.2 591.5 968.7 591.3 966.2 591.1 963.8 590.9 961.3 590.6 958.8 590.4 956.3 590.2 953.8 590 951.3 589.8 948.8 589.6 946.3 589.4 943.8 589.2 941.3 589 938.8 588.8 936.4 588.6 933.9 588.4 931.4 588.2 928.9 588 926.4 587.8 923.9 587.6 921.4 587.4 918.9 587.2 916.4 587 913.9 586.8 911.4 586.6 908.9 586.5 906.4 586.3 903.9 586.1 901.5 585.9 899 585.7 896.5 585.5 894 585.3 891.5 585.1 889 585 886.5 584.8 884 584.6 881.5 584.4 879 584.2 876.5 584 874 583.9 871.5 583.7 869 583.5 866.5 583.3 864.1 583.1 861.6 583 859.1 582.8 856.6 582.6 854.1 582.4 851.6 582.2 849.1 582.1 846.6 581.9 844.1 581.7 841.6 581.5 839.1 581.4 836.6 581.2 834.1 581 831.6 580.8 829.1 580.7 826.6 580.5 824.1 580.3 821.6 580.1 819.1 580 816.7 579.8 814.2 579.6 811.7 579.5 809.2 579.3 806.7 579.1 804.2 579 801.7 578.8 799.2 578.6 796.7 578.5 794.2 578.3 791.7 578.1 789.2 578 786.7 577.8 784.2 577.6 781.7 577.5 779.2 577.3 776.7 577.1 774.2 577 771.8 576.8 769.3 576.6 766.8 576.5 764.3 576.3 761.8 576.2 759.3 576 756.8 575.9 754.3 575.7 751.8 575.5 749.3 575.4 746.8 575.2 744.3 575.1 741.8 574.9 739.3 574.7 736.8 574.6 734.3 574.4 731.8 574.3 729.3 574.1 726.8 574 724.4 573.8 721.9 573.6 719.4 573.5 716.9 573.4 714.4 573.2 711.9 573 709.4 572.9 706.9 572.7 704.4 572.6 701.9 572.4 699.4 572.3 696.9 572.1 694.4 572 691.9 571.8 689.4 571.7 686.9 571.5 684.4 571.4 681.9 571.2 679.4 571.1 676.9 570.9 674.4 570.8 671.9 570.6 669.5 570.5 667 570.4 664.5 570.2 662 570.1 659.5 569.9 657 569.8 654.5 569.6 652 569.5 649.5 569.4 647 569.2 644.5 569.1 642 568.9 639.5 568.8 637 568.6 634.5 568.5 632 568.4 629.5 568.2 627 568.1 624.5 567.9 622 567.8 619.5 567.7 617 567.5 614.5 567.4 612 567.2 609.5 567.1 607.1 567 604.6 566.8 602.1 566.7 599.6 566.6 597.1 566.4 594.6 566.3 592.1 566.2 589.6 566 587.1 565.9 584.6 565.8 582.1 565.6 579.6 565.5 577.1 565.4 574.6 565.2 572.1 565.1 569.6 565 567.1 564.8 564.6 564.7 562.1 564.6 559.6 564.4 557.1 564.3 554.6 564.2 552.1 564 549.6 563.9 547.1 563.8 544.6 563.6 542.1 563.5 539.6 563.4 537.1 563.3 534.6 563.1 532.2 563 529.7 562.9 527.2 562.8 524.7 562.6 522.2 562.5 519.7 562.4 517.2 562.2 514.7 562.1 512.2 562 509.7 561.9 507.2 561.8 504.7 561.6 502.2 561.5 499.7 561.4 497.2 561.3 494.7 561.1 492.2 561 489.7 560.9 487.2 560.8 484.7 560.6 482.2 560.5 479.7 560.4 477.2 560.3 474.7 560.2 472.2 560 469.7 559.9 467.2 559.8 464.7 559.7 462.2 559.5 459.8 559.4 457.2 559.3 454.8 559.2 452.2 559.1 449.8 559 447.3 558.8 444.8 558.7 442.3 558.6 439.8 558.5 437.3 558.4 434.8 558.2 432.3 558.1 429.8 558 427.3 557.9 424.8 557.8 422.3 557.7 419.8 557.6 417.3 557.4 414.8 557.3 412.3 557.2 409.8 557.1 407.3 557 404.8 556.9 402.3 556.8 399.8 556.6 397.3 556.5 394.8 556.4 392.3 556.3 389.8 556.2 387.3 556.1 384.8 556 382.3 555.9 379.8 555.7 377.3 555.6 374.8 555.5 372.3 555.4 369.8 555.3 367.4 555.2 364.9 555.1 362.4 555 359.9 554.9 357.4 554.7 354.9 554.6 352.4 554.5 349.9 554.4 347.4 554.3 344.9 554.2 342.4 554.1 339.9 554 337.4 553.9 334.9 553.8 332.4 553.6 329.9 553.5 327.4 553.4 324.9 553.3 322.4 553.2 319.9 553.1 317.4 553 314.9 552.9 312.4 552.8 309.9 552.7 307.4 552.6 304.9 552.5 302.4 552.4 299.9 552.3 297.4 552.1 294.9 552 292.4 551.9 289.9 551.8 287.4 551.7 284.9 551.6 282.4 551.5 279.9 551.4 277.4 551.3 274.9 551.2 272.4 551.1 269.9 551 267.4 550.9 264.9 550.8 262.4 550.7 259.9 550.6 257.4 550.5 254.9 550.4 252.4 550.3 249.9 550.2 247.4 550.1 245 550 242.5 549.9 240 549.8 237.5 549.7 235 549.6 232.5 549.5 230 549.4 227.5 549.3 225 549.2 222.5 549 220 549 217.5 548.9 215 548.8 212.5 548.6 210 548.5 207.5 548.5 205 548.4 202.5 548.2 200 548.1 197.5 548 195 548 192.5 547.9 190 547.8 187.5 547.6 185 547.5 182.5 547.5 180 547.4 177.5 547.2 175 547.1 172.5 547 170 547 167.5 546.9 165 546.8 162.5 546.7 160 546.6 157.5 546.5 155 546.4 152.5 546.3 150 546.2 147.5 546.1 145 546 142.5 545.9 140 545.8 137.5 545.7 135 545.6 132.5 545.5 130.1 545.4 127.5 545.3 125 545.2 122.5 545.1 120.1 545 117.6 544.9 115.1 544.8 112.6 544.7 110.1 544.6 107.6 544.5 105.1 544.4 102.6 544.3 100.1 544.2 97.6 544.1 95.1 544 92.6 543.9 90.1 543.8 87.6 543.7 85.1 543.6 82.6 543.5 80.1 543.4 77.6 543.3 75.1 543.2 72.6 543.1 70.1 543 67.6 543 65.1 542.9 62.6 542.8 60.1ZM545.5 58 545.6 60.5 545.7 63 545.8 65.5 545.9 68 546 70.5 546 73 546.1 75.5 546.2 78 546.3 80.5 546.4 83 546.5 85.5 546.6 88 546.7 90.5 546.8 93 546.9 95.5 547 98 547.1 100.5 547.2 103 547.3 105.5 547.4 108 547.5 110.5 547.6 113 547.7 115.5 547.8 118 547.9 120.5 548 123 548.1 125.5 548.2 128 548.3 130.4 548.4 132.9 548.5 135.4 548.6 137.9 548.7 140.4 548.8 142.9 548.9 145.4 549 147.9 549.1 150.4 549.2 152.9 549.3 155.4 549.4 157.9 549.5 160.4 549.6 162.9 549.7 165.4 549.8 167.9 549.9 170.4 550 172.9 550.1 175.4 550.2 177.9 550.2 180.4 550.4 182.9 550.5 185.4 550.6 187.9 550.7 190.4 550.8 192.9 550.9 195.4 551 197.9 551.1 200.4 551.2 202.9 551.2 205.4 551.4 207.9 551.5 210.4 551.6 212.9 551.7 215.4 551.8 217.9 551.9 220.4 552 222.9 552.1 225.4 552.2 227.9 552.3 230.4 552.4 232.9 552.5 235.4 552.6 237.9 552.7 240.4 552.8 242.9 552.9 245.3 553 247.8 553.1 250.3 553.2 252.8 553.3 255.3 553.4 257.8 553.5 260.3 553.6 262.8 553.7 265.3 553.8 267.8 553.9 270.3 554 272.8 554.1 275.3 554.2 277.8 554.3 280.3 554.4 282.8 554.5 285.3 554.6 287.8 554.8 290.3 554.9 292.8 555 295.3 555.1 297.8 555.2 300.3 555.3 302.8 555.4 305.3 555.5 307.8 555.6 310.3 555.7 312.8 555.8 315.3 555.9 317.8 556 320.3 556.1 322.8 556.2 325.3 556.4 327.8 556.5 330.3 556.6 332.8 556.7 335.3 556.8 337.8 556.9 340.3 557 342.8 557.1 345.3 557.2 347.8 557.3 350.3 557.4 352.8 557.6 355.3 557.7 357.8 557.8 360.2 557.9 362.8 558 365.2 558.1 367.7 558.2 370.2 558.3 372.7 558.4 375.2 558.6 377.7 558.7 380.2 558.8 382.7 558.9 385.2 559 387.7 559.1 390.2 559.2 392.7 559.3 395.2 559.5 397.7 559.6 400.2 559.7 402.7 559.8 405.2 559.9 407.7 560 410.2 560.1 412.7 560.3 415.2 560.4 417.7 560.5 420.2 560.6 422.7 560.7 425.2 560.8 427.7 561 430.2 561.1 432.7 561.2 435.2 561.3 437.7 561.4 440.2 561.5 442.7 561.7 445.2 561.8 447.7 561.9 450.1 562 452.6 562.1 455.1 562.2 457.6 562.4 460.1 562.5 462.6 562.6 465.1 562.7 467.6 562.9 470.1 563 472.6 563.1 475.1 563.2 477.6 563.3 480.1 563.5 482.6 563.6 485.1 563.7 487.6 563.8 490.1 564 492.6 564.1 495.1 564.2 497.6 564.3 500.1 564.5 502.6 564.6 505.1 564.7 507.6 564.8 510.1 565 512.6 565.1 515.1 565.2 517.6 565.3 520.1 565.5 522.6 565.6 525.1 565.7 527.6 565.8 530.1 566 532.5 566.1 535 566.2 537.5 566.4 540 566.5 542.5 566.6 545 566.7 547.5 566.9 550 567 552.5 567.1 555 567.3 557.5 567.4 560 567.5 562.5 567.7 565 567.8 567.5 567.9 570 568.1 572.5 568.2 575 568.3 577.5 568.5 580 568.6 582.5 568.7 585 568.9 587.5 569 590 569.1 592.5 569.3 595 569.4 597.5 569.5 600 569.7 602.5 569.8 605 570 607.4 570.1 609.9 570.2 612.4 570.4 614.9 570.5 617.4 570.6 619.9 570.8 622.4 570.9 624.9 571.1 627.4 571.2 629.9 571.3 632.4 571.5 634.9 571.6 637.4 571.8 639.9 571.9 642.4 572.1 644.9 572.2 647.4 572.3 649.9 572.5 652.4 572.6 654.9 572.8 657.4 572.9 659.9 573.1 662.4 573.2 664.9 573.4 667.4 573.5 669.8 573.6 672.3 573.8 674.8 573.9 677.3 574.1 679.8 574.2 682.3 574.4 684.8 574.5 687.3 574.7 689.8 574.8 692.3 575 694.8 575.1 697.3 575.3 699.8 575.4 702.3 575.6 704.8 575.7 707.3 575.9 709.8 576.1 712.3 576.2 714.8 576.4 717.3 576.5 719.8 576.7 722.2 576.8 724.7 577 727.2 577.1 729.7 577.3 732.2 577.4 734.7 577.6 737.2 577.8 739.7 577.9 742.2 578.1 744.7 578.2 747.2 578.4 749.7 578.6 752.2 578.7 754.7 578.9 757.2 579 759.7 579.2 762.2 579.4 764.7 579.5 767.2 579.7 769.6 579.8 772.1 580 774.6 580.2 777.1 580.3 779.6 580.5 782.1 580.7 784.6 580.8 787.1 581 789.6 581.2 792.1 581.3 794.6 581.5 797.1 581.7 799.6 581.8 802.1 582 804.6 582.2 807.1 582.3 809.6 582.5 812.1 582.7 814.6 582.9 817 583 819.5 583.2 822 583.4 824.5 583.5 827 583.7 829.5 583.9 832 584.1 834.5 584.2 837 584.4 839.5 584.6 842 584.8 844.5 584.9 847 585.1 849.5 585.3 852 585.5 854.5 585.7 857 585.8 859.5 586 862 586.2 864.4 586.4 866.9 586.6 869.4 586.7 871.9 586.9 874.4 587.1 876.9 587.3 879.4 587.5 881.9 587.7 884.4 587.8 886.9 588 889.4 588.2 891.9 588.4 894.4 588.6 896.9 588.8 899.4 589 901.8 589.2 904.3 589.3 906.8 589.5 909.3 589.7 911.8 589.9 914.3 590.1 916.8 590.3 919.3 590.5 921.8 590.7 924.3 590.9 926.8 591.1 929.3 591.3 931.8 591.5 934.2 591.7 936.7 591.9 939.2 592.1 941.7 592.3 944.2 592.5 946.7 592.7 949.2 592.9 951.7 593.1 954.2 593.4 956.7 593.6 959.2 593.8 961.6 594 964.1 594.2 966.6 594.4 969.1 594.6 971.6 594.9 974.1 595.1 976.6 595.3 979.1 595.5 981.6 595.7 984.1 596 986.5 596.2 989 596.4 991.5 596.7 994 596.9 996.5 597.1 999 597.3 1001.5 597.6 1004 597.8 1006.5 598.1 1009 598.3 1011.4 598.5 1013.9 598.8 1016.4 599 1018.9 599.3 1021.4 599.5 1023.9 599.8 1026.3 600 1028.8 600.3 1031.3 600.5 1033.8 600.8 1036.3 601 1038.8 601.3 1041.3 601.5 1043.8 601.8 1046.2 602.1 1048.7 602.3 1051.2 602.6 1053.7 602.9 1056.2 603.2 1058.7 603.4 1061.1 603.7 1063.6 604 1066.1 604.2 1068.6 604.5 1071.1 604.8 1073.5 605.1 1076 605.4 1078.5 605.7 1081 606 1083.5 606.3 1086 606.5 1088.4 606.8 1090.9 607.1 1093.4 607.4 1095.9 607.7 1098.4 608 1100.8 608.3 1103.3 608.6 1105.8 608.9 1108.3 609.2 1110.8 609.5 1113.3 609.8 1115.8 610.1 1118.2 610.4 1120.7 610.7 1123.2 611 1125.7 611.3 1128.2 611.7 1130.7 612 1133.2 612.3 1135.7 612.6 1138.1 612.9 1140.6 613.2 1143.1 613.5 1145.6 613.9 1148.1 614.2 1150.6 614.5 1153 614.9 1155.5 615.2 1158 615.6 1160.5 616 1163 616.4 1165.4 616.8 1167.9 617.2 1170.3 617.7 1172.8 618.1 1175.2 618.6 1177.7 619.1 1180.1 619.6 1182.5 620.1 1185 620.6 1187.4 621.2 1189.8 621.8 1192.2 622.4 1194.6 623 1197 623.6 1199.4 624.3 1201.8 624.9 1204.2 625.6 1206.6 626.3 1209 627 1211.4 627.7 1213.8 628.4 1216.3 629.1 1218.7 629.8 1221.2 630.5 1223.7 631.2 1226.1 632 1228.6 632.8 1231 633.6 1233.4 634.5 1235.7 635.6 1237.8 636.9 1239.9 638.4 1241.9 640 1243.7 641.9 1245.3 644 1246.7 646.2 1247.8 648.6 1248.7 651 1249.2 653.4 1249.2 649 1249.2 646.6 1249.2 644.2 1248.7 641.8 1247.8 639.6 1246.7 637.5 1245.3 635.6 1243.7 634 1241.9 632.5 1239.9 631.2 1237.8 630.1 1235.7 629 1233.4 628 1231 627.1 1228.6 626.4 1226.1 625.6 1223.7 624.9 1221.2 624.2 1218.7 623.5 1216.3 622.8 1213.8 622.1 1211.4 621.4 1209 620.7 1206.6 620 1204.2 619.3 1201.8 618.6 1199.4 618 1197 617.4 1194.6 616.7 1192.2 616.1 1189.8 615.5 1187.4 615 1185 614.4 1182.5 613.9 1180.1 613.4 1177.7 612.9 1175.2 612.5 1172.8 612 1170.3 611.6 1167.9 611.1 1165.4 610.7 1163 610.3 1160.5 610 1158 609.6 1155.5 609.2 1153 608.9 1150.6 608.5 1148.1 608.2 1145.6 607.9 1143.1 607.5 1140.6 607.2 1138.1 606.9 1135.7 606.6 1133.2 606.3 1130.7 606 1128.2 605.7 1125.7 605.4 1123.2 605.1 1120.7 604.8 1118.2 604.5 1115.8 604.2 1113.3 603.9 1110.8 603.6 1108.3 603.3 1105.8 603 1103.3 602.7 1100.8 602.4 1098.4 602.1 1095.9 601.8 1093.4 601.5 1090.9 601.2 1088.4 600.9 1086 600.6 1083.5 600.3 1081 600 1078.5 599.7 1076 599.4 1073.5 599.2 1071.1 598.9 1068.6 598.6 1066.1 598.3 1063.6 598 1061.1 597.8 1058.7 597.5 1056.2 597.2 1053.7 597 1051.2 596.7 1048.7 596.4 1046.2 596.2 1043.8 595.9 1041.3 595.6 1038.8 595.4 1036.3 595.1 1033.8 594.9 1031.3 594.6 1028.8 594.4 1026.3 594.1 1023.9 593.9 1021.4 593.6 1018.9 593.4 1016.4 593.1 1013.9 592.9 1011.4 592.6 1009 592.4 1006.5 592.2 1004 591.9 1001.5 591.7 999 591.5 996.5 591.2 994 591 991.5 590.8 989 590.6 986.5 590.3 984.1 590.1 981.6 589.9 979.1 589.7 976.6 589.4 974.1 589.2 971.6 589 969.1 588.8 966.6 588.6 964.1 588.4 961.6 588.2 959.2 587.9 956.7 587.7 954.2 587.5 951.7 587.3 949.2 587.1 946.7 586.9 944.2 586.7 941.7 586.5 939.2 586.3 936.7 586.1 934.2 585.9 931.8 585.7 929.3 585.5 926.8 585.3 924.3 585.1 921.8 584.9 919.3 584.7 916.8 584.5 914.3 584.3 911.8 584.1 909.3 583.9 906.8 583.8 904.3 583.6 901.8 583.4 899.4 583.2 896.9 583 894.4 582.8 891.9 582.6 889.4 582.4 886.9 582.2 884.4 582.1 881.9 581.9 879.4 581.7 876.9 581.5 874.4 581.3 871.9 581.1 869.4 581 866.9 580.8 864.4 580.6 862 580.4 859.5 580.2 857 580.1 854.5 579.9 852 579.7 849.5 579.5 847 579.4 844.5 579.2 842 579 839.5 578.8 837 578.7 834.5 578.5 832 578.3 829.5 578.1 827 578 824.5 577.8 822 577.6 819.5 577.4 817 577.3 814.6 577.1 812.1 576.9 809.6 576.8 807.1 576.6 804.6 576.4 802.1 576.3 799.6 576.1 797.1 575.9 794.6 575.8 792.1 575.6 789.6 575.4 787.1 575.3 784.6 575.1 782.1 574.9 779.6 574.8 777.1 574.6 774.6 574.4 772.1 574.3 769.6 574.1 767.2 573.9 764.7 573.8 762.2 573.6 759.7 573.5 757.2 573.3 754.7 573.1 752.2 573 749.7 572.8 747.2 572.7 744.7 572.5 742.2 572.4 739.7 572.2 737.2 572 734.7 571.9 732.2 571.7 729.7 571.6 727.2 571.4 724.7 571.3 722.2 571.1 719.8 570.9 717.3 570.8 714.8 570.6 712.3 570.5 709.8 570.3 707.3 570.2 704.8 570 702.3 569.9 699.8 569.7 697.3 569.6 694.8 569.4 692.3 569.3 689.8 569.1 687.3 569 684.8 568.8 682.3 568.7 679.8 568.5 677.3 568.4 674.8 568.2 672.3 568.1 669.8 567.9 667.4 567.8 664.9 567.7 662.4 567.5 659.9 567.4 657.4 567.2 654.9 567.1 652.4 566.9 649.9 566.8 647.4 566.6 644.9 566.5 642.4 566.4 639.9 566.2 637.4 566.1 634.9 565.9 632.4 565.8 629.9 565.7 627.4 565.5 624.9 565.4 622.4 565.2 619.9 565.1 617.4 565 614.9 564.8 612.4 564.7 609.9 564.5 607.4 564.4 605 564.3 602.5 564.1 600 564 597.5 563.9 595 563.7 592.5 563.6 590 563.5 587.5 563.3 585 563.2 582.5 563 580 562.9 577.5 562.8 575 562.6 572.5 562.5 570 562.4 567.5 562.3 565 562.1 562.5 562 560 561.9 557.5 561.7 555 561.6 552.5 561.5 550 561.3 547.5 561.2 545 561.1 542.5 560.9 540 560.8 537.5 560.7 535 560.6 532.5 560.4 530.1 560.3 527.6 560.2 525.1 560.1 522.6 559.9 520.1 559.8 517.6 559.7 515.1 559.5 512.6 559.4 510.1 559.3 507.6 559.2 505.1 559 502.6 558.9 500.1 558.8 497.6 558.7 495.1 558.6 492.6 558.4 490.1 558.3 487.6 558.2 485.1 558.1 482.6 557.9 480.1 557.8 477.6 557.7 475.1 557.6 472.6 557.5 470.1 557.3 467.6 557.2 465.1 557.1 462.6 557 460.1 556.8 457.6 556.7 455.1 556.6 452.6 556.5 450.1 556.4 447.7 556.3 445.2 556.1 442.7 556 440.2 555.9 437.7 555.8 435.2 555.7 432.7 555.5 430.2 555.4 427.7 555.3 425.2 555.2 422.7 555.1 420.2 555 417.7 554.9 415.2 554.7 412.7 554.6 410.2 554.5 407.7 554.4 405.2 554.3 402.7 554.2 400.2 554 397.7 553.9 395.2 553.8 392.7 553.7 390.2 553.6 387.7 553.5 385.2 553.4 382.7 553.3 380.2 553.1 377.7 553 375.2 552.9 372.7 552.8 370.2 552.7 367.7 552.6 365.2 552.5 362.8 552.4 360.2 552.3 357.8 552.1 355.3 552 352.8 551.9 350.3 551.8 347.8 551.7 345.3 551.6 342.8 551.5 340.3 551.4 337.8 551.3 335.3 551.2 332.8 551.1 330.3 550.9 327.8 550.8 325.3 550.7 322.8 550.6 320.3 550.5 317.8 550.4 315.3 550.3 312.8 550.2 310.3 550.1 307.8 550 305.3 549.9 302.8 549.8 300.3 549.7 297.8 549.6 295.3 549.4 292.8 549.3 290.3 549.2 287.8 549.1 285.3 549 282.8 548.9 280.3 548.8 277.8 548.7 275.3 548.6 272.8 548.5 270.3 548.4 267.8 548.3 265.3 548.2 262.8 548.1 260.3 548 257.8 547.9 255.3 547.8 252.8 547.7 250.3 547.6 247.8 547.5 245.3 547.4 242.9 547.3 240.4 547.2 237.9 547.1 235.4 547 232.9 546.9 230.4 546.8 227.9 546.7 225.4 546.6 222.9 546.5 220.4 546.3 217.9 546.2 215.4 546.1 212.9 546 210.4 545.9 207.9 545.8 205.4 545.8 202.9 545.6 200.4 545.5 197.9 545.4 195.4 545.3 192.9 545.2 190.4 545.1 187.9 545 185.4 544.9 182.9 544.8 180.4 544.8 177.9 544.6 175.4 544.5 172.9 544.4 170.4 544.3 167.9 544.2 165.4 544.1 162.9 544 160.4 544 157.9 543.9 155.4 543.8 152.9 543.7 150.4 543.6 147.9 543.5 145.4 543.4 142.9 543.3 140.4 543.2 137.9 543.1 135.4 543 132.9 542.9 130.4 542.8 128 542.7 125.5 542.6 123 542.5 120.5 542.4 118 542.3 115.5 542.2 113 542.1 110.5 542 108 541.9 105.5 541.8 103 541.7 100.5 541.6 98 541.5 95.5 541.4 93 541.3 90.5 541.2 88 541.1 85.5 541 83 540.9 80.5 540.8 78 540.7 75.5 540.6 73 540.5 70.5 540.4 68 540.3 65.5 540.3 63 540.2 60.5 540.1 58ZM1666.6 1241.8 1669 1241.8 1671.4 1241.6 1673.8 1241.2 1676 1240.6 1678.2 1239.7 1680.2 1238.5 1682.2 1236.9 1684 1234.9 1685.7 1232.6 1687.3 1230.3 1689 1228.4 1690.7 1227.3 1695.1 1227.3 1693.4 1228.4 1691.7 1230.3 1690.1 1232.6 1688.4 1234.9 1686.6 1236.9 1684.6 1238.5 1682.6 1239.7 1680.4 1240.6 1678.2 1241.2 1675.8 1241.6 1673.4 1241.8 1671 1241.8ZM1695.1 1227.3 1697 1227.4 1698.8 1228.8 1700.4 1230.7 1701.9 1233.1 1703.3 1235.5 1704.9 1237.6 1706.7 1239.4 1708.6 1240.9 1710.6 1242.2 1712.5 1243.7 1714.3 1245.3 1715.8 1247.3 1717.2 1249.4 1718.6 1251.7 1720.1 1253.8 1721.8 1255.9 1723.6 1257.5 1725.6 1258.3 1721.2 1258.3 1719.2 1257.5 1717.3 1255.9 1715.7 1253.8 1714.2 1251.7 1712.8 1249.4 1711.4 1247.3 1709.9 1245.3 1708.1 1243.7 1706.2 1242.2 1704.2 1240.9 1702.3 1239.4 1700.5 1237.6 1698.9 1235.5 1697.5 1233.1 1696 1230.7 1694.4 1228.8 1692.6 1227.4 1690.7 1227.3ZM1721.2 1258.3 1723.2 1258 1725 1256.8 1726.6 1255 1728 1252.8 1729.4 1250.4 1730.9 1248.2 1732.5 1246.1 1734.4 1244.4 1736.4 1243 1738.5 1241.7 1740.8 1240.6 1743.1 1239.6 1745.4 1238.7 1747.7 1237.7 1749.9 1236.7 1752.1 1235.6 1754.3 1234.2 1756.4 1232.6 1758.5 1230.8 1760.6 1229.3 1762.8 1228.3 1765 1228.1 1769.4 1228.1 1767.2 1228.3 1765 1229.3 1762.9 1230.8 1760.8 1232.6 1758.7 1234.2 1756.5 1235.6 1754.3 1236.7 1752.1 1237.7 1749.8 1238.7 1747.5 1239.6 1745.2 1240.6 1743 1241.7 1740.8 1243 1738.8 1244.4 1737 1246.1 1735.3 1248.2 1733.8 1250.4 1732.4 1252.8 1731 1255 1729.4 1256.8 1727.6 1258 1725.6 1258.3Z" fill="#0f0"/>
</g>
<g stroke="#000" stroke-width="6.9" fill="none" stroke-linecap="butt">
<path d="M252.6 74.8 V1345.4"/>
<path d="M252.6 1321.5 H1797.2"/>
<path d="M227.8 1281.1 H252.6"/>
<path d="M240.2 1080.6 H252.6"/>
<path d="M227.8 880.2 H252.6"/>
<path d="M240.2 679.7 H252.6"/>
<path d="M227.8 479.2 H252.6"/>
<path d="M240.2 278.8 H252.6"/>
<path d="M227.8 78.3 H252.6"/>
<path d="M445.2 1321.5 V1333.2"/>
<path d="M637.9 1321.5 V1345.4"/>
<path d="M830.6 1321.5 V1333.2"/>
<path d="M1023.2 1321.5 V1345.4"/>
<path d="M1215.8 1321.5 V1333.2"/>
<path d="M1408.5 1321.5 V1345.4"/>
<path d="M1601.2 1321.5 V1333.2"/>
<path d="M1793.8 1321.5 V1345.4"/>
</g>
<rect x="987.8" y="205.5" width="509.6" height="310.5" fill="#fff" stroke="#000" stroke-width="4.2"/>
<path d="M1000.5 244.0 H1144.5" stroke="#000" stroke-width="6.4" stroke-linecap="round" fill="none"/>
<path d="M1000.5 323.5 H1144.5" stroke="#f00" stroke-width="6.0" stroke-linecap="round" fill="none"/>
<path d="M1000.5 403.0 H1144.5" stroke="#00f" stroke-width="6.0" stroke-linecap="round" fill="none"/>
<path d="M1000.5 482.5 H1144.5" stroke="#0f0" stroke-width="4.9" stroke-linecap="round" fill="none"/>
<text id="y0.0" class="b" font-size="67.4" text-anchor="end" transform="translate(211.50 1300.70) scale(0.96 1)">0.0</text>
<text id="y0.1" class="b" font-size="67.4" text-anchor="end" transform="translate(211.50 899.77) scale(0.96 1)">0.1</text>
<text id="y0.2" class="b" font-size="67.4" text-anchor="end" transform="translate(211.50 498.83) scale(0.96 1)">0.2</text>
<text id="y0.3" class="b" font-size="67.4" text-anchor="end" transform="translate(211.50 97.90) scale(0.96 1)">0.3</text>
<text id="x300" class="b" font-size="67.4" text-anchor="middle" transform="translate(252.10 1413.20) scale(0.96 1)">300</text>
<text id="x400" class="b" font-size="67.4" text-anchor="middle" transform="translate(637.40 1413.20) scale(0.96 1)">400</text>
<text id="x500" class="b" font-size="67.4" text-anchor="middle" transform="translate(1022.70 1413.20) scale(0.96 1)">500</text>
<text id="x600" class="b" font-size="67.4" text-anchor="middle" transform="translate(1408.00 1413.20) scale(0.96 1)">600</text>
<text id="x700" class="b" font-size="67.4" text-anchor="middle" transform="translate(1793.30 1413.20) scale(0.96 1)">700</text>
<text id="lam" class="sym" font-size="72" text-anchor="start" transform="translate(922.00 1531.40) scale(1.1 1)">λ</text>
<text id="xt" class="" font-size="72.5" text-anchor="start" transform="translate(979.30 1531.40) scale(0.99 1)">(nm)</text>
<text id="yt" class="" font-size="70" text-anchor="middle" transform="translate(93.50 699.20) rotate(-90) scale(1.0095 1)">Absorbance (a.u.)</text>
<text id="l1" class="b" font-size="67.0" text-anchor="start" transform="translate(1165.00 264.20) scale(0.968 1)">TiO<tspan font-size="47" dx="-1.5" dy="18">2</tspan><tspan dy="-18"> (P-25)</tspan></text>
<text id="l2" class="b" font-size="67.0" text-anchor="start" transform="translate(1161.30 345.00) scale(0.968 1)">SnP</text>
<text id="l3" class="b" font-size="67.0" text-anchor="start" transform="translate(1161.30 424.70) scale(0.968 1)">SnP-TNTs</text>
<text id="l4" class="b" font-size="67.0" text-anchor="start" transform="translate(1162.50 504.40) scale(0.968 1)">TNFs</text>
</g></svg></body></html>
